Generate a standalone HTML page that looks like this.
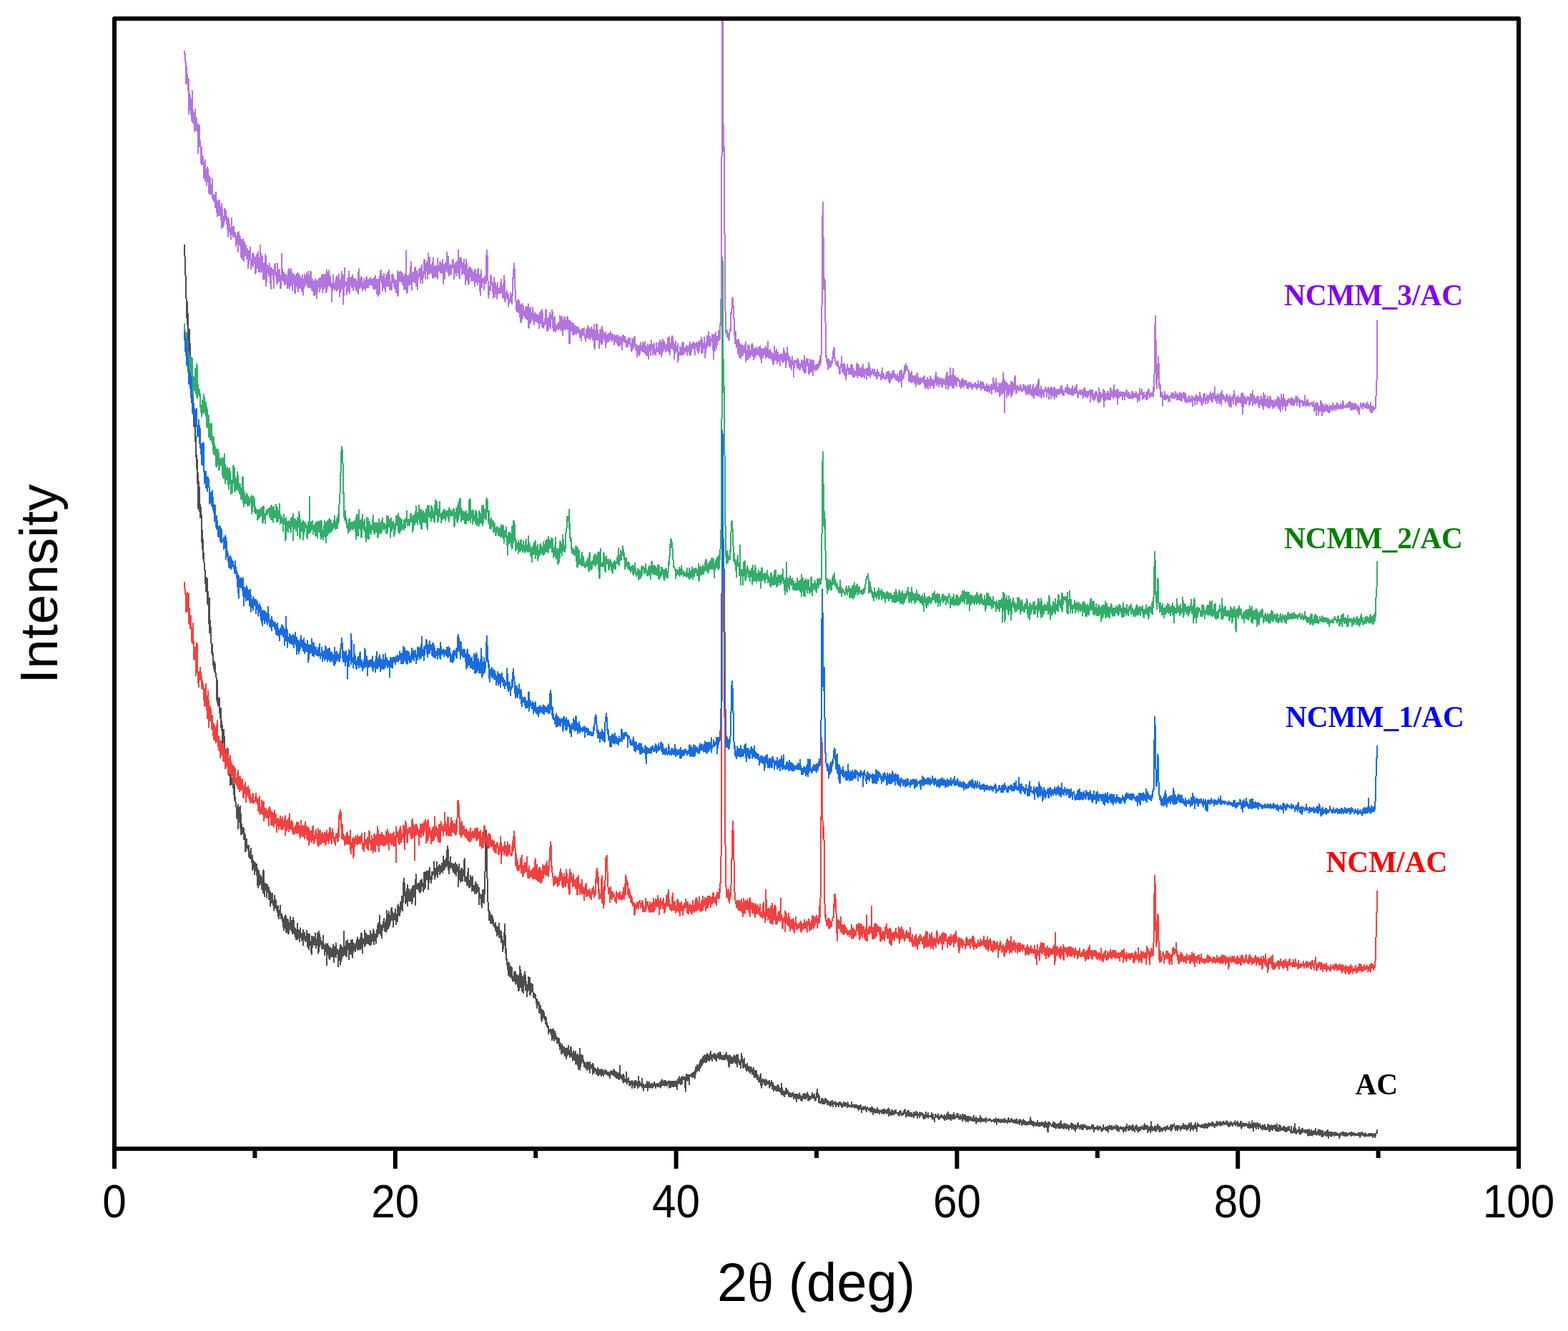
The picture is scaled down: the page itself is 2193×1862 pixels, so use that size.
<!DOCTYPE html>
<html><head><meta charset="utf-8"><title>XRD patterns</title>
<style>html,body{margin:0;padding:0;background:#fff;}
svg{display:block;}
.tk{font-family:"Liberation Sans",Arial,sans-serif;font-size:65.3px;text-anchor:middle;fill:#000;}
.ax{font-family:"Liberation Sans",Arial,sans-serif;font-size:75px;text-anchor:middle;fill:#000;}
.th{font-family:"Liberation Serif","Times New Roman",serif;}
.lg{font-family:"Liberation Serif","Times New Roman",serif;font-weight:bold;font-size:41.3px;}
.c{fill:none;stroke-width:2;stroke-linejoin:round;shape-rendering:crispEdges;}</style></head>
<body>
<svg width="2193" height="1862" viewBox="0 0 2193 1862">
<rect width="2193" height="1862" fill="#fff"/>
<defs><clipPath id="pc"><rect x="163" y="29" width="1958" height="1575"/></clipPath></defs>
<g clip-path="url(#pc)">
<path class="c" stroke="#4d4d4d" stroke-width="2.0" d="M257.8 342l.4 6.8.4 12.6.4 12.1.4 2.3.4 32.6.4 3.4.3 5.7.4 6.2.4 10.5.4 19.9.4-31.6.4 14.5.4 47.3.4-45.3.4 38.6.4-.5.4 15.8.4 12 .4-44.3.4 35.8.3 .3.4 20.4.4 .1.4 32.9.4-20.4.4 33.9.4-20.6.4 13.5.4 2.3.4 4.8.4-8.6.4 22.9.4 6 .3 3.7.4 9.8.4-12 .4 11.1.4 .3.4-7.7.4 29.1.4-7 .4 11.7.4 32.5.4-18.2.4 4.3.4 17.2.4 8.5.3 13.8.4-19.2.4 49.9.4-32 .4-5.7.4 8.3.4 28.7.4 1.8.4 11.6.4-18.9.4 12 .4-4.2.4-3.6.3 26.2.4 22.1.4-.7.4-15.7.4 26.4.4-13.3.4 15.4.4 11.4.4-7.5.4 .8.4 22.5.4-2.6.4 1.9.4 17.5.3-4.9.4 9.6.4-11.2.4 20.4.4-14.8.4 8.6.4-12.4.4 34.8.4-7 .4 8.4.4-17.3.4 23.9.4-.7.3 20.9.4-35.8.4 37 .4 11.9.4-17.7.4 17.6.4-7.4.4 15.2.4 6.7.4 13.4.4-7.7.4-4.9.4 15.6.4-2.4.3 13.5.4-13.6.4 21.3.4-8.9.4 2.9.4 9.5.4-12.4.4 2.8.4 12.6.4-2.4.4 5 .4-.1.4 5.2.4 15.4.3 14.5.4-27.2.4 30.8.4-3.6.4 7.9.4-5.9.4-5 .4 8.2.4-3.4.4-3.8.4 17.4.4 5.6.4-2.5.3 6.6.4-13.4.4 25.9.4-8.4.4 4.6.4 9.4.4-8 .4 31.1.4-9.3.4 2.4.4-7.1.4-10.3.4 17.9.4-8.5.3 10.6.4 2.2.4 10.9.4-4.8.4-.3.4 22.5.4-20.4.4-1.5.4 2.3.4 18.9.4-10.3.4-3.4.4-10.1.3 9.5.4 13.2.4 3.9.4 10.7.4-18.5.4 11.6.4 8.4.4-28.7.4 40.5.4-27.4.4 1.7.4 19.1.4-2.6.4 8.4.3-2.8.4-1 .4-2.3.4-2.4.4 13.6.4-18.3.4 16.8.4 10.4.4-13.4.4 18.8.4 3.6.4-4.8.4 .7.3 8.3.4 3.3.4-4.8.4 20.9.4-2.3.4-2.1.4 5.1.4 1.2.4-19.5.4 32.8.4-29.8.4 14.8.4-8.7.4 15.4.3 .1.4 0 .4-22.8.4 30.2.4-2.8.4-16.4.4 29.1.4-11.5.4-3.3.4 10.6.4-6.1.4 8.6.4-4.5.3-2.8.4-.5.4 16.2.4-4.1.4-5.2.4 2.6.4-.9.4 24.3.4-9.8.4-2.5.4 11.5.4-15 .4-2 .4 5.8.3 6.4.4-1.5.4 .3.4 5 .4-3.1.4-3.6.4 15 .4-6.2.4 1.1.4 7.3.4 .6.4-10 .4 4.1.3-3.6.4-4.5.4 19.4.4-4.7.4-2.3.4-1.8.4 19.8.4-14 .4 8.3.4-1.5.4-5.4.4 10.8.4-1.3.4 9.3.3-4.2.4-12.5.4 9.1.4 1 .4 1.3.4-7.3.4-2 .4 12.1.4 4.5.4-9.9.4 22.7.4-7.5.4-7.2.3 18.8.4-24.5.4 4.3.4 .2.4 16.5.4-13 .4 11 .4-2.9.4-5.4.4 5.5.4-8.7.4 18.9.4-16.5.4 1.2.3 11.3.4-7.5.4 16.7.4-2.7.4-29.8.4 22.5.4-1.5.4 16.5.4-18.1.4 .1.4 3.6.4-.8.4-2.8.4 8.7.3-4.8.4-1.5.4 17.1.4-8.1.4-8.2.4-1.5.4 8 .4-5.4.4 .4.4 17.3.4-7.8.4-2 .4 6 .3-7.6.4 8.4.4 12.6.4-11.7.4-3.2.4-2.8.4 12.8.4-4.7.4 4.6.4-12.8.4 9 .4 4 .4 3.7.4-1.1.3-2.9.4 11.1.4-8 .4-13 .4 5.9.4 8.8.4 2.4.4-10 .4 1.2.4 11.3.4-.2.4 1.2.4 2.8.3-4 .4-5.4.4 14.7.4-1.2.4 5.1.4-7.6.4-1.3.4 1.6.4 1.6.4-13 .4 12.2.4-.1.4 5.9.4 .8.3-3 .4 .3.4-4.7.4 11.3.4-4 .4 0 .4 11.1.4 .3.4-8.2.4 13 .4-5.7.4-4 .4-9.9.3 4.6.4 11.8.4-18.1.4 23.5.4-6.3.4-6.4.4 12.8.4-8.6.4-9.4.4 3.9.4-2.6.4-.6.4 20.3.4-11.7.3-1.7.4 6.4.4-1.3.4-8 .4-1.9.4-6 .4 18.7.4-7.4.4 7.6.4-5.3.4-8.5.4 5.2.4 13.6.3-12.8.4 7.4.4-17.4.4 10.3.4 11.3.4-17 .4 18.5.4-9 .4-.2.4 12.4.4-11 .4 14.7.4-13.2.4 4.8.3 8.9.4-4.3.4-7.1.4-11 .4 22.5.4-12.3.4 10.4.4-11.1.4 2.3.4 3.2.4-.4.4 11 .4-19.7.3 6.7.4 4.8.4 1.3.4-1.6.4 .8.4 5.2.4-9.2.4 .2.4 3 .4 5.3.4-13.2.4 21.4.4-14 .4-1.5.3 2.1.4-4.4.4 1.3.4 4.1.4 5.3.4 1.9.4-6.7.4 .8.4 5 .4-14.4.4 11 .4 7.8.4 3.9.3-11.2.4-7.2.4 5 .4 11.7.4 5.1.4-13.5.4-8.2.4 10.6.4 4.1.4 .9.4-3.1.4 13.4.4-15.5.4 18.5.3-25 .4 16.4.4-2 .4-1.7.4-10 .4 4.3.4-6.5.4 8 .4 1.8.4 1.9.4-11.3.4 3.2.4-9.1.3 14.2.4-7.1.4 13.4.4-10.2.4 6.7.4-5.7.4 2.2.4-1.1.4-12.4.4 19.2.4-11.1.4 20.3.4-30.5.4 12.6.3 8.5.4 .1.4-17.7.4 13.6.4 .1.4 .8.4-3.6.4-2 .4 6.3.4 2.7.4 2.9.4-5.9.4-3.8.4 9.5.3-18.1.4 10.8.4 .8.4 3.7.4 1.4.4 10.3.4-7.1.4 2.2.4-7.4.4-3.7.4 4.4.4-.6.4 26 .3-6.1.4-10.7.4-6.1.4-7.1.4 6.4.4-1.8.4-.6.4 7.7.4 8.7.4 2.1.4-14.2.4 2.1.4 1.5.4-6.1.3 12.8.4-5 .4-2.7.4 3 .4-6.5.4 1.5.4 9.6.4-1.8.4-4.1.4-11.3.4 25 .4-10.1.4 .5.3-12.4.4 10 .4 .2.4-1.8.4 5.7.4-19 .4 19.5.4-10.5.4-.6.4 3.3.4 3.3.4-1.5.4-3.9.4 7 .3 16.5.4-15.6.4-7.5.4 11.8.4-2.3.4-12.6.4 23.4.4-28 .4 13.9.4 10.1.4-23 .4 5.3.4-2.8.3 15.5.4-15.2.4 4.2.4 6.3.4 1.1.4-2.2.4-12.3.4-19.4.4 32.9.4-6.9.4 4.1.4-9.2.4 4.2.4 10 .3-21 .4 9.2.4-10 .4 20.9.4-8.6.4-8.3.4-5.2.4 12.5.4 .2.4-2.5.4 17.1.4-23 .4 11.1.3 4.3.4-13.8.4 8.9.4 3.8.4-18.7.4 4.4.4-4.1.4 11 .4 8.3.4-20.2.4 8.8.4 16.4.4-20.3.4 7.7.3-.2.4-6.8.4 8.7.4-3.3.4-2.9.4-1.1.4 9.7.4-7.1.4-5.5.4 1.5.4 5 .4 .7.4-11.5.3 14.2.4-13.2.4-4 .4 9.1.4 4 .4 3.8.4-13.5.4 4.7.4 8.7.4-7 .4 7.3.4-3.3.4-13.8.4 .1.3 14.4.4-21.1.4 20.1.4-6.6.4-4.9.4 19.4.4-20.1.4 1.1.4 1.8.4-.3.4 5.2.4-1.1.4-17.9.3 22.3.4-.7.4-1.2.4-3 .4-12.8.4 14.1.4-7.7.4-4 .4 6.8.4 3.6.4-10.4.4-.6.4 10.1.4 2.5.3-9.9.4 5.7.4-2.5.4 8.2.4-6.7.4-13.2.4 5.9.4 12.9.4 .7.4-.4.4-9.9.4-4.4.4 10 .3-5.6.4-1 .4-3.1.4 5.9.4-12.7.4 6.9.4 14 .4-13.4.4 7.6.4-7 .4 .6.4-2.1.4 12.6.4-12.2.3-.9.4-.9.4-4.4.4 10.3.4-12.5.4-4.5.4 10.6.4 1 .4-15.3.4 13.9.4-1.8.4-9.3.4-12.8.4 25.1.3-3.8.4 4.5.4-12.9.4 14.4.4-6.5.4 1.7.4 8.6.4-12.3.4-1.3.4-2 .4-6.8.4 8 .4-9.1.3 2 .4-5.1.4 15.9.4-6 .4 7.9.4-11.9.4 .6.4-2.6.4-2 .4 16.6.4-29.7.4 25.6.4-1.2.4-11 .3 3.3.4 8.6.4-10.4.4-13.6.4 8.2.4 12.2.4-14.8.4 13.5.4-10.9.4 7 .4-8.4.4-1.5.4 1.9.3-11.9.4 16.9.4-17.9.4 12.9.4-7.1.4 10.8.4 10.4.4-15.1.4-2.5.4 3.6.4 .9.4 2.4.4-9.5.4 10.8.3-15.2.4 5.5.4 15.9.4-14.2.4 3.3.4-2.7.4-1.3.4 10.7.4-13.4.4-11.1.4 8.4.4 2.1.4-5.6.3-.8.4 11.6.4-5.2.4 6.2.4-9.4.4-9.8.4 5.1.4-1.2.4-1.1.4 6.5.4-17.9.4 9.9.4 10.4.4-20 .3 9.1.4-12 .4-14.9.4-7.4.4 2.7.4 4.4.4 13.1.4 4.3.4-5.4.4 16.3.4-1.6.4-3.9.4-4.4.3-10.1.4 3.4.4 13.6.4-23.1.4 29 .4-11.3.4 .7.4-4.1.4-8.5.4 .7.4 5.6.4 4.7.4 6.5.4-8.4.3 2 .4-11.5.4 13.8.4-3.3.4 10.5.4-7.2.4-8 .4-9.5.4 20.8.4-19.6.4 9 .4 4.7.4-2.1.3-14.1.4 .3.4 14.7.4-3.7.4 16.2.4-27.6.4-15.1.4 11.6.4 1.8.4 2.8.4 4.4.4-.4.4-4.2.4-3.5.3 6.7.4-5.6.4 9.1.4-8.7.4-2 .4 11.6.4-.3.4 2.4.4-17.2.4 12.5.4 2.3.4-6.6.4-9.6.3 4.8.4 4.8.4-3.9.4-.5.4 5.5.4 6.3.4-3.1.4-17.6.4-5.6.4 23 .4-2.1.4-11 .4-11.4.4 22 .3-14.3.4-2.4.4 3.9.4 2 .4-11.8.4 2.1.4 8.1.4 .3.4-10.7.4 25.2.4-7.9.4-4.4.4 .4.4-18.5.3 14 .4 2.7.4-3.4.4 1.1.4 1.2.4 6 .4-3.6.4-11.6.4 10.5.4-10.9.4 4 .4 .4.4-2.6.3-1.4.4 2.7.4 .2.4-17.6.4 14.4.4-4.5.4 14.4.4-8.7.4-5.8.4 7.4.4-2.2.4 2.5.4-16.9.4 10.7.3-4.1.4 15 .4-4.5.4-6.4.4 .7.4-.2.4-2.6.4-2.8.4-2.2.4 14 .4-12.7.4 10.1.4 .1.3-1.9.4-3.8.4 3.5.4-7.8.4-3.2.4 12.2.4-2.3.4 3 .4-8.5.4-14.2.4 9.8.4-2 .4 10.8.4-12.4.3 10.6.4-4.6.4-.1.4-.3.4 1.6.4-10.1.4 11.5.4-19.7.4 0 .4-8.1.4-.9.4 4.3.4 16 .3-6.7.4 24.6.4-11.2.4 1.8.4-3 .4 3.6.4-10.2.4-4.1.4 15 .4-.9.4-5.3.4-.2.4 1.1.4 2.7.3 5.5.4-8.1.4 4.9.4 6.2.4-8.9.4 5.6.4-7.7.4 4.8.4-1.8.4 10 .4-10 .4-4.9.4 9.7.3-4.9.4 12.8.4-5.9.4-5.3.4-4.1.4 7.7.4-1.4.4 .8.4 1.7.4 22 .4-31.5.4 10.9.4 4.4.4 2.7.3-9 .4 3.2.4-3.6.4 16.4.4-18.6.4 8.5.4-9.1.4 11 .4-10 .4 16.5.4-14.7.4 3.6.4 .4.3 3.6.4-6.2.4-7.5.4-10.5.4 22.3.4 9.7.4 .5.4-3.9.4 4.1.4-6.3.4-.5.4 5 .4 6.2.4 .7.3-3.5.4-14.2.4 5.5.4-11.6.4 23.6.4-7 .4 9.7.4 .5.4-9.7.4 6 .4-4.4.4-8.9.4 13 .3 0 .4-.7.4 9.8.4-16.6.4-3.6.4 16.9.4 2.3.4 .2.4-6.6.4 1.8.4 .2.4-.2.4-2.3.4 11.1.3-11.5.4-4.6.4 9.9.4-7.9.4 3 .4 10.9.4-11.2.4 1.9.4 3.2.4-6 .4 8.5.4 1.1.4-5.6.3 0 .4 23.1.4-11.6.4-3.4.4 6.3.4-1.5.4 0 .4-2.5.4 1 .4-.6.4 17.6.4-16.3.4 3.8.4 .5.3-11.9.4 15.4.4-4.8.4-11.8.4 18.4.4-4.4.4-7.8.4-13 .4-13.2.4-11.8.4-21.3.4-16.2.4-13.8.4 5.2.3 15.3.4 20.7.4 20.9.4 16.8.4 12.6.4 10.7.4 3.8.4 1.5.4 18.1.4-13.1.4 3.4.4-1.5.4 9.9.3 1.2.4-3 .4 7.8.4-1.2.4-11.1.4 1.4.4 2.9.4 7.8.4-4.7.4-4.5.4 6.9.4 4.4.4 .3.4 1.9.3-1.2.4 2.4.4-1.6.4-2.7.4-2.4.4 7 .4 5.4.4-7.7.4 .5.4 7.7.4 5.4.4-1 .4-10.8.3-.7.4 3 .4 3.2.4 1.5.4-12.8.4 19.9.4-1.8.4-7.4.4 6.9.4-6.3.4 4.6.4 10.7.4-15.4.4 6.5.3 2.1.4 1 .4 7.1.4-.8.4 12.9.4-15 .4 11 .4-6.6.4 1.4.4-13.7.4-15.8.4 .5.4 18.6.3 13.4.4 8.2.4-5.5.4 14 .4-1.3.4 5 .4-1.9.4 11.9.4-6.2.4 1.2.4 14 .4-17.5.4 7.2.4-7.7.3 3.3.4 1.1.4 14.9.4-13.3.4 12.1.4-1.2.4 3.3.4-8.5.4-5.3.4 1.5.4 15.4.4-3.9.4 5.5.3 1.2.4-6.2.4-1.3.4 4 .4-9.8.4 6 .4 2.2.4 5 .4-13.2.4 .1.4 17 .4-2.6.4-4.9.4 0 .3 3.4.4-8.8.4 4.9.4 11.8.4 .8.4 5.2.4-7.7.4 6.2.4-20.9.4 .3.4-12.3.4 2.7.4 5.8.3 20.2.4 .7.4-17.1.4-2 .4 21.2.4 2.8.4-20.5.4 12.1.4 9.7.4-9.2.4 10.5.4-12 .4 1.2.4-4.8.3-14.3.4 13.1.4-3.7.4 16.7.4-19.7.4 10.4.4 1.6.4 4.4.4-3.9.4 16.1.4-12.3.4-.6.4-1.5.3 6.2.4-19.2.4 6.5.4 6 .4-5.2.4 6.4.4-12.1.4 23.9.4-9.5.4-.3.4-6.4.4 11 .4 1.1.4-7.3.3 3 .4-6.6.4 9.6.4 0 .4 6.2.4 .2.4 2.6.4-6.1.4 2.9.4-1 .4 2.1.4-2.5.4 3.8.3-1.5.4 9.5.4-2.7.4-.2.4-2 .4 12.6.4-8.1.4 3 .4-4.1.4 4.8.4-4 .4 1.1.4 1.3.4 12 .3-6.7.4 7.4.4-10.7.4 7.1.4-3.5.4 5.2.4 7.2.4 6.1.4-16.1.4 8.5.4 1.5.4-3.9.4-.2.4-4.6.3 10 .4-6.9.4 6.3.4 2.6.4-2.8.4-1.1.4 10 .4-3.4.4-5.3.4 7.1.4 3.5.4-3.4.4 5.6.3-.1.4 1.6.4-2.5.4 .1.4 11.3.4-6.3.4 1.4.4 1.6.4-.5.4 .7.4 .2.4-.9.4-3 .4 8 .3-2.4.4-2.8.4 6.8.4 6 .4-14.8.4 6.5.4 6.1.4-13.5.4 7.6.4-.1.4-4.3.4 13.2.4-3.5.3-3.8.4-5.4.4 7.3.4-3.9.4 6.4.4-3 .4 3.2.4 5.6.4-2.3.4-3.7.4 1.3.4-2.3.4 7.5.4-6.2.3 2.2.4-2.8.4 7.1.4 8.3.4-9 .4 .9.4 .3.4 3.3.4 1.8.4 9.2.4-4.3.4-3.6.4-5.2.3 11.5.4-3.5.4-5.8.4 5.6.4-.9.4 5.9.4-3.4.4-5.9.4 5.9.4 6.5.4-5.9.4-3.7.4-.6.4 14.6.3-5.3.4-10.3.4 7.2.4 3.5.4-2 .4-5.9.4 1.9.4-8 .4 7.8.4 .5.4 4.5.4-4.4.4-1 .3 9.1.4-2.2.4-6.3.4-6.4.4 1.9.4 7.2.4 1 .4-.2.4 4.8.4 4.7.4-4.2.4-1.9.4 .2.4-7.5.3 11.7.4-5.2.4 6.1.4-10.1.4 4.7.4-6.7.4 7.1.4 11.1.4-12.9.4 1.9.4 .1.4 4.6.4-6.8.3 3 .4-4 .4 20.9.4-16.6.4 2.4.4-4.7.4 6.4.4-1.3.4-14.8.4 29.8.4-14.8.4 .4.4 5.3.4-11.8.3 7.4.4-3.4.4 2.6.4 1.2.4-7.2.4 7.5.4 3.2.4-4.2.4 4.3.4-1.3.4 6.1.4-5.3.4 1.9.3-.6.4-1.1.4 7.3.4-4.3.4-.1.4 1.7.4 5.5.4-11.3.4 9 .4-9.3.4 3.7.4 3.6.4 2.3.4-8.2.3 8.5.4-1.9.4 7.1.4-14.8.4 7.8.4-3.9.4 .6.4 1.8.4-1.9.4 4.4.4-1.2.4-4.1.4 13.4.4-8.6.3-6.7.4 6.2.4 1.6.4-1 .4 .4.4 6.1.4-6.5.4 .7.4 0 .4 .9.4-.8.4 3.1.4 3.7.3-3.2.4 .3.4-2.1.4 .1.4-3 .4 11.2.4-6.8.4-2.1.4 3.3.4-.6.4 4.4.4-2.3.4-4.4.4 1.9.3-1 .4 2.3.4-3.9.4 9.5.4-3.7.4-.5.4 .3.4 1 .4-5.6.4 4.4.4 3.9.4-.5.4-6.4.3 1.6.4 .4.4-3.9.4 3.1.4 1.5.4 1.3.4-1.7.4-3.3.4 3.1.4-1.4.4 4.4.4-.2.4-3.5.4 4.6.3-4.9.4 2.3.4 3 .4-1.9.4-2.4.4 1 .4 6.7.4-7.7.4 1.6.4-3.8.4 4.3.4-2.7.4 3.5.3-4.6.4 4.2.4-1.6.4 .9.4 .6.4 1 .4-4.8.4-2.9.4 5.3.4 2.8.4-5.5.4 7 .4-6 .4 3.5.3-.2.4 .4.4 4.5.4-8.3.4 .9.4 1.7.4 2.6.4-3.6.4 7.7.4-4.3.4-.1.4-1.2.4 5 .3 1.8.4-19.8.4 17.2.4-5.4.4 5.4.4 .1.4 0 .4-1.2.4-.9.4 4.5.4-5.8.4 8.6.4-2.2.4-6.8.3-1 .4 11.6.4-5.8.4-3.1.4 7.2.4-2.6.4 1.5.4-1.4.4 .6.4 2.1.4 1.1.4-14.5.4 11.9.3 3.1.4 1.5.4-4.4.4 1.2.4-2.1.4-2.9.4 4.3.4 4 .4-1.8.4 4.4.4-5.7.4 3.8.4-2.1.4 2.2.3-3.9.4 2.1.4 .2.4 1.1.4 5.8.4-10.9.4 7.2.4-5.2.4 2.6.4-1.2.4 .8.4 5.3.4-7 .3 7.8.4-9.7.4 3.9.4-1.5.4-2.6.4 5.1.4-3.4.4 4.9.4-5.4.4 3.5.4 .1.4 5.2.4-4.6.4-3.6.3-8 .4 9.7.4 4.5.4-2.1.4-4.4.4 3.1.4 1.5.4-2.5.4 1.2.4-.4.4 .8.4 2.9.4-10.3.3-.5.4 11.4.4-4.2.4 4.6.4 4.6.4-8.8.4 .9.4 3.6.4 .1.4-1.1.4 .4.4-2.9.4 2 .4-3.1.3 3.9.4-3.8.4 1.8.4 .7.4-6.5.4 13 .4-11.3.4 3.3.4-.2.4 .6.4-4.9.4 8.3.4-2 .4-.3.3 .5.4 2.2.4-4.1.4-.9.4 4 .4-5.2.4 1.9.4-1.4.4 5.3.4-3.1.4 2.7.4-1 .4-4.2.3 2.4.4-2.4.4-2.1.4 4.8.4-2.8.4 2.4.4-.7.4 4.9.4-4.9.4-.5.4 1.1.4-2.4.4 3.1.4 1 .3-2.7.4-1.8.4 1.1.4 4.1.4-3.9.4 1.7.4-1.9.4-.1.4 3.8.4-6.5.4 8 .4-3.1.4 1.2.3-3.7.4-1.8.4-3.8.4 3.2.4 4.7.4-1.4.4 .1.4-3.8.4-.8.4 5.8.4-6.5.4 .3.4 7 .4-2.6.3 .7.4-3.3.4-1.8.4 2.2.4 1.3.4 2.5.4 1.1.4-5.2.4 2.6.4-3.1.4 .6.4 .4.4-2.1.3 .4.4 8.9.4-8.3.4 6.8.4-5.6.4 2.7.4-4.8.4 9 .4-3.6.4-4.8.4 3.6.4 1.9.4-5.3.4 7 .3-4.2.4 .6.4-3.9.4 3 .4 4 .4-3.2.4-1.8.4-1.5.4 .7.4 4.9.4-3.8.4-2.8.4 6.3.3-3.7.4 5 .4 4.4.4-9.2.4-4.5.4-.5.4 6.4.4-.7.4-3.2.4 2.7.4-2.5.4-6.4.4 7.5.4-2.7.3 .4.4-1.9.4 7.4.4-5.7.4-4.8.4 2.6.4 7.3.4-8 .4-2.2.4 3.5.4 .6.4-.3.4-3.6.3 1 .4-.5.4 3.3.4-3.4.4 2.2.4 17.6.4-19 .4-.3.4-.5.4-4.2.4 6.7.4-5.7.4 8.2.4-8 .3 7.2.4-7.2.4 4.3.4-4.1.4 6.1.4 6.9.4-12.2.4-.5.4-.7.4 .5.4 .5.4 1 .4 .6.3-3.6.4 1.4.4-1.2.4-1.4.4 5.8.4-5.9.4 .8.4-.2.4-.5.4-1.9.4 1.6.4 7.8.4-11.2.4-.7.3 5.1.4-8.9.4 6.1.4-5.1.4-1.4.4-2.8.4 7.7.4-7.5.4 4.6.4-3 .4 3.9.4-5.4.4 8.1.3-4.2.4 1.9.4-11 .4 6.2.4 2.8.4-2.5.4-8.6.4-1 .4 2.2.4-.4.4 6 .4-2.4.4-8.3.4 7.5.3-.1.4 .1.4-5.4.4-4.7.4 2 .4 5.5.4-7.8.4 2.1.4 7.6.4-.1.4-1.9.4-6.8.4 8.9.4-11.9.3 2.4.4 3.1.4 2.8.4-7.3.4 8.1.4-4 .4 .1.4-1.4.4 6.5.4-7.5.4-2.7.4 6.9.4 .9.3-1.6.4-9.6.4 10.6.4-5.1.4-.6.4 6.1.4 2.3.4-8.5.4 3.5.4-2.9.4 3.3.4-.9.4 2.8.4-4.1.3-3.6.4 6.6.4-.7.4 3.3.4-8.5.4 4.1.4 5.8.4-7.4.4 4.1.4-1.7.4 .6.4-4.6.4-1.5.3-1.2.4 2 .4 4.4.4 2.5.4-6.4.4 2.9.4 1.9.4-8.5.4 3.9.4 5.9.4-2.7.4-1.2.4 .9.4-1.2.3 4.7.4-2.6.4-2.1.4 4.7.4 .6.4-2.9.4 1 .4-3.1.4 0 .4 3.9.4 1.3.4-7.7.4 6 .3-2.7.4-2.9.4-2.7.4 3.2.4 .9.4 4.5.4 .9.4 1.6.4-4.9.4-1.8.4 3.3.4 12.4.4-12.8.4-2.4.3-1.4.4 6.2.4 4.3.4-6.1.4 7.1.4-8 .4-.9.4 2.3.4 5.6.4-5.7.4-.4.4 1.8.4 5 .3-3 .4-.4.4-7.5.4 5.5.4 2.4.4 1.4.4 .4.4-7.7.4 9.1.4-7 .4 7.9.4-12.3.4 10.1.4-2 .3 7.8.4-8.3.4-8 .4 10.3.4-3.5.4-1 .4 7.9.4-2.1.4-1.9.4-.4.4 1.4.4 5.4.4 2.6.3-10.7.4-2.7.4-7 .4 7.5.4 4.6.4-7.9.4 7.2.4 0 .4 8.7.4-7.1.4 2.3.4 2.2.4-10.7.4 11.5.3-2.5.4 2 .4-2.8.4 6.1.4-5.1.4 2.5.4 5.6.4-.6.4-9.3.4 2.8.4 2.5.4-.6.4 1.5.3 3.6.4-.4.4 .1.4 1.5.4-7.2.4 2.7.4 6.5.4-7.6.4-.8.4 3.3.4-2.2.4 3 .4 6 .4-3.6.3 0 .4-3.2.4-.9.4 9.2.4-10.7.4 3.3.4 10 .4-5.5.4-3.8.4 9.1.4-5.5.4 1.9.4 4.1.4-5.5.3-4.4.4 7.4.4 5.4.4-3.3.4 .5.4-4 .4 4.4.4 5.3.4-.9.4-4.5.4 4.8.4-4.5.4 6.5.3-9.5.4 6 .4-8.7.4 7.3.4 12.5.4-11.5.4 6.4.4-3.2.4 3.8.4-8.3.4 1.5.4 1.6.4 .8.4 .2.3 1.7.4-4.6.4 5.3.4 2.6.4-7.5.4-.4.4 6.6.4-2.1.4 2.6.4-6.6.4 2.4.4 3.2.4-3.7.3 3.4.4-.6.4-2.9.4 1.9.4-2 .4-.8.4 2.1.4 7.9.4-5.3.4 1.6.4-2.9.4 .7.4 1.7.4-6.2.3 1.4.4 1.7.4 8.4.4-1.9.4-6.5.4 2.2.4 4.9.4-3.1.4 7.5.4-4.3.4-2.3.4 2.4.4 2.3.3-1.8.4-2.5.4 5.4.4 .3.4-2.6.4 3 .4 .3.4-.8.4-6.8.4-1 .4 6.5.4 2.1.4-2.3.4-5.2.3 7 .4-4.3.4 .9.4 2.9.4 2.5.4 .3.4-3.1.4 1 .4 5.4.4-15.9.4 12.1.4 1.5.4 1.4.3-2.5.4-1.9.4 6.4.4-5.6.4 1.3.4 5.7.4-4.6.4-1.7.4-.8.4 4.3.4-8.8.4 4.9.4 1.7.4 .7.3-6.5.4 4.8.4 2.6.4-4 .4 .7.4-2 .4 7.9.4 .4.4 .1.4-5.2.4 2.1.4 1.4.4 2.3.3-5.6.4 4.9.4-1.1.4 1.5.4 0 .4-3.3.4 2.5.4-2.1.4-2.3.4 4.5.4-4.9.4 8.6.4-1.8.4-2.9.3 2.9.4-2.4.4 1.5.4-3.1.4 5.6.4-5.9.4 1 .4 9.7.4-5.4.4-4.1.4 4.3.4-5.7.4 3.2.3-2.1.4 .6.4 1.8.4 3 .4-.1.4-3.8.4-3.8.4 5.5.4-.4.4 3.3.4-2.6.4 4.4.4-2.4.4-3.5.3 1.9.4-1.3.4 5.4.4-8.3.4 2.3.4 2.4.4-4.9.4 5.7.4-7.2.4 7.9.4-1.3.4-2.6.4 .5.3-3.4.4 6 .4-.3.4-5.5.4 4.3.4-1.3.4 .2.4-6.3.4 11.5.4-2.1.4-4.5.4 1.7.4 5.3.4-5.4.3-.4.4 1.8.4 2.5.4-4.1.4 .6.4 2.8.4-4.4.4-.3.4 2 .4-5.9.4 2.8.4 4.4.4-3.5.4 3.5.3-2.5.4 1.8.4-4.3.4 0 .4 0 .4 8.6.4-4.5.4 1.8.4 1.8.4 .3.4-4.6.4-4.5.4-.5.3-5 .4-.9.4 5.9.4 2 .4 3.8.4-3.9.4 10.3.4-6 .4-2.3.4 6.9.4 3.1.4-1.1.4-.1.4-.5.3-1.5.4-.4.4-2.7.4 4.2.4 2.5.4-.4.4-6.3.4 6.9.4-3.6.4 1.9.4 .9.4-4.5.4 2 .3 3.6.4-7.8.4 3.7.4 2.3.4-5.8.4 1 .4 2.8.4-2.1.4 1.8.4 5 .4-2.1.4 1.3.4-4.5.4 4.4.3-2.1.4 3.2.4-4 .4 2.1.4 .4.4 3 .4-2.8.4-2.9.4 2.4.4 3.5.4-5.3.4-1.5.4 1.9.3 2.9.4-4.9.4 1.3.4 6.6.4-5 .4-.3.4 1.4.4-.1.4-1.6.4 .8.4-2.7.4 4.3.4-.6.4 3.9.3-5.5.4 .4.4-.3.4 .7.4 1.9.4 .9.4-2.8.4 .6.4-1.1.4 4.6.4-5.3.4 .6.4 1.4.3 .4.4-2.8.4 .5.4 1.6.4 1.7.4-2.5.4 .2.4 5 .4-1.8.4 2.3.4-.7.4-2 .4 .6.4-5.4.3 1.1.4 1.9.4 2.4.4-1.5.4-1.4.4-1.2.4 5.1.4-4.8.4 2.6.4-.1.4-.8.4 1 .4 .2.3 2.8.4-6.6.4 2.9.4-1.4.4 4.8.4-1.1.4-.9.4-.1.4-.7.4 1.3.4 1.1.4-.2.4-1.4.4 1.8.3-1.8.4-4.4.4 6.9.4-3 .4-.2.4 2.3.4-1.1.4-.5.4 .5.4 1.6.4-1 .4-.3.4-1.9.3 4.2.4-4.1.4 .9.4 2.4.4-1.6.4 1.6.4-2.9.4 2.1.4 1.7.4 1.1.4-3.4.4 1.6.4 .5.4 3.4.3-5.9.4 5 .4-4.7.4 2.4.4 1.6.4-4.4.4 3.6.4-4.2.4 4.5.4-.9.4 6.1.4-5.6.4 .5.4-1.4.3 2.7.4-3.2.4-.6.4 1.8.4 1.3.4 .1.4-1.2.4-.5.4-2.1.4 .3.4 2.6.4 1.5.4 1.8.3 .9.4-2.2.4-1.9.4-1.9.4 2.2.4-.6.4 .2.4 2.4.4-2.1.4 .3.4 1 .4 .5.4-.1.4 1.9.3-4.9.4 6.1.4-3.9.4-1.2.4 4.3.4-6.3.4 4.7.4-4.6.4 6.5.4-3.4.4 7.4.4-8.2.4 5.5.3-3.5.4 .2.4-.9.4-.1.4 .7.4 3.7.4-1.3.4-.1.4-3.4.4 2.4.4 1.2.4-5.5.4 5.8.4 1 .3-1.9.4-.3.4 .9.4-2.5.4 3.7.4 1.7.4-4 .4 .8.4-1.3.4 0 .4-.2.4-.5.4 3.8.3-2.7.4 .4.4 .5.4-2.2.4 4.1.4-.3.4 1.1.4-5.6.4 3.4.4 2.3.4-6.1.4 2.3.4-1.3.4 2.6.3 .7.4-.4.4-1.2.4 1.9.4-2.8.4 4.2.4-2.4.4-3.8.4 3.7.4 1.2.4-6.1.4 10.4.4-6.4.3-2.5.4 6.2.4 1 .4-1 .4-1.6.4-.9.4 4.2.4-1 .4-6.4.4 6 .4 .2.4-6.1.4 .3.4 6.1.3-2.8.4-1 .4 .2.4 3.3.4-2.8.4-1.7.4 3.6.4-1.8.4 .9.4 0 .4-4.4.4 4.3.4-.2.3 .8.4 .1.4-.1.4-.4.4 1.6.4-1.4.4 3.1.4-4.2.4 0 .4 4.6.4-2.9.4-.9.4-2.6.4 3.8.3-3.9.4 1.7.4 .9.4 3.2.4 .9.4-2.8.4 .7.4-1.6.4 1.9.4-1.5.4 1.2.4 .1.4-5.7.3 1 .4-1.9.4 .4.4 4.2.4 .6.4 2.7.4 2.4.4-5.6.4 3.8.4 .3.4-1.6.4-5.2.4 1.5.4 .3.3 3 .4 2.2.4-7.4.4 3.2.4 1.2.4 1.1.4-2.5.4 4.2.4-1.5.4 1.7.4-4.6.4 5.3.4-5.5.3 3.9.4-.4.4 .6.4 .1.4-.3.4-2.1.4 4.7.4-7.2.4 6.1.4-2.3.4-1 .4-1.5.4 1.2.4 0 .3-3.8.4 5.7.4-4 .4 1.6.4-1.5.4 7.5.4-4.1.4 1.1.4-.7.4 0 .4-.5.4-1.5.4 5.3.4-2.1.3-5.5.4 5.1.4-2.2.4-1.1.4-.5.4 2.3.4-2.2.4 1.4.4 1.4.4-2.4.4 2 .4-.9.4 5 .3-3.4.4 5.3.4-2.8.4-.3.4-2.9.4 .7.4 3 .4 1.1.4-5.3.4-3.6.4 5.7.4-1.5.4 2.1.4 1.4.3-.5.4-2.2.4-3.3.4 6.5.4-1 .4-2.1.4 1.3.4-.1.4-.3.4 0 .4 .9.4-1.5.4 .8.3 .9.4-2.4.4 .6.4-3.9.4 8.2.4-3.7.4 4.3.4-6.5.4 5.1.4 .5.4-1 .4 .2.4 2 .4 3.4.3-9 .4-1.6.4-.1.4 3 .4-.4.4 .4.4-.1.4 1.2.4-.2.4 1.1.4-5.7.4 4.4.4 1.3.3 2.8.4-1.7.4-2.7.4 1.7.4 .8.4-1.5.4-1 .4-.5.4-1.8.4 3.7.4-3.7.4 3.2.4-2.5.4 .5.3 2.2.4 .9.4-1.2.4-.8.4 .7.4 2.8.4-5.8.4 7.1.4-1.7.4-3 .4 3.1.4-2.6.4-.1.3 3.1.4 .5.4-7.3.4 3.1.4 2.4.4-6.7.4 3.9.4-5.8.4 9.9.4-3.2.4 .9.4 .2.4 .4.4-5.1.3 5.8.4-4.7.4 1.3.4 6 .4-7.5.4 3.6.4 1.4.4-5.2.4 2.7.4-.4.4 1.2.4 2 .4-1.3.3-.2.4-6.7.4 4.8.4 3.6.4-3.9.4 .2.4 2.2.4-2.1.4 .1.4 .9.4-3.9.4 4 .4-4.9.4 2.9.3-2.9.4 1.8.4 .5.4 4.9.4-.2.4-2.9.4-.3.4 4 .4-6.7.4 5 .4-2.6.4 3.9.4-.6.3-2.5.4 1.5.4-1.8.4-2.9.4 8.9.4-2.6.4-.4.4-2.4.4 .2.4-2.9.4 6.8.4-5.1.4 1.5.4-.4.3-2.6.4 1.2.4 7.5.4-2.9.4-3.5.4 .7.4 5 .4-3.4.4-2.9.4 0 .4 7.6.4-3.7.4 2.1.3-3.5.4-2.4.4 2.3.4 2.2.4 1.1.4-.1.4-.4.4-3.9.4 4.2.4-2 .4-.4.4 .1.4 3.2.4 .3.3-2.7.4 2 .4-5.3.4 3 .4-4.2.4 5.2.4 1.5.4 0 .4-.3.4 .2.4-5 .4 2.3.4 6.5.4-6.3.3-.3.4 3.1.4 0 .4-2.2.4-.5.4 1.6.4 1.1.4-3.4.4 4.8.4-3.6.4-.6.4 2.3.4-7.1.3 7.9.4 1.3.4-1.9.4-1.8.4 .4.4-2.4.4 2.1.4 1.7.4 .8.4-2.2.4 1.8.4 .3.4 0 .4-3.1.3 2 .4-1.7.4 .9.4 .1.4 .8.4 2.8.4-6.2.4 3.2.4 0 .4-1.4.4 .3.4 .4.4 1.1.3-1 .4-.2.4 1.4.4-1.9.4-.7.4 1.6.4-.8.4 .5.4 .4.4-1.2.4 2.3.4-1.4.4 1.6.4 .7.3-.8.4-.5.4 .2.4 .2.4-.1.4-1.1.4-.9.4 1.4.4 1.9.4 .4.4-1.1.4 .2.4-2.9.3 1.6.4-3.1.4 .7.4 7.5.4-4.4.4-.5.4-1.4.4 2.7.4-.7.4-.2.4-2.6.4 1.2.4 2.4.4-1.8.3 2.4.4-2.8.4 .9.4-.4.4 2.8.4-4.3.4 3.7.4-.1.4-1.9.4 2.1.4-1.3.4-2 .4 .1.3-.3.4 .7.4 3.3.4-4.8.4-.8.4 1.7.4 1.8.4 1.6.4-.3.4 .2.4-2.7.4 1 .4 .9.4-1.2.3 .1.4 3.3.4-3.9.4 1.3.4-2.4.4-2.3.4 5.9.4-1.9.4 2.5.4-1.3.4 .2.4 .1.4-1.9.3 2 .4-3.3.4 2.5.4-3.2.4-.3.4 3.1.4 .8.4-1.7.4 .7.4 2.8.4-2.7.4 2.3.4-.8.4-3.1.3 1.3.4 3.4.4-2.8.4 1 .4 1.6.4-1.6.4-4.1.4 5.8.4-.8.4-1.2.4 1 .4 .8.4 .9.3-2.5.4-1.9.4 3.3.4-4.7.4 7.1.4-4 .4-2 .4 2.3.4-2 .4 3.1.4-3.1.4 2.6.4 3.3.4 1 .3-3.5.4-1.7.4 2.5.4-.3.4-5 .4 2.1.4 1.5.4 3.2.4-1.2.4 1.1.4-4.6.4 2.2.4-.6.4 1.3.3 2.6.4 0 .4-4 .4 1.8.4 1.9.4-1 .4-1.7.4 2.4.4-3.9.4 .5.4 2.8.4-.9.4-2.5.3 2.2.4 .8.4-8.9.4 9.4.4-2.7.4-2.6.4 2.8.4 1.1.4 2.4.4-4.4.4-.1.4 3.1.4-3.9.4 7.6.3-6.4.4 3.4.4-1.6.4 1.9.4-2 .4-.3.4 0 .4 4.2.4-2.1.4-1.6.4 .7.4 2.1.4 .1.3-3.3.4-3.4.4 6.2.4 .9.4-1.1.4 1.5.4-4.3.4 1.8.4 .5.4-.3.4-2.2.4 4.4.4-.3.4-1 .3-.1.4-.5.4-3.2.4 2 .4-1.4.4 4.2.4-3.8.4 .2.4 4.6.4-3.9.4 3.3.4-3.9.4 5.5.3-1.5.4-3.6.4-2.9.4 6.8.4-1.8.4-3.1.4 6.2.4-3.6.4 1.2.4 2.3.4 7.3.4-14.5.4 7.5.4-4.8.3 3.4.4-5.3.4 0 .4 2.1.4-.1.4-.9.4 2.5.4-.4.4 .2.4 1.7.4-.4.4-2.2.4 .3.3 1.8.4 1 .4-4.5.4-1.3.4 6.9.4-5.4.4-1.9.4 6 .4-1 .4-3.2.4 2.1.4 5 .4-4.7.4 1.4.3-2.2.4 2.2.4-2.5.4 2.3.4-2 .4 5.3.4-2.9.4 .6.4-4.1.4 3 .4-1.1.4 3.9.4-2.6.3 .8.4-.9.4-7 .4 7.5.4 2.8.4-5.6.4 2.1.4 .4.4-1.5.4 3.3.4-1.3.4 1.9.4-5.7.4 2.9.3 4.4.4-7.5.4 3 .4 .4.4-.5.4 2.9.4-4.5.4-.7.4 6.4.4-2.8.4-2.9.4 2.1.4-1.2.3 1 .4 0 .4 3.2.4-1.5.4 3.9.4-4.3.4-2 .4 2.1.4-1.5.4 2.3.4-1.7.4-2.6.4 1.9.4-4 .3 8.7.4-1 .4-4.8.4-1.1.4 5.7.4-5.3.4 3.5.4 3.8.4-4.8.4 1 .4 1.3.4-1.6.4-2.7.3 2 .4 7.2.4-6.5.4 0 .4-.5.4 .2.4-1.6.4 1.6.4 2.1.4-7.5.4 5.3.4 .2.4-.7.4-.4.3 .3.4 3.9.4-3.9.4 1.6.4-.7.4-1.6.4 4 .4-4.7.4 6.4.4-1.7.4-1.6.4-3.5.4 6.2.4-2.1.3 .8.4 .2.4-2.7.4 .4.4-3.3.4 1.5.4 2.6.4-.5.4-1.3.4 .3.4 2.1.4 .6.4-.1.3 1.7.4-4.8.4 4.9.4-3.3.4 1.9.4 .1.4-.3.4-2.5.4 .5.4 .8.4 1.5.4-1.9.4 .5.4 2.4.3-2.1.4 .4.4-1.1.4 1.5.4-4.1.4 5.2.4-2.2.4 0 .4 1.7.4-4.9.4 6.6.4 2.8.4-6.9.3 3.9.4-2.2.4 1.3.4-1.4.4 .4.4-1.2.4-1 .4 1.6.4 .1.4 1.6.4-3.2.4-1.4.4 1.9.4-.7.3 2.6.4 2 .4-4.4.4 1.1.4 .1.4-1.9.4 .4.4 1.8.4 .4.4 1.6.4-2.1.4 5 .4-2.2.3-1.6.4 1.5.4 .2.4 .3.4-7.2.4 5.7.4-2.1.4 .3.4 1.1.4-.3.4 .4.4-1.9.4 2.6.4 .2.3 1.3.4-4.3.4 1.7.4 .5.4-2.8.4 .4.4 3.2.4 3.7.4-7.8.4 3.7.4-.7.4 .4.4-5.1.3 4 .4 .7.4-.2.4-2.5.4 3.2.4 .6.4-3.8.4 4.3.4-5.7.4 4 .4-.5.4 1.9.4-1.7.4-1.6.3 1.9.4-1.9.4-1.4.4 1.4.4 .4.4 .9.4 1.4.4 0 .4-2.8.4-2.7.4 4.5.4 .4.4 2.1.3-2.7.4-2.4.4 .8.4-1.4.4 .4.4 7.1.4-2.1.4-2.5.4 .8.4-.6.4-1.6.4-.3.4 1.3.4-1.7.3 3 .4-.6.4 .2.4-.6.4 2.3.4-.7.4-.3.4-2.1.4 6.4.4-6.6.4 2.9.4 2.1.4-3.3.3-.6.4-.9.4 4.1.4-2 .4-1.7.4 4.8.4-7.1.4-2.2.4 5.3.4-2.1.4 .7.4 .6.4 3.6.4-1.6.3-4.8.4 .5.4 5.6.4-5.1.4 2.1.4 1.9.4-2.8.4-2.1.4 2.9.4-2.1.4 3 .4 2.2.4-2.1.3-1.4.4-3.3.4 2.4.4-2.2.4 6.7.4-2 .4 1.7.4-3 .4 5.7.4-2.4.4-3.3.4-1 .4-1.7.4 1.4.3 2.5.4-4.6.4 5.9.4 .8.4-1.9.4-.7.4-1.6.4 6.8.4-5.7.4 3.9.4-2 .4 2.2.4-.7.4-4.6.3 3.1.4-1.4.4 2.6.4-4.6.4 2.1.4-1 .4 1.9.4-4.1.4 4.2.4-2 .4 2.8.4-2.6.4 .2.3 .9.4-.3.4-6.1.4 8.1.4-1.6.4-.7.4 1.1.4-2.2.4 2.4.4-4.8.4 1.4.4 3 .4-4.5.4 4.5.3 4.6.4-1.1.4-1.2.4-4 .4-.5.4 2.2.4 2.2.4-1.4.4-1.2.4 0 .4 5.3.4-15 .4 6.6.3 5.6.4-1.3.4-3.9.4 5.9.4-5.6.4 2.5.4-.1.4 .8.4-1.3.4 2.7.4-2.6.4-1 .4-.2.4-2.3.3 3.2.4 4.7.4-4.1.4 3.4.4-4.9.4 2.4.4 0 .4-6.7.4 3.4.4-.4.4 3.7.4-4.2.4 7 .3-3.7.4-1.9.4-.8.4 7.2.4-3 .4-1.6.4 3.4.4-3.9.4 2.8.4-3 .4 2 .4-.3.4 3.2.4-2 .3-2.1.4-1 .4 1.1.4 1.1.4-.2.4-2.8.4 1.8.4-.4.4 2.8.4 .8.4-5.4.4 .4.4 3.6.3-2.3.4 1 .4-.2.4-4 .4 .3.4 4.7.4-1.6.4 1.5.4-2.4.4 1.5.4-.4.4-1.6.4 2.9.4-2.7.3 2.3.4-5.2.4 3.3.4 4.6.4-2.7.4-5.6.4 .4.4 2.3.4 1.1.4-2.3.4-.6.4-1.4.4 1.4.3-2.4.4 3 .4 3 .4-1.2.4-1.7.4 5.6.4-5.2.4-.6.4 1.4.4 2.7.4-4.5.4 6.8.4-6.5.4 .4.3 3.2.4-2.8.4 3.3.4-1.4.4-3.2.4 1.8.4 1.4.4 .5.4 3.2.4-3.6.4-2.5.4 2.9.4 .5.3-4.3.4 4.1.4-2.2.4-.8.4 2.5.4-6.2.4 .6.4 5.1.4 1.7.4-5.2.4-.3.4 5.1.4-4.5.4 4.4.3-2.6.4 .6.4-2.3.4 4.2.4 2.3.4-2.8.4-2.7.4 1.3.4-2.6.4 2.9.4 1.8.4-3.5.4-.5.4-3.8.3 5.7.4-.6.4 0 .4 6 .4-.8.4-7.8.4-3.1.4 4.6.4-.3.4 4.5.4-.8.4-3.9.4 5.8.3 .7.4-5 .4-.9.4 .8.4 .2.4 2.2.4-4.5.4-3.1.4 3.6.4 4.4.4-3.6.4 .9.4 6.5.4-8.2.3 .9.4-4 .4 3.5.4 1.2.4-1.4.4-1.8.4 1.8.4-.8.4 1.5.4 .4.4-.9.4 .4.4 1.2.3 .6.4-2.5.4-.8.4 2.1.4 1.7.4-3.4.4 .5.4 1.6.4-2.9.4 3 .4 1.1.4-3.2.4 3.7.4-4.8.3-.7.4 4.8.4-2.8.4-2.4.4 3 .4 1.5.4 .6.4-4 .4 5.1.4-3 .4 2.3.4-5.3.4 1.2.3 .4.4-2.6.4 .9.4 3.5.4-3.5.4 0 .4-.6.4 2.5.4-2 .4 2 .4-1 .4 1.6.4-1.7.4-3.1.3 5 .4-3.3.4 1.4.4-1.2.4-1.3.4 5 .4-.5.4-1.9.4 .1.4 3.9.4-2.1.4-1.9.4 0 .3-.8.4-1.3.4 1.1.4 2.7.4-5.7.4 4 .4 .5.4-3.7.4 2 .4 .4.4 1.3.4-.6.4-1.1.4-1.9.3-.7.4 5.6.4-.9.4-2.6.4-1 .4 1.9.4 1.6.4-3.2.4 2.2.4-2.8.4 3.6.4-5.1.4 2.2.3-.4.4 1.3.4-1.5.4-.2.4 3.2.4-1.3.4 .7.4-1.6.4-1.2.4-1.5.4 2.2.4 1.2.4 1 .4-2.5.3 3.4.4-4.4.4 2 .4 3.8.4-1.4.4 2.3.4-2.7.4-.8.4 3.1.4-5 .4 1.3.4-1.5.4 3 .3 .1.4-3.6.4 4.2.4-1 .4-.1.4-.8.4 3.2.4-4.3.4 1.5.4 .6.4-1.1.4-1.4.4-.4.4 2.1.3-4 .4 6.3.4-2.6.4 .9.4-.1.4-.2.4-.2.4-2.1.4 .4.4-2.1.4 7.4.4-2 .4 .6.3-2.6.4 3.3.4-1 .4-1.6.4-.7.4 2.9.4-1.9.4-4.1.4 4.3.4-4 .4 9.4.4-5.2.4-1.7.4 3.6.3-.3.4-3.8.4 3.8.4-2.5.4-.2.4 3.3.4-1.8.4-.9.4-.7.4 2.4.4 .2.4-.1.4-3.2.4 2.7.3-2.3.4 .6.4 1.5.4-1 .4 3.7.4-1.8.4 .9.4-2.1.4 4.1.4-7.9.4 4.3.4 3.9.4-4.1.3 2 .4 .8.4-4.1.4 3.1.4 1.4.4 .3.4 0 .4-9.4.4 9.5.4-4 .4 3.9.4 4.8.4-7.9.4 2.2.3-5.7.4 0 .4 5.3.4 .4.4-.8.4-1.2.4-3.9.4 8.4.4-6.5.4 2.3.4 .4.4-1.5.4-3 .3 5.7.4-1.3.4 4.2.4-3.5.4-2.1.4-1 .4 2.8.4-1.9.4-1.7.4 5.6.4-.9.4-.8.4 2.6.4-2.6.3 2.3.4-2.8.4 5.3.4-6.6.4 4.1.4-1.3.4-2.5.4 1.2.4 3.1.4-2.9.4-2.7.4 5 .4 2.3.3-.7.4-2.2.4-.5.4 .5.4 .1.4 2.5.4-1.3.4-1.8.4 2.4.4-5.7.4-1 .4 2.5.4 1 .4 6.3.3-6.7.4 7.1.4-7.8.4-.4.4 5.5.4-1.1.4-3.1.4 1.7.4-3.9.4 5.9.4-1.1.4 2.5.4-3.6.3-.8.4-2 .4 .5.4 1.6.4 .6.4 1 .4-2.4.4-2.1.4 6.7.4-2.9.4 1 .4 2.2.4 1.5.4-9.9.3 2.4.4 .8.4 2.6.4 .2.4 4.4.4-1.2.4 0 .4-.7.4-6.9.4 6.6.4-2.2.4 3.1.4-1 .3-5.4.4 5.9.4-3.3.4 1.4.4 .1.4-.1.4 1.7.4 0 .4-.5.4-3.9.4 4.5.4-1.2.4-.5.4 1.1.3-4.8.4 2.7.4 3.2.4 1.6.4-5.5.4 3.8.4-.7.4-1.8.4 4 .4-5.2.4 1.7.4 .2.4-3.1.3 4.9.4-4.8.4 3 .4-4.1.4 4.6.4-.2.4 1.6.4-.5.4 .5.4-.1.4 3.8.4-8.9.4 6.5.4 .4.3 0 .4 1.9.4-1.8.4-.5.4 .9.4-4.7.4 0 .4 5.5.4-3.1.4-9.2.4 10.1.4 2.4.4-1.2.3-4.8.4 3.9.4 3.7.4-.3.4-2.4.4-1.6.4-.4.4 .2.4-.9.4 2.6.4-2 .4 2.3.4-6.8.4 8.4.3-2.6.4-2 .4 6.1.4-1.9.4-4.3.4 0 .4 1.1.4 2.9.4-6 .4 5.6.4-5.7.4 3.2.4 .6.4-.2.3 1 .4-.8.4 .3.4 .8.4-2.5.4 3.7.4-2.2.4-1.4.4 1.4.4-1.3.4 3.5.4-4 .4 4.4.3-.7.4 1.6.4-4.7.4 7.9.4-4.6.4-.8.4-.2.4-4.1.4 1.7.4 6.6.4-2.7.4-2.6.4 5.8.4-5.3.3-1.9.4 1.4.4 .4.4 .7.4 5.4.4-4.9.4 2.9.4-3.9.4 1.1.4 2.9.4-5.2.4 1.6.4 2.3.3-2.6.4 3.5.4-3.4.4-4.4.4 7.5.4-1.5.4 2.9.4 0 .4-4 .4 3 .4-.7.4-.3.4-5.7.4 5.3.3-.4.4-3.3.4 6.9.4-3.8.4-4.1.4 5 .4-1.5.4-1.8.4 6.2.4-6.7.4 3.8.4 .4.4 1.5.3 2.9.4-8.9.4 4.6.4 .5.4 2.1.4-2.9.4-.6.4-1 .4 3.1.4-1.4.4-2.5.4 1.8.4 3.3.4-4.6.3 .8.4-.7.4 5.3.4-7.5.4 4.3.4-5.5.4 4.3.4 2.6.4 4.9.4-4.7.4-3.9.4 2.3.4-2.2.3 .4.4-.2.4 4.3.4 1.3.4-4.8.4-.8.4 1.2.4 2.4.4 1.4.4-5 .4 2.6.4-1.3.4 .2.4-1 .3 3.8.4 .3.4-1.3.4-3.5.4-.2.4 .8.4 3.5.4-2.7.4 2.1.4-1.6.4-.8.4 2.6.4 .8.3-.6.4-1.8.4 1.5.4-.3.4 .8.4 1.2.4 2.6.4-5.2.4-.6.4 3.6.4-4.6.4 2.7.4-.1.4-1 .3-.7.4-.1.4-2.1.4 .4.4 3.6.4 .1.4-3.7.4 1.3.4 0 .4-1.1.4 4.5.4-.7.4-2.2.3-1 .4 .2.4 3.9.4-1.9.4-2 .4 2 .4-1.3.4 3.7.4-2.1.4-.5.4 .6.4-1.8.4 1.3.4-.9.3 .8.4-1.7.4 .8.4-.2.4 2.2.4-1.2.4-.7.4-2.6.4 0 .4 5.7.4-1.9.4-2.2.4 3.1.4-3 .3 .3.4 .8.4-1.2.4 1.9.4-.8.4-.4.4 3 .4-3.5.4 1.5.4-1 .4 2.2.4-.1.4 .4.3-1.3.4 .8.4 0 .4-2.2.4 1.6.4 1.5.4-4.1.4 2.6.4 .8.4-3.3.4 3.1.4-1.5.4 4.4.4-5 .3-1.2.4 4 .4-1.5.4 .5.4-2.6.4 2.5.4-3.5.4 4.2.4 .1.4-2 .4-.5.4 3.5.4-.8.3 .5.4-2.5.4 1.5.4 1.6.4-4.1.4 2.5.4-1 .4 .6.4 1.5.4-2.1.4 .5.4 1 .4-.6.4-.1.3 1.6.4 0 .4-3.5.4 2.6.4-3.1.4 2.8.4-2.3.4 3.3.4-3.6.4 2.4.4-1.6.4-.6.4 2.2.3-1.9.4 3 .4-3.4.4 5.7.4-3.4.4 .2.4 1.1.4-3.1.4 .8.4 1.5.4-.9.4 3.3.4-4.7.4 3.5.3-2.7.4-1.6.4 .2.4-.7.4 .5.4-2.4.4-3"/>
<path class="c" stroke="#f44040" stroke-width="2.0" d="M257.8 817.5l.4-2.7.4 11.4.4 5.3.4-4.4.4 10.2.4 18.7.3-3.7.4-1.5.4 1 .4-23.1.4 26.7.4-25.5.4 13.6.4-.2.4-12.3.4 19.7.4 22 .4-16.8.4-4.9.4 15.4.3 12.8.4-4.6.4-.1.4-12.8.4 21.5.4 1.8.4 11.1.4 4.4.4-4.3.4-19.3.4-5 .4 19.3.4 17.6.3-8.4.4 22.9.4-9.1.4 2.6.4 5.4.4-2.3.4-15.1.4 40.8.4-7.2.4 3.3.4-19.7.4-22.8.4 19.8.4 6 .3 20.3.4 8.5.4-.4.4 7.7.4-14.6.4-.6.4-5.9.4 1.2.4-7.1.4 16.8.4-1.1.4-6.2.4-3 .3 13.2.4 9.5.4-9.7.4 4.6.4-4.9.4 6 .4 2.5.4 3.1.4-.7.4 10.8.4 9.8.4-19.9.4 22.9.4-15.8.3 1.4.4-15.5.4-1 .4 31.1.4-14.6.4 19.9.4-4.4.4 4.3.4 12.2.4-10.9.4-27.6.4 15.1.4 25.6.3 10.1.4-18 .4-4.7.4-5.3.4 18.5.4-20 .4 6.2.4 13.8.4 1 .4-1.9.4 13 .4-19.3.4 1.6.4 7.9.3 5.2.4-2.6.4 21.5.4-22.1.4 11.8.4-9.9.4 8.9.4-6 .4 1.2.4 18.5.4-16.5.4 18.9.4-25.8.4 8.6.3 15.3.4-29.3.4 9.4.4 17.2.4 6.4.4 3 .4-5.9.4-8.5.4 20.4.4-2.6.4-12.9.4 11.4.4 14 .3-13.3.4-10.2.4 6.6.4 1 .4 6.8.4 5.5.4-15 .4 3.3.4 15.2.4-1.5.4 6.2.4-23.1.4 5.4.4 17.8.3-15.6.4 12.1.4-1.9.4-4.3.4 20.4.4-10.9.4-2.5.4 4.4.4 4.8.4-24.7.4 17.4.4-2.4.4-5.5.3 24.1.4 3.8.4-1.5.4-21.9.4 16.7.4 2.5.4-9.4.4 11.4.4-22.4.4 8 .4-2.9.4 6.6.4-1.9.4 15.7.3-15.4.4 5.1.4-1 .4 22.9.4-24.1.4 11.7.4 11.8.4-23.8.4 3.7.4 5.1.4-7.2.4 21.8.4-12.8.3 13.4.4-3.3.4-3.3.4 8.4.4-9.5.4 11.7.4-18.4.4 5.3.4 16.3.4-25.8.4 21.1.4-6.4.4-.4.4-.7.3 16.2.4-21.5.4 18.9.4-2.2.4-6.5.4 3.1.4 6.5.4-9.4.4-6.4.4 13.9.4-12.9.4 8.7.4 3.8.3 5.2.4 7.9.4-10 .4-1.2.4 5.2.4-3.3.4-12.9.4 7.7.4-3.7.4 13.1.4 10.7.4-12.1.4-8.5.4 12.2.3-11 .4 8.5.4-9.6.4-1.1.4-.3.4 11.8.4-8.5.4 13.5.4-12.5.4 14.6.4-7.6.4 12.2.4-1.3.3-6.5.4 2.4.4 .4.4 1.2.4-4.1.4 7.2.4-6.8.4-6 .4 9.7.4-1.4.4 4.7.4-.8.4-2 .4 .2.3 .4.4-3.6.4-2.6.4 2.3.4 4 .4-11.3.4 10.1.4-2.8.4 5.5.4-4.3.4 6.3.4-1.5.4 11.5.3-11.3.4 1.4.4 2.5.4-12.9.4 6.1.4 18.8.4-6.2.4-2.5.4 7.7.4-8.6.4 .1.4 .2.4-9.9.4 19.6.3-7.3.4 1.1.4-2.8.4 .3.4-9.5.4 14.8.4 12.2.4-6.8.4-7.3.4-3.5.4 5.8.4 2.2.4-2.7.4 5.9.3-10.6.4 12.7.4-5.4.4-4.1.4 2 .4 4.5.4 3 .4-4.1.4 3.7.4 11.7.4-24.9.4-1.5.4 12.7.3-5.8.4 6.4.4-9.6.4 10.7.4 6.2.4 4.2.4-17.6.4 4.7.4 11.4.4 1.7.4-16.5.4 .8.4 12.5.4-9 .3-4 .4 19.2.4-22.7.4 6.8.4 11 .4-9.8.4 9 .4-11.8.4 12.3.4-1.5.4 14.4.4-18.1.4-.4.3 1.7.4 6.8.4-10 .4 3.6.4 12.2.4-6.5.4-.1.4-6.9.4 8.3.4-11.7.4-1.8.4 3.6.4 14.7.4-7.4.3-6.4.4 3.8.4 5 .4 4.4.4-16.6.4 17.8.4-2.3.4-9.8.4 1.8.4 5.5.4-4.8.4 2.7.4-7.5.3-4.8.4 27.1.4-14.3.4 .4.4 1.9.4 5.4.4-2.5.4-12.4.4 6 .4 1.3.4 4.5.4-8.5.4 6.4.4-.9.3 7.5.4-25.2.4 17.3.4 1.8.4 2.3.4-4.2.4-5.1.4 9.8.4-1.8.4-7.6.4-3.1.4 12.4.4-8.9.3 9.9.4 5.7.4-8.2.4 .3.4-.5.4 8.1.4 .3.4-8.1.4 4.3.4-4.1.4-3.1.4 8 .4-5.1.4-4.4.3-3.7.4 15.3.4-11.5.4-.6.4 5.2.4 6.2.4-14.2.4 14 .4-1.3.4-8.9.4 .7.4 5.6.4 11.9.3-13 .4 8.6.4-.7.4-20.1.4 15.4.4 5.6.4-8 .4 9.8.4-12.8.4-2.2.4 6.1.4 6.5.4-6 .4 8 .3-14.7.4 5.9.4 12.3.4-23.8.4 17.5.4-7.5.4 1 .4 2.8.4-7.4.4 16.1.4-2.1.4 4.5.4-7.1.3-7.6.4 11.3.4-14 .4 3 .4 22.1.4-7.3.4-4.5.4 7.8.4-13 .4 9.9.4-13.4.4 3.6.4 3 .4 9.9.3-15.1.4 12.1.4-7.2.4-11.5.4-.9.4 8.2.4 11.5.4-5.2.4 9.8.4-10.1.4 7.6.4-7.1.4-6.8.3 9.6.4-8.4.4-3.6.4 3.9.4 2.1.4 3.6.4 3.3.4-1.2.4 8 .4-21.7.4 9 .4 16.2.4-16.1.4-5.3.3 2.9.4-1.2.4 2.9.4 13.5.4-18.9.4 4.4.4 13.3.4-6.9.4 .3.4-4.4.4 8.7.4-12.9.4 13.3.4-5.5.3-2.1.4-2.3.4 10.4.4-4.2.4-5.2.4 3.7.4-8.5.4 17.2.4 .7.4-1.9.4-6.2.4 1.6.4-13.6.3 7.2.4 .8.4 .8.4 5.4.4-7.7.4-2.1.4 13.5.4-10.6.4-2.3.4-9.5.4 4.4.4 7.7.4 3.4.4-14 .3 11.9.4 4.1.4-7.5.4 3.6.4 8.9.4-14.2.4-6.2.4 8.5.4-3.3.4 5.3.4 4.8.4 1.1.4-3.6.3 6.9.4-6.7.4 9.6.4-9.7.4-.5.4-5.1.4 3.3.4-3.8.4 1.7.4 2.3.4 6.9.4-9.6.4 8.5.4-16.9.3 4.4.4 7.4.4-8.6.4-22.1.4 5.6.4-7.8.4-5.1.4 1.4.4 1.1.4 3.3.4 16.1.4 5.5.4 5.7.3 7 .4-19.9.4 14.9.4 5.4.4-6.3.4 .8.4-.9.4 8.1.4-2.3.4 9.4.4-5.7.4-1.1.4-1.6.4-5.2.3 6.7.4 5.2.4-2.4.4-11 .4-3.1.4 16.3.4-2.4.4-.4.4-8.4.4 12 .4 0 .4-7.2.4 6.3.3-11.1.4 6.3.4-14.2.4 12.8.4 20.2.4-12.8.4 7.4.4-8.2.4-2.4.4 0 .4-4.4.4 8.1.4-10.3.4 5.6.3 22.4.4-19.2.4-6.7.4 10.6.4-4.3.4-4.7.4-5.6.4 6.4.4-1.8.4 3.3.4 2.2.4 1.2.4-9.7.3 9.5.4-.7.4-12 .4 11.5.4-2.6.4 2.9.4-9.1.4 4.8.4 .6.4-6.1.4 10.7.4-4.8.4 4.1.4-8.2.3-2.3.4 1.5.4-5.8.4 8.3.4 6.8.4 6.1.4-1.5.4 .8.4 0 .4 4.7.4-10.9.4 4.2.4-1.6.3-17.7.4 15.1.4-.6.4 1.8.4-4.8.4-1.2.4 1.1.4 10.2.4-4.9.4 5.6.4-15.2.4 13.3.4 4.4.4-15.9.3 5.5.4-9.7.4-7 .4 8.1.4 8 .4 1 .4-3.7.4 6.2.4-1.8.4 9.3.4-20.3.4 3.2.4 1.7.3-.5.4 1 .4 18.1.4-19.4.4 8.4.4-13.6.4 4.7.4 14.5.4 1.6.4-22.3.4 24.2.4-11 .4-8 .4 8.1.3-7.4.4-5.5.4 10.7.4 4.1.4 1.5.4-27 .4 8.4.4 9.9.4 8.2.4 8.5.4-18.4.4-5.5.4 11.7.4-7 .3 8.2.4 1.8.4-2.9.4-10.9.4-1.5.4-1.9.4 15 .4 2.5.4-14.5.4 3.3.4-2.7.4 5.3.4-4.8.3 0 .4 14.1.4-2.3.4-5.9.4 7.4.4-11.7.4 7.1.4-14.6.4 6.5.4 11.5.4-14.6.4 5.2.4-11.6.4 6 .3 8.4.4 .3.4-10.6.4 24.5.4-4.3.4-16.2.4 10.4.4-3.4.4-5.2.4-4.4.4 8.1.4-.8.4 9.2.3-6.9.4-7.9.4 2.2.4 4.3.4 6.6.4-14.3.4 9.5.4 6.9.4-18.4.4 19 .4-13.1.4 3.2.4-3.3.4 6 .3 .8.4 .1.4 29.5.4-49.7.4 13 .4-5.5.4 7.3.4-3.4.4 2.9.4 1.4.4-7.3.4 13.5.4-16.1.3 6.1.4 3.5.4 8.8.4-18.3.4-6.5.4 18.6.4-3.3.4-10.4.4 17.2.4-6.3.4-4.3.4-.3.4 2.7.4-3.5.3 4.4.4-.2.4-16.1.4 2.8.4 20.9.4-14.5.4 23.9.4-19.8.4-18.9.4 19.3.4-7.7.4-9.2.4 14.5.3-7.4.4 5.8.4 14.6.4-8.3.4-4.9.4 .1.4-.1.4-5.2.4-2.5.4 3.6.4 3.9.4-6.6.4 3.7.4 1.7.3-6.7.4 13.8.4 1.6.4-7.8.4-8.1.4-7.3.4-4.1.4 26.3.4-7 .4-5.8.4-6.7.4 9.6.4 8.1.3-4.6.4-10.1.4 47.6.4-36 .4-13.3.4 12.2.4 .1.4 2.4.4-2.7.4-11.8.4 11.9.4-8.7.4 6.9.4-1.4.3 5.3.4-3.3.4-4 .4 21.4.4-21.4.4-.2.4 5.8.4 2.7.4 1.1.4-17.3.4 6.3.4 11.8.4-4.8.3-1 .4-12.1.4 0 .4 4.2.4 7.3.4 3.9.4 .9.4-19.5.4 12.7.4 1.1.4-3.4.4 .1.4-4.6.4 4.9.3-13.9.4 32.1.4-14.1.4 8.9.4-16 .4-6.3.4 24.7.4-27.7.4-.8.4 21.4.4 4.6.4-14.7.4 3.4.4-.3.3 5.6.4-9.9.4 13.4.4-.9.4-6.9.4 1.4.4 15.4.4-13.9.4-5.1.4 16.1.4-4.7.4-13.4.4-2 .3 16.9.4-1.7.4 .7.4 2.3.4-19.6.4-12.8.4 27.7.4-.5.4-5.5.4 3.8.4-10.4.4-1.9.4 5.4.4 4.4.3 1.2.4-5.1.4 4.8.4 10.7.4-11.7.4-6.8.4 15 .4-19.9.4 9.4.4 11.5.4 3.7.4-6 .4-14 .3-9.3.4 8.7.4 2.3.4 1.4.4-7.8.4 3.2.4 4.8.4-1.2.4 8 .4-4.9.4 0 .4-7.6.4 4.3.4-24 .3 20.1.4-7.8.4 12 .4 1.8.4-2.8.4 8.9.4-14.2.4 3.7.4-2.9.4 1.5.4 10.5.4-24.3.4 26.5.3-1.8.4-4.9.4-5.9.4 3.8.4-4 .4 12 .4-16.5.4 1 .4 6.6.4-16.2.4 25.4.4-11.3.4 6.9.4-3.7.3-12.1.4 11.4.4 2.4.4-10 .4 1.1.4-.2.4 11.3.4-12.5.4 2 .4 5 .4 1.1.4-4.8.4 12.6.3-.9.4-19.2.4 15.3.4-12.5.4-4.9.4-6.4.4-16.8.4-3.1.4 0 .4 1 .4 16.7.4-6.9.4 17.6.4-4.7.3 22.9.4 1.7.4-17.1.4 12 .4-.6.4 8.8.4-21.9.4 12 .4 7 .4-6.7.4-1.4.4-4.4.4 10.2.3-3 .4-6.8.4 9.1.4-4.7.4 5.8.4 2.7.4 2.4.4-4.1.4-7.8.4 4.8.4-.8.4 8.4.4-10.1.4 13.5.3-9.7.4 5 .4-6.6.4 10.4.4-11 .4 13.9.4-7.3.4 2.4.4-1.1.4-8.6.4 14.2.4-18.6.4 10.6.3 4.6.4 1.7.4-10.6.4 1 .4 1.8.4-4.9.4 5 .4-4 .4 9 .4-4.3.4-3.9.4 .6.4 5.8.4-10.8.3 1.2.4 2 .4 8.6.4-12.9.4 12.1.4 5 .4-9.2.4 2.2.4-7.5.4-2.4.4 8.5.4 6 .4-4.6.3-4.6.4 3.9.4-4.1.4 19 .4-15 .4 14.1.4-19.9.4 4.2.4 15.7.4-10.9.4 15.9.4-8.4.4 4 .4-18.9.3 11.5.4-3.2.4 12.8.4-13.1.4 3.2.4-5.1.4-14.5.4 23.9.4-6 .4 4.7.4-8.4.4 6.1.4-4.9.4 2.3.3 4.6.4-4.3.4 7.2.4-10.8.4 5 .4 11.4.4-13.1.4-6.6.4 19.9.4-10.4.4-10.2.4 5.6.4 11.3.3-10.8.4-3.4.4 15.3.4-2.4.4 2.6.4-7.2.4 6.4.4-8.7.4 4.2.4 3.7.4 .7.4 5.9.4-1.8.4-10.6.3 2.5.4 8.6.4 3.9.4-4.7.4-5.5.4 4.3.4 6.1.4 1.5.4-12.1.4-2.4.4 6.7.4-4 .4 4 .3-5.5.4 7.8.4 1.4.4 6.2.4-1.2.4-6.4.4-6.9.4 11.1.4-9.3.4-11.9.4 14.3.4-6.5.4 29.5.4-14.2.3 1.8.4-11.2.4 .9.4 3.3.4-3.8.4 2.9.4 2.6.4-7 .4 4.3.4 8.4.4-6.8.4-11.7.4 5.4.3 1.5.4 1.6.4 4 .4-6.3.4 14.5.4-10.2.4 4.2.4-7.7.4-6.7.4 14.6.4 1.9.4 1.2.4-6 .4 1.8.3-9.4.4-.1.4 9.2.4 2.5.4-.1.4 2.4.4 1 .4-.7.4-.1.4-3.2.4-5.8.4-10.7.4 11.1.3 2.9.4-12.2.4-2.2.4-11.1.4-1.8.4 7.1.4 2.4.4 11.4.4 4.9.4 7.4.4 14.3.4-.6.4-14.9.4 12.7.3-6.3.4 13.4.4 2.6.4-11.5.4 9.1.4 1 .4-1.2.4 2.7.4-6.8.4 3.4.4-1.9.4 1.2.4-.2.3-12.1.4 11.8.4 7.7.4-13.9.4 5 .4-14.9.4 20.3.4-1.4.4 10.5.4-1.2.4-14.4.4 1 .4 8 .4-6.2.3 7.4.4-14.6.4 9.1.4-5.1.4-2.8.4 11 .4-8 .4 3.5.4 .7.4-15.7.4 27.5.4-6 .4-.7.3-3.5.4 12.1.4-7.2.4-9.6.4 10.5.4 5.6.4-8.9.4 .5.4 3.9.4 2.3.4-2.1.4-5.6.4 7.3.4-6.2.3-.3.4 10.8.4-11 .4-3.5.4 9.9.4-10.5.4 15 .4-7.5.4 6.8.4-7.2.4-7.3.4-13 .4 13.7.3 14.8.4-11.5.4 9.8.4 1.5.4-19.7.4 8.9.4 2.1.4 11.3.4 1 .4-16.5.4 10 .4-2.3.4-10.3.4 15.7.3 4.2.4-19.5.4 12 .4-9.5.4 12.2.4 6.1.4-16 .4 1.1.4 12.1.4-12.3.4 8.4.4-19 .4 1.7.4 16.9.3-5.6.4-5.5.4-3.6.4 8.6.4-10.3.4 7.5.4 5.2.4-6.1.4-8.4.4-.7.4 7.6.4-11.4.4 18.9.3-9.5.4-3.4.4 5.3.4-2.8.4 12.6.4-13.7.4-6 .4 9.6.4-17.9.4 4.6.4-15.5.4-9.7.4 .9.4 4.6.3 7.8.4 21.1.4-.4.4 7.2.4 2 .4 6.2.4-1.1.4 3.2.4 .8.4 8.4.4-10.6.4 2 .4 2.8.3-6.8.4 11.1.4-5.9.4-2.9.4-1.3.4 4.2.4 1.9.4 1.2.4 1.8.4-6.7.4 10.6.4-8.1.4 6.3.4-9.4.3 9.4.4-7.1.4-5.4.4 1.9.4 4.1.4-12.8.4 12.5.4-15.3.4 14.7.4-7.1.4-3 .4 4.5.4 12.9.3 2.9.4-14.6.4 12.8.4-8 .4 10.2.4-11.7.4 4.5.4-12.3.4 16 .4-2.6.4 2.2.4 3 .4-13.2.4 5.3.3-15.7.4 6.7.4-2.2.4 13.8.4-1.5.4-1.2.4-1.4.4 12.3.4-7.5.4-9.1.4 14.7.4 9.4.4-14.8.3-19.8.4 8.5.4 8.8.4-4.9.4-8 .4 11 .4-5.2.4 6.4.4 .2.4 7.5.4-14 .4 12.2.4-15.8.4 16.3.3-2.9.4 2.6.4-3.9.4-4.4.4 6.8.4 1.4.4 4.4.4-4.6.4 1 .4-8.7.4-3.4.4 12.7.4 11.8.3-14 .4-4 .4-9.4.4 18.5.4-8.5.4 2.2.4 5.2.4 2.3.4 6.9.4-3.3.4 .4.4-6.8.4-6 .4 5.2.3 6.5.4-16.5.4 11.5.4 8.4.4-3 .4-5.9.4-.1.4 5 .4-4.2.4 4.1.4 12.6.4-16.3.4-1.4.3 8.2.4-3.3.4-5.4.4-5.5.4 17.9.4 .8.4-9.4.4 3.2.4-1.2.4 1.3.4 5.8.4-5.4.4-2.5.4 2.2.3-.6.4 2.7.4-4.4.4-1.7.4 12.1.4-5.3.4 .7.4 6.6.4-10.4.4-1 .4 2.9.4-6.6.4 .3.4-.5.3 8.2.4-10.8.4 8 .4-1 .4 8.1.4-9.6.4 6.3.4-1.3.4-1.8.4 1.1.4-20.8.4 5.2.4-10.5.3-6 .4-2.8.4 1.1.4 4.9.4 15.9.4-10.1.4 22.4.4-9.4.4 17.5.4-12.9.4 7.8.4-1 .4 .1.4 4.3.3-5.5.4 6.2.4-2.5.4-13 .4-16.2.4 38.5.4-25.4.4 13 .4-4 .4-.4.4-1.9.4 25.6.4-17.2.3-13.7.4 6.3.4-8 .4 2.7.4-19.4.4-20 .4 4.6.4-7.1.4 4.7.4 5.9.4-12 .4 21.9.4 12.5.4 9 .3 1.2.4 8.4.4-7.6.4 4.1.4-.6.4 3.7.4-7.3.4 20 .4-21.6.4 3.8.4 9.8.4-6.7.4 9.8.3 0 .4 .7.4-9.7.4-.4.4 2.7.4-.5.4 2.7.4 1.5.4-1.4.4-2.4.4 9.2.4 .6.4-2 .4-1.3.3-.6.4 6.7.4-12.1.4-3.7.4 4.9.4 1.9.4-1.5.4 .4.4 .2.4 3.2.4-5.6.4-1.7.4 5.2.3 3.4.4-3.8.4-6.2.4 7 .4-3.1.4 5.7.4-5.4.4 2.2.4 5.1.4-4.8.4-1.7.4-1.6.4-3.7.4 9.2.3-14.4.4 3.1.4-3.3.4 7 .4 8.6.4-21.1.4 9.3.4-5.5.4 10.2.4-26.4.4 7.9.4 6.1.4-2.3.3-.1.4-2.5.4 2.9.4-1.3.4 16.8.4-7.9.4 2 .4-1.8.4 11.7.4-5.6.4 3.3.4-5.5.4 12.3.4 1.3.3-9.7.4 2.8.4 7.6.4-2.1.4-3.1.4 6.7.4 3.6.4-3.3.4-1.9.4 5.1.4-3 .4-.2.4 4.3.3 11.7.4-6.3.4-4.8.4-3.6.4 1.9.4 1.4.4 2.2.4-4.7.4 1 .4 1.9.4-7.1.4 5.2.4 1.7.4 2.7.3-2.7.4-4.6.4-3.5.4 2.2.4-3.2.4 1.2.4 2.1.4 1 .4 5.9.4-4.3.4 .4.4 1.8.4-5.2.3-2.6.4 3.4.4-2.1.4 13.8.4 0 .4-8.4.4 2.5.4 6.1.4-.2.4-2.1.4 1.7.4-1 .4-12.1.4-5.2.3 6.7.4 6.8.4-7.4.4 2.5.4 2.4.4-.4.4-5.4.4 4.6.4 6 .4-1.5.4-3.3.4-1 .4 8.8.4 1.1.3-14.2.4 2 .4 .6.4 5.9.4-3.3.4-1.6.4 10.4.4-6.2.4-6.9.4 4.5.4-.7.4 8.7.4-18.3.3 9.7.4 1.5.4 5.7.4-6.7.4 4.2.4 .1.4-14.2.4 6.3.4-.4.4 4 .4-8.1.4 9.7.4-4.3.4 3.1.3-14.8.4 15.3.4-.3.4-10.4.4 7.1.4 4.6.4 9.4.4-16.8.4 4.3.4-5.7.4 10.7.4-14.4.4 4.8.3 4.7.4-.8.4-2.5.4-.1.4-1.9.4 10.2.4-5.9.4-8.8.4 11.8.4 .4.4 5.2.4 3 .4-11.6.4 9.4.3-7.1.4 2.1.4-6.9.4 2.9.4-2.2.4-11 .4 11.3.4-8.2.4 12 .4-18 .4 17.1.4-21.9.4 14.9.3 4.2.4 4.2.4-9.1.4 6.1.4 7.3.4-7.1.4 4.1.4-3.4.4 7.8.4-2.2.4 2.8.4-7.9.4-.7.4-16.1.3 10.9.4 .6.4 12 .4-8 .4-3.3.4 4.8.4-2.6.4-2 .4-.7.4 12.8.4 3 .4-8.9.4 2.4.3 3.1.4-7 .4 4 .4-8.6.4-3.9.4 6.5.4 10.2.4-6.6.4-6.3.4 9.2.4 4.3.4-11.5.4 8.3.4 8.4.3-13.5.4 2.6.4-4.6.4-3.8.4 .4.4 12.5.4-2.5.4-3.7.4 11.8.4-12.5.4 2.6.4 3.5.4-7.6.3-2 .4 2.6.4-3 .4 6.6.4 .4.4-4.4.4-8.3.4 5.6.4-1.5.4 4.7.4 4 .4 6.4.4-.9.4-14.5.3 7.9.4-3.9.4 4.1.4 8.4.4-5.9.4-1.5.4-4.6.4-1.4.4 2 .4 4.8.4 5 .4-5.3.4-4.1.3 .5.4 7.6.4 1.7.4 1.5.4-15.8.4-2.6.4 12.4.4-.5.4 1.1.4 3.3.4-10.2.4 5.4.4-10.2.4 12.3.3-7.4.4-.3.4-9.9.4 17.9.4-2.4.4-1.7.4-10.7.4 3 .4 9.6.4-6.5.4 1.6.4 .7.4-4.1.3 7.9.4-16.5.4 19.2.4-.4.4-5.9.4 1.5.4-4.8.4 10.3.4-13 .4-2 .4 7.2.4-5.1.4 1 .4 10.3.3-19.6.4 14.4.4-9.5.4 6.5.4 1.5.4-.9.4-10.1.4 8.5.4 2.7.4 7.2.4-8.8.4-8.3.4 2.1.4-.8.3 11.7.4-2.6.4-13.2.4 5.7.4 10 .4-15.9.4 11.4.4-4.8.4 2.8.4-6 .4-2.9.4 2 .4 7.4.3 5.1.4-8.8.4 3.2.4 .3.4-9 .4 .2.4 8.8.4-1.3.4-7.1.4-6 .4 6.3.4 0 .4 5.5.4-4.8.3 1.4.4 5.4.4-2.5.4-5.4.4 8.2.4-3.5.4 6.5.4-13.3.4 4 .4-3.5.4-4.7.4 .1.4 6 .3 1.8.4-7 .4 .4.4 6.7.4-9.7.4-4 .4 4.7.4-12.1.4-.2.4-17.2.4-21 .4-53 .4-93.2.4-139.1.3-166 .4-129.2.4-2.6.4 107 .4 94.8.4 67.2.4-1.5.4 1.2.4 56 .4 89.4.4 78.9.4 68.6.4 25.3.3 31 .4 9.2.4 13.8.4-4.9.4-3.9.4 .8.4 7.1.4 1 .4-9.8.4-1.2.4 14.8.4-1.7.4-8.9.4 14.7.3-6.7.4-4.3.4-.7.4 1.6.4-8.7.4-8.2.4-5.6.4-26.3.4-11.6.4-20 .4-14.7.4-8.7.4 6.6.3 19.4.4 20.5.4 8.8.4 19.8.4 13.5.4 20.6.4 1.3.4 .2.4 2.7.4-1.4.4 8 .4-7.4.4 5.5.4 .3.3-8.1.4 11.4.4-2.6.4-2.7.4-5.1.4 12.6.4-10.4.4-2.7.4 12.7.4-6.4.4 2.1.4 2.4.4 3.6.3-12.8.4-3.2.4 14.8.4-7.5.4 3.2.4 3.2.4 10.4.4-18.3.4-.5.4-6.4.4 14.1.4-3 .4 .4.4 9.4.3-15.4.4-2.5.4 3.2.4 9 .4-11.7.4 2.5.4 8.3.4-8.5.4 2.3.4-7.1.4 14.2.4-7.1.4 8.2.3-7.3.4 4.7.4-5.8.4 12 .4-21 .4 25.6.4-9.7.4-8.6.4-1.3.4 7.7.4 1.3.4-4.4.4 10.7.4-7.3.3-6.6.4 7.9.4 5.2.4-13.2.4 3.5.4 11.2.4-4.2.4-1.5.4 10.8.4-1.7.4-16.2.4-1.1.4 10.8.4 3.1.3-6.8.4 4.2.4-6.6.4 8.9.4-11.9.4 8.9.4 2.3.4-4.8.4 1.4.4 .3.4 5.2.4-9.8.4 11.9.3-16.9.4 17.4.4-5.4.4 3.3.4 2.1.4-4.5.4 5.6.4-4 .4-3.5.4 6 .4 2.3.4-19.4.4 12.5.4-14.5.3 13.9.4-.2.4-.4.4 14.5.4-6.7.4-1.8.4-36.5.4 40.9.4-13.5.4-13.7.4 19.1.4-3.2.4 0 .3 12.3.4-11.5.4-4.2.4 12.6.4-12.9.4 13.7.4-13.4.4 11.6.4 8.5.4-6.2.4-11.4.4-6.4.4 8.3.4-7.7.3 21.1.4 3.4.4-28.7.4 12.7.4 6.7.4 9.2.4-20.8.4 8.8.4-8.4.4 4 .4 10.2.4-20.2.4 14.8.3 6.2.4-18.3.4 6.2.4 17.7.4-11.1.4 7 .4-2.1.4 5.4.4-2.5.4-6.6.4-5.2.4 10.4.4-12.2.4 2.4.3 1.6.4 1.1.4-6 .4 7.8.4 6.7.4-27.6.4-5.3.4 22.9.4 5.2.4 2.7.4-.7.4-2.7.4 15.6.3-9.5.4-4.2.4 4.2.4-2.3.4-3.4.4 3.7.4-4.8.4-2.2.4 22.5.4-29.3.4 8.3.4-.6.4 9.4.4-12.1.3 9.7.4 .9.4 2.6.4 1.5.4-5.4.4-4.3.4 4.3.4-10.3.4 17.8.4-13 .4 4.7.4-.7.4 15.6.3-16.1.4 2.4.4 10.2.4-5.8.4-6.4.4 10.6.4-7.5.4 6.7.4 3.5.4-12.6.4-2.1.4 3.2.4 7.7.4 9.1.3-8.7.4 1 .4-7 .4 3 .4 1.7.4-12.9.4 9 .4-.4.4 3.5.4 5.8.4-4.9.4 4.3.4-1.5.3-.1.4-5.4.4 1.6.4 1.4.4-2.4.4 4.1.4-6.4.4 9.4.4-4.7.4-7.2.4 13.7.4 1.2.4-1 .4-10.2.3-.6.4 3.5.4-2.4.4 7.3.4-7.3.4 .2.4 5.4.4-2.9.4-8.8.4 10.9.4-4.1.4 4.3.4-.6.3-.3.4-6.1.4 1.7.4 4.9.4-8.9.4 15.3.4-7.4.4 .2.4-6.9.4 3.1.4-.6.4-6.8.4 3 .4 13.9.3-13.8.4 6.8.4 4.9.4-8.6.4 4.5.4-3.4.4-1.2.4 8.5.4-8.4.4-10.3.4 5.4.4 4.9.4 5.1.4-8.6.3 10.9.4-17.4.4 3.2.4 6.1.4-2.3.4-1.8.4 7.6.4-11 .4 3 .4 0 .4-5.8.4 8.4.4 1.1.3 .2.4 8.1.4-13.2.4 7.1.4-3.5.4-4.5.4-3.5.4 9.7.4-23.2.4 18.6.4-6.4.4-1.3.4-22.9.4-31.1.3-37.1.4-63.3.4-63.3.4-28.6.4 27.3.4 54.8.4 48.5.4 10 .4-3 .4-12.9.4 8.2.4 15.2.4 33.3.3 48.2.4 7.5.4 13.8.4-2.4.4-1 .4 7.1.4 4.9.4 1.9.4 1.6.4-7 .4 4.1.4-7.6.4 2.8.4 3.1.3 1.9.4 5.9.4-2.6.4 3.2.4-13.5.4 8.8.4-6.3.4 9.2.4-5.8.4 2.7.4 2.2.4-3.4.4-5.6.3 .7.4-2.5.4-.7.4-1.7.4 1.3.4-19 .4 14.9.4-19.9.4-5.9.4-3.5.4 0 .4 4.4.4 4 .4 17.5.3-.2.4 6.6.4 1.3.4 31.5.4-28 .4 6.7.4 3.9.4-11.3.4 1.5.4-1.1.4 7.8.4 .9.4 2.8.3-9.7.4 5.4.4-2.2.4 4.9.4-14.8.4 22.6.4-11.6.4 7.6.4-7.7.4 6.1.4-5.5.4 2.6.4 9 .4 1.4.3-11.9.4 3.2.4-4.5.4 12.1.4-1.6.4-.6.4-8.2.4 6.2.4-2.4.4-.4.4 2.6.4 3.6.4 2 .3-3.2.4 3.8.4-4.7.4-1.2.4 2.8.4-1.4.4-.1.4 6.8.4-2.1.4-4 .4-1.8.4 3.9.4 1.1.4-5 .3-3.4.4-5.2.4 19 .4-8.8.4-1.2.4 5.7.4 4.1.4-14.3.4 13.8.4-1.7.4-1 .4-7.9.4 1.3.3 3.5.4-.2.4-2.8.4 4.9.4-1.9.4-7.4.4-4.9.4 8.2.4 .2.4-6.5.4 1 .4-2.7.4 6.8.4-9.1.3 15.6.4-6.9.4 2.7.4 12 .4-11.2.4-11 .4 16.1.4-7.5.4-8.2.4 .3.4 7.3.4-1.4.4 11.2.4-13.7.3 8 .4-.6.4-8.2.4 8.4.4-3.7.4 0 .4 1.1.4 11.1.4-8.3.4 9.9.4-13.5.4-3.8.4 9 .3-26.1.4 33 .4 3.2.4-4.8.4-5.5.4-4.8.4 5.1.4-8.6.4 7.4.4-1.6.4 2.9.4-10.7.4 9.1.4-4.3.3-3.7.4 1.2.4 5.2.4 1.5.4-37.5.4 31.1.4 13.2.4 1.9.4-8.7.4-3.8.4-3.1.4 15.3.4-11.5.3 5.2.4-13.8.4 4.5.4 14.2.4-4.9.4-3.7.4-10.9.4 12.6.4 .5.4 3.8.4-15 .4 1.1.4 8 .4-.7.3-1.7.4-1.3.4-2.4.4 6 .4-6.4.4 4.6.4 6.1.4-8.3.4 3.8.4 14.1.4-19.4.4 4.3.4 4.5.3 7.2.4-3.1.4 3.5.4-2.8.4-9.3.4 1.1.4 2.9.4 1.8.4 5.8.4-9.6.4 4.6.4 7.5.4-19.7.4 12 .3-1.5.4-2.9.4-.8.4-10.8.4 4.5.4 9.1.4-4.2.4 11 .4-12.5.4 .5.4 11.3.4-6.4.4 6 .3-10.3.4-1.8.4 20.3.4-8.9.4-12.5.4 2.1.4 20 .4-13 .4 14.6.4-15 .4-1 .4 3.3.4 5.7.4-8.7.3-1.5.4-.1.4-.5.4 4.5.4 6.6.4-5.6.4-6.8.4 1 .4-1.6.4 4 .4-8 .4 13 .4-3.6.3-3.5.4 2.2.4 .2.4 1.3.4-.4.4 4.8.4-.9.4-15.1.4 12.3.4 10.4.4-14.9.4 5.3.4-4.1.4-6.1.3 14.7.4-2.5.4-15.1.4 10.1.4 4.2.4 .5.4-10.7.4 11.2.4-2.7.4-8.1.4 4.9.4 6 .4 1.8.3-5.9.4 8.3.4-7.2.4 2 .4 2.4.4-9.2.4 5.6.4-6.5.4-1.9.4 4.7.4-.4.4 3.7.4 3.3.4-3.1.3-3.2.4 5.1.4-6.4.4 5.2.4 7 .4-7.1.4-10.7.4-1.9.4 18.7.4-.8.4-3.8.4 6.6.4-3.6.3 1.1.4-8.1.4 12.2.4 4.5.4-1.6.4-8 .4 1.2.4 5.3.4-9.1.4 7.8.4-10.2.4 13.3.4-.6.4 1.2.3-5.9.4-10.4.4 9.1.4-.2.4-2.7.4 .7.4 13.4.4-10.5.4 4.3.4-3.1.4-7.5.4 6.2.4-4 .4 7.5.3-10.9.4-2.3.4 7.6.4 1.1.4-6.5.4 2.3.4 3.6.4-1.2.4-1.7.4 7.6.4-3.4.4 3.6.4-2.4.3-8.3.4 4 .4 12.6.4-10.2.4 9.5.4-10.7.4-1.4.4-4.7.4-5.4.4 5.9.4 16 .4-19.8.4 19.2.4-4 .3-17.2.4 8.6.4 11 .4 .6.4-2.5.4-2.3.4 4.4.4-3.4.4-12.8.4 6.4.4-4.7.4 7.4.4 10.5.3-14.7.4-4 .4 12 .4-15.1.4 11.7.4 2.8.4 6.5.4-6.1.4 8 .4-13.1.4 6 .4-8.2.4 7.7.4 2.2.3-8.7.4 3.5.4 0 .4 8.4.4-8.6.4-1.8.4-.1.4-12.8.4 10.1.4 6.3.4-5.1.4 .8.4 2.1.3 4.2.4-3.8.4-.4.4 .4.4-6.6.4-.9.4 .1.4 7.3.4-7.2.4 9 .4-11.7.4 7 .4 7.1.4 7.3.3-10.4.4-13.4.4 9.8.4 4.5.4 1.2.4-8 .4-6.4.4 10.3.4-3.2.4-.4.4-4.8.4 9.5.4-10.5.3 7 .4 1.9.4-.5.4 1.8.4 7.9.4 .8.4-9.1.4-3.7.4-1.8.4 .4.4 1.1.4 8.3.4-1.6.4-7.7.3 1.6.4 9.5.4-15.2.4 11 .4 3.2.4-8.2.4 5.4.4-.7.4-2 .4-6.1.4 4.7.4-5.6.4 1 .3 14.6.4-12.1.4-5.6.4 10.8.4 1.7.4 .3.4-2.7.4-1.5.4-12.1.4 13.8.4-6.6.4 2.6.4 4.1.4-1 .3-1.3.4 8.9.4-1.9.4-9.2.4-.6.4 20.6.4-12.8.4-3.9.4-2.9.4 5.7.4 6.2.4-10.4.4 5.9.3-7.2.4 9.2.4-3.3.4 6.6.4-4.5.4-1.5.4-3.6.4-.6.4 2.4.4 4.4.4-2.3.4 .9.4-.4.4 3 .3 3.6.4-6.4.4 2.6.4-10.2.4-2 .4 4.3.4 6.3.4-7.1.4-.3.4 8 .4-3.2.4-.4.4-2.4.3 5.9.4-1.9.4-1.1.4-4.5.4-1.1.4 12.6.4-9.7.4 .8.4-.9.4-2.9.4 .4.4 6.4.4-10.1.4 13.4.3-11 .4-1.7.4-1.2.4 9.2.4 9.3.4-5.1.4-1.7.4-3.4.4 4.2.4-1.8.4-.2.4 .7.4 5.4.4-2 .3 1.9.4-6.4.4 4.6.4-1.5.4-7.6.4 1.7.4 6.3.4-2.4.4 2.9.4-3 .4-.6.4-2.5.4-3.9.3 9.6.4-4.8.4 1.2.4-3.1.4 5.4.4-2.9.4-1.1.4 0 .4-1.4.4 3.4.4 1.6.4-11.9.4 6.8.4 2.5.3 5.3.4-1.1.4-5.6.4-1.8.4 4.1.4-4 .4 6.9.4 5 .4-2.4.4-.8.4-8.2.4-6.1.4 4.4.3 7.8.4 7.4.4-3.8.4-1.8.4-8.2.4 6.7.4-6.3.4-3.4.4 3 .4-.9.4 13.7.4-11.8.4 8.9.4-2.8.3-1.5.4 1.4.4-.1.4 8.9.4-15.3.4 3.1.4 4.1.4 2.2.4-9.6.4 4.5.4 7.9.4-6.5.4-.3.3-.2.4-1.6.4 7.3.4-8.8.4 7.2.4-.5.4-7.4.4 8.2.4 1.6.4 11.2.4-12.2.4-2.2.4 1.6.4-6.9.3 9.2.4 .3.4-8.9.4-3.3.4 2.4.4 5 .4-.9.4 8.8.4-4.5.4-3.3.4 5.5.4-2.6.4-4 .3-1 .4 2.9.4 8.7.4 1.6.4 2.3.4-12.6.4 4.9.4-6.1.4 .2.4-1.8.4-2.8.4 13.6.4-7.3.4-5.9.3-6.3.4 12 .4 2 .4 .3.4-7.5.4-.9.4-2.9.4 11.9.4-3.4.4 8.6.4-9.7.4 3.2.4-4.6.3-12.4.4 21 .4-14.5.4 15.7.4-1 .4-12.1.4 3.1.4 1.7.4-2.1.4 7 .4-13.1.4 1.3.4 8.2.4-5.8.3 8.5.4-8.6.4 1.2.4 10.9.4-10.6.4-1.6.4 4.3.4 1.4.4-.3.4-1 .4 9.4.4-13.1.4 4.4.3 5.7.4-10.9.4 9.9.4-1.5.4-7.8.4 11.1.4 0 .4-11.4.4 9.2.4-6.2.4 2.3.4 2.7.4 .2.4-3.3.3-2.4.4 8.2.4-7.3.4 2.2.4-1.8.4 3.2.4-4.1.4 4.6.4 0 .4 1.6.4 1.1.4 6 .4-8.5.4 .3.3-1.5.4-1.5.4 10 .4-8.2.4-4.2.4 3.9.4 6.8.4-8.4.4 11.6.4-2.8.4-2.7.4-3.4.4 .2.3 6.1.4-1.7.4-3.2.4-5.2.4 9.3.4-8.2.4 8.2.4-4.6.4 1.2.4 .2.4-2.5.4 3 .4 3.6.4-1.9.3 1.9.4-3.1.4 .5.4-7.7.4 1.8.4 15.4.4-7.3.4 4 .4-8.1.4 11.1.4 9.1.4-20.4.4 7.2.3-14 .4 7.3.4 2 .4 2.8.4 2 .4-6 .4 4.2.4-3.1.4 11.6.4-19.8.4 6.3.4 2.9.4 0 .4-13.2.3 7.7.4 7.6.4 0 .4-14.7.4 7.5.4 5.4.4-2.1.4-1.5.4-9.1.4 4.6.4 4.1.4 8 .4-9.3.3 3.4.4-4.5.4 4.3.4 10.5.4-11.6.4 .2.4 5.8.4-9.3.4 4.4.4-6.3.4 10.3.4-5.4.4 9.9.4-.7.3-11.4.4 9.1.4 .3.4-6.7.4-2.6.4 8.3.4-4.7.4-1.8.4 3 .4-2.1.4 1.9.4 3.3.4-2.3.3-5.1.4 4 .4-5.1.4-1.6.4 6.6.4 2.7.4-11.7.4 13.4.4 13.5.4-11 .4-33.3.4 28.4.4-2 .4 2.9.3 2.5.4-4.8.4-8.3.4 4.2.4 3.7.4 .4.4 2.5.4-2.7.4 6.2.4-10.7.4 1.7.4 6.8.4-2.2.3 7.6.4-13.3.4-4.2.4 7.1.4 6.8.4-8.6.4-.9.4 7.4.4-2.2.4 .5.4-1.9.4-10 .4 21.5.4-13.6.3 8.1.4-12.5.4 4.8.4-4.5.4 1 .4-.6.4 8.9.4-3.1.4 2.3.4-.1.4-7.5.4 4.4.4-5.4.3 13 .4-3.8.4-3.4.4-6.5.4 11.2.4-7 .4-2.1.4-2 .4 12.7.4-2.3.4-5.6.4 4.8.4-9.5.4 11.2.3-3.4.4 4.7.4-4.1.4-6.3.4-1 .4 9.4.4-7.8.4 7.1.4 .8.4-6.9.4 5.6.4 4.9.4-6.2.3-3 .4-4 .4 8.5.4-2.9.4-1.8.4 1 .4 1.4.4 8.8.4-8 .4 6.9.4-9.4.4 8.4.4-5.2.4 1.4.3-3.4.4 .4.4-5.1.4 9.7.4 .9.4-1 .4-2.6.4 1.3.4 3.1.4-4.6.4-1.5.4 2.3.4-2.2.4 4.3.3-3.7.4-4 .4-1 .4-.6.4 11.8.4-5.9.4 5.1.4 5.3.4-11.8.4 11.1.4-10.6.4 2.4.4-5.1.3 6.5.4-5.1.4 4.3.4 5.4.4-5.1.4-8.6.4-.8.4 1.9.4 13 .4-10.6.4-7.8.4 7 .4 4.7.4-4.4.3 7.6.4 1.3.4-8.7.4 9 .4-9.3.4 11.6.4-10.1.4 9 .4-6.8.4-3.1.4 3.3.4 1.1.4-5.2.3 7 .4-7.4.4 .1.4 5.5.4 2.7.4-7.4.4 7.2.4 3.6.4-5.6.4-2.7.4 7.5.4 2.2.4-8.2.4 2.2.3-2.4.4 3.8.4 2.4.4-7.7.4 10.8.4-7.4.4-2.1.4 3.9.4-1.3.4 0 .4-10 .4 17.3.4-5.8.3-1.6.4 4.1.4-5.1.4-.2.4 9.9.4-11.6.4 2.6.4 3.6.4-2.1.4 .6.4-5.9.4-2.5.4 9.2.4-.1.3 2 .4 1.6.4-5.8.4 1.1.4 5.5.4-12.1.4 4.9.4-1.1.4 3.5.4 3.1.4-5.5.4-2.1.4-.8.3-.4.4 3.5.4-8.2.4 11.4.4-3.1.4-1.1.4 .9.4-1 .4 5.7.4-9.7.4-1.2.4 7.6.4-6.1.4 5.6.3 .8.4-8 .4 6.1.4 2.6.4-4.3.4-1.5.4 7.8.4-11.1.4 7.1.4 2.2.4-6.1.4 5.5.4-4.8.3 4.1.4-1.4.4 4.2.4-.7.4 .2.4-6.7.4 3.8.4-3 .4 10.2.4-8.6.4 .3.4-2.5.4 2.5.4-3.1.3 4.8.4 .7.4-8.6.4 3.8.4 5 .4-5.4.4 4.7.4-5.1.4 13.1.4-18.2.4 9.5.4 .5.4 3.7.3-8.1.4 2.8.4 .9.4-1.2.4 3.7.4-3.1.4 8.8.4-9.4.4-2.9.4 8 .4-3.4.4-1.8.4 4.6.4-1.6.3 1.6.4-6.7.4 6.2.4 1.8.4-2.3.4-4 .4 6.5.4-.1.4-7.3.4-.3.4 2 .4 3.2.4-2.6.3-.4.4-2.7.4 5.9.4 7.2.4-8.8.4 5.5.4-6.5.4 9.8.4-13.4.4 7.2.4-3.8.4 3.8.4-9 .4 6 .3 4.7.4-.9.4-.1.4 0 .4-5.3.4 2.6.4 4.1.4-16.2.4 16.5.4 3.3.4-8.9.4 1.4.4 .8.4-3.6.3-1.2.4 2.8.4 6.3.4-13.2.4 9.7.4 6.4.4-8.3.4-.7.4-3.6.4-1.2.4-.8.4 7.5.4-6 .3 6.9.4-6.5.4 4 .4 2.7.4-5.4.4 4.2.4-6.3.4 1 .4 4.5.4 10.1.4-24.7.4 15.6.4-13.3.4 7.9.3-2.9.4 2.8.4 0 .4-5.2.4 13 .4-3.2.4-7.2.4 18.1.4-9.1.4-2.7.4 .2.4-4.6.4 3.8.3-10.3.4 8.9.4-.4.4 .4.4-4.2.4-2.6.4-3 .4 10.9.4-20.9.4-22.9.4-34.7.4-23.8.4-10.1.4 13.5.3 33.7.4 17.2.4 20.3.4 14.9.4-2 .4-20.2.4-3.9.4-15.3.4 9 .4-13.1.4 10.6.4 20.8.4 10 .3 3.2.4 18.4.4 4 .4-5.9.4-9.3.4 13.4.4-4.7.4 2.5.4 4 .4-3.3.4 .5.4-1.9.4-7.1.4 .3.3-.6.4 2.9.4-4.9.4 7.2.4 8.4.4-10.1.4 4.8.4-5.2.4-.9.4 3.9.4-.5.4-8.6.4 6.6.3 .2.4 4.3.4-3.9.4-7 .4 1.6.4 1.1.4 3.5.4 3.6.4-7 .4 7.7.4 7.6.4-9.5.4-.6.4-2.9.3 5.2.4 2.9.4-3 .4-4.4.4 12.3.4-7.4.4-5.1.4-9.8.4 10.9.4-3.9.4-7.2.4 5.7.4 1.7.3 1.5.4-4.6.4-2.7.4 .3.4 4.1.4 1.2.4-4.8.4-9.7.4 12.4.4 .2.4-1.5.4 9.3.4 2.7.4-7.2.3 3.5.4-1.4.4 10.9.4 .6.4-9.2.4 6.2.4-1.9.4-7.4.4 .7.4 6.8.4-11.4.4 7.5.4 5.1.3-10.1.4 6.2.4-5.7.4 7.6.4-4.1.4 6.1.4-6.1.4 4 .4-4.2.4 2.9.4-2.5.4 6.5.4-.8.4-2.4.3-4.6.4 9.7.4-1.4.4-3.6.4-1.3.4-6.4.4 8.2.4 0 .4-4.3.4 .9.4 1.9.4 1.1.4-5.1.4-.6.3 6.9.4 2.9.4 1 .4-11 .4 5.7.4-4.3.4 4.6.4 2.4.4-3.1.4-9.5.4 6.6.4 .4.4 3.6.3-7.9.4 12.4.4-9.1.4 5.4.4-9.7.4 18.4.4-10.3.4-1.8.4-.6.4 4.3.4-5.4.4 .7.4 2.4.4 5 .3-8.2.4-.1.4-1.3.4 .1.4-.3.4 5.3.4 2.3.4-8.4.4 12.1.4-2.7.4-4.8.4-.9.4 1.3.3-.9.4-5.6.4 9.4.4-4 .4 4.5.4 2 .4-5.2.4 1.4.4 1.9.4-2.2.4-.1.4 .1.4 4.8.4-3.7.3-2 .4 6.1.4-6.2.4 2.1.4 .4.4 .6.4 .9.4-6.3.4 7.1.4-9.8.4 8.2.4-3 .4 .4.3 3.8.4 .2.4-8.6.4 4.5.4 2.8.4-6.4.4 1.2.4 .3.4 4.2.4-.2.4-2.4.4 1.6.4 1.1.4-.4.3-3.1.4 6.9.4-1.2.4-.8.4-7 .4 4.3.4-3.1.4 .7.4-.4.4 5.7.4 1.5.4 .2.4-1.3.3-1.1.4 .2.4-3.7.4 .9.4-5.4.4 9.3.4-5.5.4 1.1.4-1.1.4 0 .4 4.6.4-.5.4-5.4.4 8.4.3-5.3.4-1.5.4-2.2.4 6.5.4 0 .4 1.1.4-9.6.4 5.8.4-6.6.4 10.1.4 1.3.4-7.3.4-3 .3 5.5.4 2.9.4-3.7.4-5.2.4 8.7.4-4.2.4 6.8.4 1 .4-11 .4 8.6.4-5.4.4 1.6.4 3.6.4-3.8.3 1 .4-4.3.4 8.4.4 1.3.4 6.4.4-6.6.4-8.6.4 4.4.4-5.6.4 .5.4 2.7.4 1.5.4-.7.3 3.2.4-5.8.4 3.8.4-6.1.4 6.9.4-4 .4 1 .4 2.5.4-1.6.4-4.4.4 7.1.4-7.5.4 3.8.4 1.2.3 1.2.4-1.4.4 1.3.4 4.2.4-8 .4 5.9.4-7 .4 1.9.4-1.5.4-2.2.4 10.6.4-4.6.4 2.2.3-4.7.4 2 .4 3.9.4-3 .4-3.4.4-.1.4 1.5.4 8.3.4-1.5.4-12.3.4 6.5.4 1 .4 .6.4-8 .3 7.5.4 1 .4-4.1.4 3.6.4 3.2.4-5.1.4 1.6.4 2.3.4-4 .4 .2.4 1.8.4-6.3.4-2.1.4 8.6.3-1.7.4 .5.4-.6.4 4.7.4-1.1.4-1.7.4 2.3.4-6 .4-2.3.4 9 .4-11.5.4 3.3.4-3.9.3 5.3.4 4.1.4-3.5.4-3 .4 2.5.4-1.2.4 9.2.4-2.5.4-4.8.4 5.7.4-2.1.4-.5.4-3.9.4 6.2.3-2.9.4-2.4.4 .8.4-2.4.4-3.6.4 3 .4 5.7.4-2.8.4 7.8.4-7.8.4-3.2.4 7.5.4-2.8.3-4 .4-1.4.4 4 .4-1.3.4 9 .4-2.3.4-5.9.4 0 .4-.6.4 7.3.4-3.2.4-6.8.4 2.8.4-3.5.3 8.4.4-1.9.4 11.1.4-11.4.4-1.4.4 .9.4-5.9.4 8.4.4-5.3.4 2.5.4 6.1.4-2.5.4-2.1.3 3.3.4-14.1.4 9.2.4 8.7.4-7.2.4 4 .4 .9.4 3.7.4-1.4.4 7.9.4-9.8.4-8.5.4 7 .4-8.5.3 1 .4 5.5.4 1.5.4-.7.4-1.9.4-2.3.4-5.5.4 10.6.4-.4.4 5.1.4-4.7.4-12.5.4 10.7.3 8.5.4-5.3.4-2.7.4 2.7.4-3.5.4 10 .4-7.9.4 5.8.4-1.1.4-4.7.4 1.3.4-1 .4-.9.4-1.1.3 4.4.4 .1.4-3.2.4 2.7.4-7.1.4 6.6.4-1.2.4 6.5.4-11.2.4 2.5.4 1.6.4-1.6.4 2.8.3-8.3.4 7.2.4 2.5.4-1.9.4-3 .4 1.1.4-.2.4-1 .4 1.2.4 7.2.4-3.8.4-7.3.4 10 .4-7 .3 5.8.4-4.5.4-1.1.4-4.4.4 3.7.4 3.2.4 3.6.4-4 .4 1.7.4-4.3.4 5.6.4-5.9.4 11 .3-9.8.4-1.1.4 4.4.4-2.1.4-5.2.4 4.4.4-5.7.4 9.1.4-2.6.4 1.2.4-1.3.4 1.2.4-.8.4-1.9.3 1.7.4 3.3.4-4.8.4 3.9.4 1 .4-9.1.4 3.7.4 1 .4 4.6.4-2.3.4 2.8.4 .1.4-10.9.3 5.6.4-.9.4 2.6.4 1.3.4 .3.4-.9.4-.6.4 2.6.4 3.5.4-11.5.4 8.4.4 2 .4-4.7.4 3.2.3-4 .4 1.3.4 .7.4 2.5.4 .2.4-5.3.4 2.7.4 .8.4-.4.4 .2.4-2.2.4-.4.4 2.7.4-6.5.3 5.9.4-.8.4 3.8.4-1 .4-3.5.4 1.2.4-.1.4-2 .4-2.2.4 6.9.4 0 .4-6.4.4-1.3.3 4.5.4 2.7.4-5.9.4 4.5.4 .8.4 .9.4-6.4.4 2.6.4-.5.4-.1.4-.9.4 6.5.4-5 .4-2.9.3 7 .4 1.8.4-11.4.4 3.1.4 3.8.4-1.3.4-4.2.4 5.4.4-1.8.4 3.6.4 4.5.4-3.8.4-4.5.3-1.5.4 1.5.4-9.1.4 5.6.4 1.2.4 10.9.4-8.3.4 9.3.4-3.7.4-4 .4 .6.4 .7.4-4.4.4 6.1.3-6.2.4 2.8.4 1.1.4-4.5.4 5.1.4-4.5.4 .5.4 8.5.4 0 .4-9.1.4 2.4.4-2 .4 4.8.3 3.4.4-2.8.4 5.8.4-8.6.4-.6.4 3.7.4 2.4.4-6.1.4 .6.4 3.9.4 .6.4-1.7.4 1.1.4 1.5.3-7.5.4 10.7.4-2.2.4-2 .4 .9.4-3 .4 .9.4-1.1.4 1.2.4-.4.4 .9.4 3 .4 .3.3-1.3.4-2.4.4-3.7.4 8.2.4-4.9.4 2.5.4-1.5.4-.9.4 .5.4 .8.4-1.6.4-3.1.4 1.3.4 4.3.3-1.5.4-.7.4 3.8.4-1.4.4-6.7.4 4.2.4-2 .4-.9.4 3.7.4-5.3.4 7.8.4 1.4.4-6 .3 0 .4 2 .4-3.1.4 5.8.4-5.8.4 4.8.4-.6.4 .8.4-5.7.4-1.2.4 7.6.4-1.3.4-.2.4 3.1.3-7.3.4 1.5.4-1.8.4 10.3.4-5.6.4 2.3.4-6.2.4-.6.4 4.8.4 1.8.4-1.4.4-.8.4 5.4.3-8 .4 9.8.4-11.4.4 .7.4 3.5.4-.9.4 4.1.4-5.3.4-1 .4 3.7.4 2.4.4 2.7.4-8 .4 3.1.3 6.7.4-1.8.4-4.1.4-2 .4-2.8.4 8.9.4-10.5.4 7.9.4-1.9.4-1.5.4 3 .4-5.4.4 4.4.4 0 .3 5.2.4-4.9.4-1 .4-1 .4 3.1.4-2.8.4 .8.4 2.2.4-5.4.4-.4.4-1.6.4 8 .4 2.4.3-5.5.4 3.2.4-.4.4-5.1.4 1.4.4 4.2.4-3.2.4 1 .4-5.4.4 4.8.4-7.4.4 8.4.4-8.3.4 4.2.3 3 .4-2.7.4 1.3.4-4.8.4 8.8.4-1.8.4-3.6.4 5.2.4-5.8.4 1.6.4-1.5.4 3.3.4 1.1.3-5.3.4-2 .4 5.1.4-.5.4 .5.4-1.9.4 3.6.4-3.1.4-.6.4-2.6.4 2.7.4-1 .4 .7.4 0 .3 6.7.4-3.6.4-3 .4 4.2.4-4.9.4 .7.4-2.7.4 1 .4 8.4.4-10.2.4 1.4.4 1.7.4-4.6.3 6.2.4-.1.4-.9.4-3.7.4 .9.4 .8.4 2.4.4 3.3.4-6.1.4 .6.4-.7.4 2.5.4-3.5.4-16.6.3-7 .4-14 .4-17 .4-10 .4-15 .4-15 .4-8.5"/>
<path class="c" stroke="#32ae6a" stroke-width="2.0" d="M257.8 452.5l.4 12.3.4 8.4.4-10.7.4 7.3.4 17.6.4-5.7.3 15.8.4-31.5.4 45.4.4-.8.4-33.9.4 14.1.4-1.2.4 4.7.4 17 .4-17.1.4 2.6.4 19.9.4 9.1.4-16.6.3 9.4.4-16.8.4 35.6.4 5.6.4-11.1.4-11.8.4-20 .4 19 .4-17.4.4 30.9.4 11.9.4 9.9.4-22.9.3 6 .4-9.4.4 12.1.4 2.4.4-.5.4-26.1.4 31.1.4 2.7.4-11.8.4 12.6.4 4.1.4-45.3.4 47.8.4-18.1.3-1.9.4 15.2.4-9.5.4 .5.4 .6.4 5.5.4-3.4.4 8.4.4-3.1.4-.9.4 25.7.4-9.5.4 4.3.3 11.8.4-9.2.4-5.2.4-8.6.4 15.4.4-2.3.4 4.8.4-9.2.4-1.8.4-15.1.4 24.2.4-20.1.4 7 .4 15.2.3-2.9.4 .1.4 7.1.4-19.9.4 19.9.4 13.8.4 .9.4-24.1.4 25.5.4-3.2.4-11.9.4-1.8.4 13.6.3 16.5.4-6.8.4-11.8.4 11.8.4 10.7.4-9.1.4-1.9.4 10.2.4-22.4.4 25.1.4-15.4.4 13.3.4 5.5.4-3.3.3-4.3.4 4.7.4 17.9.4-24.3.4 5.5.4 12.3.4 5.6.4-6.2.4-3.6.4 12.5.4-8.8.4 23.3.4-5.3.4 6.1.3-24.4.4 5.4.4 2.9.4-7.7.4 3.3.4 18.3.4-16.7.4 7.2.4 16.7.4-8.1.4 .4.4-3.7.4-5 .3 2.8.4 5.9.4-6.8.4 5.9.4-7.2.4 7 .4 14.8.4-7.7.4-16.1.4 10.3.4 18.4.4 .4.4-25.4.4 14.9.3-2.8.4-21 .4 25.6.4 15.8.4-22.3.4 4.8.4 12 .4-11 .4 1.2.4 7.2.4-13.8.4 17.4.4-14.7.3 12.2.4 7.3.4 7.9.4-21.2.4 9.4.4 .5.4-18.4.4 16 .4 3.3.4 3.3.4 13.8.4-17.3.4-1.9.4 .7.3 .9.4 5 .4 10.8.4-25.2.4 10.6.4-23.4.4 7.1.4 18.1.4-22.1.4 24.1.4 9.5.4-20.7.4 1.6.3 7.2.4-4.7.4 4.7.4-5.7.4 14.6.4-4.6.4-2.7.4-17.6.4 13.5.4 6.8.4 6.2.4-10.4.4 11.1.4 2.8.3-11.1.4 11.6.4-6.6.4-6.8.4 9.5.4 11.9.4-6.5.4-2.1.4 7.6.4 0 .4-3.2.4-27.4.4 7.5.3 8 .4 26.7.4-7 .4-16.1.4 16.7.4-13 .4 9.6.4 4.4.4-5.7.4 5.2.4 .6.4-13.7.4 8.7.4 3.2.3-5.3.4-4.6.4 15.8.4-6.5.4-4.6.4-1.7.4 5 .4 7.3.4-9.5.4 6 .4-1 .4-2.9.4 1.5.3 .6.4-6.2.4-3 .4 13.9.4 12.2.4-12.3.4-9.4.4 6.5.4-3.7.4-6 .4 3.3.4 4.1.4 9.1.4-12 .3 17.9.4-7.6.4 9.5.4-.9.4-5.3.4 0 .4 2.1.4 .4.4 3.6.4 9 .4-8.7.4 7.5.4-4.3.3-9.4.4 6.8.4 1.4.4 1.9.4-8.7.4 10.6.4-11.4.4 3.1.4 5.5.4-2.5.4-7 .4-2.5.4 4.8.4-1 .3 17.6.4-19.6.4-2.3.4 22.2.4-23.5.4 6.6.4 6.6.4-2.9.4 1.8.4 7.3.4 4.6.4-12.4.4 .9.4-3.9.3-1.3.4-1.8.4 6.1.4-4 .4 4.4.4-4.3.4-3.4.4 4.1.4 .5.4-1.4.4 .4.4 5.4.4-10.5.3 12.8.4-8.9.4 2.8.4 8.4.4-1.8.4-17.3.4 13.7.4 6.6.4-15.1.4 3.3.4 12.3.4-18 .4 21.2.4-21.8.3 4.3.4 1.2.4 .8.4 9 .4-2.6.4-1.8.4 .4.4-14.4.4 7.7.4 13.9.4-18.5.4 21.3.4-12.7.3-6.5.4 14.6.4 3.8.4-14.3.4 1.2.4-1.7.4 2.3.4-12 .4 12.8.4 15 .4-12.5.4 7.2.4 3.8.4-4.2.3-4.2.4 .2.4 .5.4 6.9.4-4.6.4 8.9.4 8.2.4-9 .4-14.2.4 13.7.4-3.9.4-1.4.4-2.4.3 3.8.4 27 .4-.5.4-10.6.4-21 .4 8.9.4 7 .4-11.4.4 7.8.4 4.2.4 3.8.4-9.3.4-.9.4-4.9.3-.9.4 4 .4-2.2.4 7.9.4-4.1.4-4.8.4 15.3.4-19.6.4 11.7.4-.9.4-10 .4 5.3.4 2.3.3-7.6.4-7.2.4 37.6.4-31.2.4 3.1.4 .6.4 2.4.4 8.2.4-.4.4-12.8.4 8.8.4 7 .4-11.6.4 11.9.3-7.5.4 6 .4-17 .4 24.9.4-16.7.4-6.9.4 1.2.4 1.3.4 9.6.4-21.7.4 11.2.4 17.6.4 9.5.3-27.2.4 10.4.4 .8.4-3.6.4-2.5.4 11.4.4-8.7.4 3.9.4 4.9.4-14 .4 .3.4 25.8.4-26.3.4 17.4.3 .6.4-8.8.4-3.3.4 2 .4-5.4.4 6.3.4-1.9.4-2.5.4 1.5.4 15.8.4-12.7.4-1.8.4 17.4.3-15.7.4 5.3.4-12.1.4-1.4.4 16.2.4 .3.4-51 .4 48.7.4 .8.4-6 .4 4.9.4-13.2.4 11.2.4-11.5.3 5.5.4 .2.4 4.1.4-11.2.4 12.1.4 .7.4 5.7.4-12.5.4 7.8.4-8.1.4 8.2.4-7.9.4-2.9.3 .1.4 17.9.4-.7.4-9.1.4 .3.4 1.8.4-11.9.4 22.1.4-18.4.4-1.7.4 5.7.4-9.1.4 13.3.4 2.3.3-6.4.4 3.4.4-5.1.4-7.4.4 3 .4 22.3.4-14.4.4-12 .4 5 .4 1.9.4 11.4.4-4.5.4 9.6.4 3.5.3-9.3.4-.4.4 5.2.4-14.6.4 3.5.4-10.5.4 18.4.4-12.6.4 8.8.4 16 .4-28.3.4 6.2.4-4 .3-1 .4 17.3.4-20.9.4 13.3.4-1.7.4 6.4.4-19.8.4 3.4.4 15 .4-19.3.4 13.2.4 5.9.4-17.5.4 2.8.3 12.1.4-13.6.4 12.8.4 1.9.4-7.1.4-.9.4 .2.4-3.8.4 8.6.4-.6.4-4.4.4 1.7.4-10.3.3-2.6.4-2.4.4 9.2.4 8.6.4-3.8.4-5.1.4 .5.4-.5.4 8.7.4-14.3.4 14.2.4-5.2.4-13.8.4 11.5.3-1.7.4-10.6.4 9.4.4-22.8.4-5.3.4-5.9.4-9.4.4-17.1.4-6 .4-26 .4-.8.4-9.1.4-1.6.3 1.4.4 9.4.4 1.4.4 13.2.4 21.6.4 18.9.4-1.5.4 19.3.4 19.4.4-5.6.4 4.7.4-2.1.4-10.1.4 12 .3 4.5.4-7.5.4 9.7.4-6 .4 11.5.4-4.9.4 1.3.4 1.3.4-3.7.4 12.5.4-19 .4 2.1.4 5.7.3 1.5.4-10.5.4 16.8.4-8.4.4 6.2.4-8.8.4 .6.4 7.1.4-6.5.4-1.6.4 7 .4 3.5.4-7.2.4 4.8.3-8.8.4 8.7.4-9.1.4 8.5.4-9.7.4 9.1.4 5.3.4-6.2.4-12.6.4 30.3.4-23.1.4-11.2.4 29 .3-17.7.4 9.4.4-3.1.4 11.9.4-2.1.4-34.8.4 26.6.4-11 .4 7.4.4-.7.4 .3.4-7.6.4 14.1.4 1.7.3 .2.4 8.5.4-15.3.4-11.3.4 13.9.4-19.9.4 17.6.4-7.2.4 .9.4-1.3.4 .7.4 12.1.4-16 .3 5.7.4 8.9.4-2.8.4 13.5.4-10.5.4 16.4.4-9.9.4-24.3.4 15.8.4 14 .4-23.7.4 3 .4-7 .4 13.7.3 8.2.4 7 .4-16.1.4-9 .4 11.9.4-3.2.4 7 .4-4.4.4 6.9.4-13 .4 4.3.4-1.3.4-2.4.3 6.1.4-15 .4 1.3.4-6.6.4 16.8.4 4.8.4-2.6.4 7.4.4-9.5.4-6.5.4 7.8.4-1 .4-.1.4 5.7.3-12.4.4 .3.4 4 .4 8.5.4-12.5.4 19.6.4 .3.4-17.6.4-1.6.4 3.3.4-9.3.4 19.4.4-8.6.4 5.8.3-11.1.4 5.2.4-2.2.4 11.2.4-17.1.4 14.4.4-7.3.4-.6.4-10.8.4 10.1.4-1.7.4 6.3.4-6.8.3-.9.4 10 .4-4.4.4-4.4.4 4.3.4 2.2.4-4.6.4 .6.4 10.9.4-10.5.4-14.3.4 20.4.4 3.4.4-1.9.3-.5.4-20.6.4 7.8.4 6.9.4 .5.4-1.3.4-9 .4 4.2.4 2.2.4 9.4.4 8.6.4-26.9.4 12 .3-7.5.4 13.8.4-5.3.4 1.5.4-2.8.4-5.9.4-.4.4 3 .4 9.3.4 8.1.4-7.4.4-9.9.4 14 .4-9.8.3-2.5.4 .1.4-8.4.4-4.5.4 5.9.4 1.9.4 5.1.4-11.9.4 8.4.4-13.3.4 25.6.4-20.1.4 .2.3 14.4.4-5.4.4-9 .4 22.6.4-20.9.4 10.1.4-8 .4 10.3.4 4.2.4-15.5.4-.2.4 13.7.4-6.9.4 4.6.3-4.1.4 5 .4-3.5.4-7.3.4 13.2.4-10.5.4 .9.4 .9.4 5.6.4-12 .4 4.7.4-1.1.4-.8.3-9.2.4-4.4.4 10.4.4 9.2.4-6 .4-1.9.4 1.1.4 5.9.4-5.7.4-1.1.4 4.4.4 3.1.4-3.9.4-1.1.3-11 .4 .1.4 9.6.4-3.7.4-.1.4 4.6.4 2.7.4 12.5.4-22.5.4 6.6.4 13 .4-19.1.4 8.2.3-10.4.4 14.2.4-12.4.4 8.2.4 1.3.4-8.4.4-14.7.4 11.6.4 6.3.4 2.4.4 1.4.4-11.8.4 15.4.4-6.5.3-3.7.4-4.7.4-2.9.4-9 .4 11.2.4 3.1.4 11.5.4-5.9.4-14.4.4 13.2.4-13.1.4 23.8.4 4 .3-17.1.4-7.1.4 14.8.4-7.2.4 .7.4-2 .4-7.5.4 10.6.4 4.7.4-8 .4-4.3.4-.1.4 13.3.4-2.3.3-10 .4-7.2.4 12.7.4-5.4.4 4.1.4 13.5.4 4.2.4-33.4.4 7.9.4 7.3.4-12.7.4-2 .4 11.7.4-.6.3 1.2.4 4.2.4-7 .4 3.5.4 .4.4 8.3.4-21.5.4 17.3.4-16.7.4 2.6.4 13.1.4 .1.4-.3.3-2.9.4 .9.4-5.9.4 6.6.4 8.4.4-24.7.4 12.9.4-8.8.4-10.7.4 18.8.4 1.2.4-19.1.4 3.6.4 16 .3-1.4.4 11.6.4-13 .4 11.6.4-11.7.4-5.4.4 10 .4-4.4.4 1.8.4-17.3.4 20.6.4-3.8.4 2.4.3 1.2.4 8.8.4-12.6.4-.6.4 7.6.4 1.2.4-5.8.4-4.6.4-1.3.4-1.2.4-.4.4 11 .4-9.5.4 7.8.3-9.9.4 12.4.4-7.2.4 10 .4-5.3.4-1.5.4-6.7.4 .8.4 1.2.4-.2.4-2.2.4 8.7.4 .3.3-5.7.4 12.3.4-10.5.4-9.3.4 7.9.4 2 .4-2.6.4 3.8.4-7.5.4 4.9.4 .3.4 2.8.4-5.3.4-1.2.3 3.9.4 2.3.4-3.6.4 .7.4-6.6.4 17.1.4-16 .4 23.8.4-19.3.4 17.7.4-18.2.4 6.1.4-2 .3-3.2.4-6 .4 5 .4-6.4.4 18.9.4-21.5.4 22.7.4-14 .4-12.2.4 21.7.4-9.6.4-13.7.4-4 .4-.9.3 3.5.4-3.7.4 6.9.4 15 .4 9.8.4-18.9.4 5.5.4-1 .4 12 .4-11.7.4 4.1.4 5.1.4 1.4.3 1.2.4-11.1.4 6.7.4 1.7.4 3.4.4 4.6.4-3.6.4-11.7.4 6.9.4-9.3.4 18 .4-11.3.4 .4.4 3.4.3-6.1.4 9.1.4 .2.4-3.5.4-1.3.4-24.3.4 21.1.4 6.9.4-1.6.4-28 .4 30.8.4 2.3.4-16.6.3 2.6.4 7.5.4-8.3.4-.2.4-2.2.4 19.6.4-9 .4-5.2.4-3.8.4 13.4.4-8 .4 1 .4 1.4.4-1.8.3 5.9.4 5.3.4-18.3.4 2.6.4 10.7.4-10.1.4 6.4.4 11.6.4-7.2.4 4.5.4 .5.4-.5.4-6.6.3 9.7.4-20.5.4 3.7.4 9.3.4-11.5.4 7.3.4-5 .4 12.2.4-3.9.4 4 .4-12.8.4-10.4.4 23.6.4 3.3.3-19.8.4-2.4.4-5.8.4 23.8.4-19.7.4 13.3.4-1.5.4-6.7.4 2.7.4-5.7.4 11.7.4 1.8.4-5.2.4-22.1.3-2.3.4 .8.4 5.3.4 8.8.4-11.4.4 20.9.4 8.5.4-4.1.4 .2.4-11.3.4 24.2.4-6.2.4-5.4.3-.2.4 9.7.4 3.3.4-9.1.4-6.7.4 12.2.4-7 .4 3.9.4-.5.4-4.5.4 14.7.4-14.5.4 16 .4-12.9.3 4.1.4 1.7.4 2.9.4-7.7.4 16.5.4-10.8.4 10.6.4-3.9.4-4.5.4-3.6.4 6.9.4 .3.4-6.1.3 3.8.4 4.5.4 2.3.4-5.7.4 0 .4-2.9.4-1.8.4 10.6.4-3.1.4-2.1.4 7.5.4-1.4.4-12.6.4-3.2.3 12.4.4-3.2.4 8.1.4-11.5.4 10.4.4-.1.4-14.9.4 24.7.4-17.1.4 5.4.4-3.4.4 .4.4-3.2.3 1.4.4 8 .4-14.2.4 10.7.4 1.2.4 .7.4-.2.4 26.2.4-25.5.4-1.5.4-3.4.4 15.4.4-.2.4-15.9.3-.2.4 .4.4 14.5.4-5 .4 3.9.4-11.6.4 6.7.4 .6.4 13.7.4-18.9.4-12.6.4 15.7.4 13.6.3-4.5.4-32.1.4 8.9.4-6.9.4-2.7.4 4.7.4 11 .4 5.2.4 15.3.4-11.2.4 17.3.4-11.1.4-2.9.4 10.6.3-6 .4 5.5.4-1.6.4-5.8.4 1.4.4 13.8.4-18.3.4 9.2.4 4.8.4 .5.4 .2.4-11.9.4 9.6.3 1.9.4-15.3.4 14.2.4-7 .4-.9.4 8 .4-2.3.4 5.3.4-4.6.4-11.3.4 6.3.4 5.1.4 2.1.4-6.6.3 5.9.4-6.1.4 10 .4-4.8.4 1 .4-15.7.4 14.2.4 .8.4-4.8.4 1.2.4 6.9.4-6.9.4 4.5.3-20.3.4 22.9.4-13.3.4 .1.4 10.4.4-4.2.4-2.5.4 8.9.4-3.6.4 9.4.4-6.9.4 5.9.4-11 .4 6.2.3 14.5.4-13.1.4-6.9.4 1.8.4 .6.4 5 .4-14.9.4 16.7.4-2.8.4-3.9.4 6.6.4-19.1.4 24.6.3-9.6.4 5 .4-11.8.4 8.3.4-2.6.4 6.3.4-14.7.4 22.7.4-12.4.4 8.9.4-9.8.4-.9.4 0 .4 6.5.3-2.3.4-11.3.4 2.1.4 7.6.4-12.1.4 11.5.4-8.4.4 11.1.4-3.5.4 3.3.4-8.9.4 8.7.4-9.8.4 11.5.3-18.1.4 9.5.4-5.5.4 12.7.4-5.1.4-.4.4-9.8.4 3.6.4-7 .4 1.2.4 14 .4-16.8.4 9.5.3 3.6.4-1.9.4 6 .4-21.2.4 22.9.4-1.5.4-17.2.4 6.2.4-1.3.4-2.8.4 9.6.4-9.6.4 7.1.4 1.7.3-13.1.4 5.1.4 2.8.4 12.1.4-9 .4 2.5.4-12.3.4 26.1.4-12.6.4 3.8.4 4.4.4-4.8.4-7.2.3-1.1.4 15.7.4-26.5.4 24.3.4 5.8.4-15 .4 .6.4 7.4.4-.4.4-2 .4 17 .4-20.7.4 11.1.4 8.4.3-15.1.4-5.9.4 19.4.4-16.9.4 10.2.4-23.1.4 16.6.4-15.6.4 4 .4 .7.4 7.4.4 5.4.4 2.3.3-10.2.4-8.7.4-10.6.4 22.2.4-4.4.4-2.2.4 8 .4-2.2.4 3 .4-2.9.4-2.5.4-12.3.4-8.5.4-5.2.3-.1.4-1.2.4-16.4.4 4.8.4-.6.4-.8.4-3.7.4-.1.4 .9.4 12 .4-23 .4 27.6.4-7.5.3 10.7.4 12.2.4-4.2.4 5.6.4-2.2.4-1.1.4 20 .4-7.8.4 4.3.4-2.5.4 3 .4 1.8.4 2.6.4-7.7.3 3.3.4 5.2.4-2.8.4 2 .4-2.9.4 4.8.4-3.1.4-9.9.4 6.7.4 8.8.4 13 .4-19.6.4-6.8.3 16 .4 10.9.4-18.1.4 3.5.4 .4.4 10.3.4-19.8.4 17.7.4-3.2.4-1.1.4-.4.4 5.6.4 2.2.4-13.3.3 6.6.4 6.5.4-17 .4 18.6.4-.1.4-4.7.4-8.4.4 3.4.4 3.2.4 5.8.4-1.5.4-.5.4 4.9.3-4.2.4-.9.4 1.6.4 1.4.4-3.8.4-2.3.4 3.3.4 3.1.4-10.6.4 5.9.4 .4.4-5 .4 15.5.4-9.2.3-12.7.4 23.2.4-5.3.4-21.1.4 22 .4-1.2.4-3.2.4 5.5.4-9.7.4 10.2.4-11.7.4 5.5.4-3.4.4 1.8.3-2.3.4-6.2.4 8.3.4-4.4.4 3.8.4-11.9.4 14.7.4-15 .4-.4.4 4.4.4 11.9.4-7.3.4-1.6.3 3.3.4-8 .4 5.3.4 4.9.4-5.6.4-9.3.4 22.5.4-11.5.4-12.3.4 6 .4 30.9.4-21.2.4-10.2.4-4.6.3-5.5.4 17.6.4 6.9.4-1.3.4-2.9.4 1.3.4-.8.4-1.3.4 5.5.4-6.8.4 6.1.4-18.9.4 4.5.3 14 .4-4.2.4-7.6.4 18.5.4 2.3.4-12 .4 1.3.4-6.2.4-5.4.4 8.9.4-3.7.4 4.5.4-1.2.4-1.2.3 2.9.4 8.8.4-15.3.4 6.9.4 7.3.4-4.6.4-2.2.4-2.1.4-4.1.4 1.3.4 10 .4-7.8.4 12 .3-2.4.4-3.3.4 3.5.4-7.4.4 13 .4-14.8.4 7.6.4-3.7.4 .4.4-5.9.4 5.7.4-6.6.4 11.8.4-6.6.3 3.6.4-7 .4 1.6.4-.1.4-4.6.4 3 .4-8.4.4 2.7.4 7.9.4-21.9.4 0 .4 16.6.4 8.1.3-14.1.4 1.4.4-.9.4 6.4.4-14.5.4 6.7.4-.6.4 6.9.4-6.5.4-.3.4-2 .4-5.9.4-4.5.4 4.4.3 5.5.4 4.4.4-4.7.4 10.5.4-3.9.4 2.9.4 13.7.4-15.8.4 6.6.4 5.6.4-11.5.4-.7.4 7.9.3 .4.4 2.2.4 .5.4 3.5.4-6.6.4-2.1.4 6.3.4 4.4.4-9.6.4 8.2.4-1.3.4-1.5.4 .2.4 7.3.3-2.8.4 1.2.4-5.3.4 3.7.4 1 .4-.9.4-6.5.4 12.9.4-.4.4-6 .4 7.7.4-12.4.4 5.9.3-5.7.4-4.8.4 10.8.4-2.9.4 2.4.4 6.2.4 2.1.4-5.8.4 1.1.4 2.1.4-3 .4-5.3.4 6.7.4-1.8.3 11 .4-14.8.4 8.8.4 .2.4-7.3.4 10.5.4-1.5.4 1 .4-.5.4-6.4.4-7.8.4 12.3.4-2.5.3-11.4.4 0 .4 3.2.4 1.7.4-1.8.4-1.4.4 1.1.4 5.7.4 1.7.4-6.4.4 6.4.4-8.7.4-4.6.4 11 .3-3.2.4-1.1.4 2.5.4 5.8.4 1.5.4-6.2.4-.4.4 7 .4-4.9.4-3.8.4-5.4.4 1.7.4 2.9.4 .5.3-4.2.4 12.8.4 4.7.4-12.3.4-4.6.4 7.7.4-16 .4 6.4.4 3.9.4 6 .4 1.8.4-5.2.4 4.2.3-8.7.4-2.6.4 5.3.4 5.6.4-4.3.4 6.2.4-11.1.4 7.7.4 2.9.4-8.4.4 9.9.4-6.1.4-2.9.4 7.2.3-5.3.4 6.4.4-14.3.4 10.7.4 8.7.4-17.1.4 18.3.4-11.1.4 9.6.4-9.2.4 6.6.4-.5.4-1.3.3-10 .4 10.7.4-11.3.4 9.6.4-.4.4-2.4.4 1.1.4-4.5.4 10.6.4-6.7.4 6.4.4 4.2.4-5.5.4 1.8.3-11 .4-1.2.4 8.7.4-9.1.4 11 .4-7.3.4 9.9.4-8.3.4-.6.4 7.9.4-6.6.4-3 .4-1 .3-10.8.4-6.7.4 10.4.4-15.7.4-2.3.4-10.4.4 4.3.4-12.3.4 2.2.4-1.1.4 2.2.4 3.9.4-.3.4 8.1.3-.7.4 11.6.4 7.3.4-2.1.4 8.9.4-.7.4-.3.4 4.2.4-.5.4 .7.4 .5.4 11.7.4-12.1.3 2.5.4 5.1.4-7.6.4 2.2.4 3.8.4-4.7.4 1.8.4-2.4.4 .4.4-1 .4-4 .4 12.5.4-5.8.4-1.4.3-2.7.4 2.3.4 .8.4-7.6.4 12.9.4-4 .4-3.3.4 2.9.4 .8.4 2.7.4-3 .4 5.6.4-6.7.3 5.7.4-4.7.4 .8.4 4.3.4-1.2.4-2.2.4 2.8.4-3.7.4-2.3.4 8.3.4-4.3.4-8.4.4 9.1.4-2 .3 4.7.4-3.3.4 4.9.4-1.8.4-11.1.4 15.6.4-6 .4 .1.4 4.6.4-9.2.4 2.3.4-4.2.4 9.5.3-1.5.4 .7.4-12 .4-1.4.4 10.1.4 6.7.4-5.6.4-2.9.4 0 .4-6.1.4 10.6.4-6 .4-.9.4 1.2.3-2.5.4-3 .4 3.3.4 3.2.4-5.9.4 2.4.4 7.1.4-.8.4-4.6.4 .8.4 10.6.4-22.2.4 23.8.3-10.4.4-5.3.4-1.2.4-1.9.4-2.1.4 5 .4 7.1.4-2.6.4-3.9.4 6.6.4-10 .4 6.8.4-4.7.4 5.8.3-11 .4 2 .4 10.4.4-8.6.4 4.3.4-1.8.4 1.5.4-12.3.4 1.5.4-4.4.4 10.6.4-11.3.4 14.7.4-10.2.3 .5.4 7.5.4 6.6.4-7 .4-4.6.4 10.3.4-9.7.4-1.5.4-2.7.4-.7.4 9.9.4-9.7.4 6.6.3-7.6.4 9 .4-12.4.4 10.2.4 3.5.4-14.5.4 6.7.4-2.2.4 4.5.4 5.8.4-9.1.4-5 .4 26.6.4-19.8.3 .5.4 2.3.4 5.3.4-12.3.4 7.5.4-2.7.4 4.4.4-10.4.4 .3.4-3.4.4 11.8.4-6.9.4 10.3.3-16.4.4 17.8.4-19.6.4 5.7.4 11.3.4-19.1.4 6.1.4 1.8.4-29.7.4-1.8.4-11 .4-41.9.4-63.4.4-99.4.3-114.1.4-61.9.4 21 .4 69.8.4 70.6.4 27.8.4-10.1.4 8 .4 47.8.4 58 .4 68.5.4 10.8.4 19.2.3 12.7.4 17.2.4-1.2.4 9 .4-18.2.4 4 .4 4.6.4 7.7.4-12.4.4 7.5.4-.5.4-1.5.4-.4.4 3.4.3-.5.4-13 .4 4.7.4-7.7.4-10.5.4-16.7.4 .4.4-10.4.4-.7.4 5 .4 8.5.4 9.4.4 8 .3 14.1.4 2.4.4 9.1.4-8.9.4-1.6.4 14.5.4 .3.4-3.4.4 11.7.4-12.8.4 14.3.4 7.7.4-16 .4 1.6.3-1.4.4-14.1.4 14.8.4-2.4.4 1.3.4-1.7.4 .7.4 15.2.4-11.3.4-30.9.4 42.3.4-.6.4 13.5.3-19.1.4-1.8.4 7.8.4-.4.4-7.9.4 7.1.4 3 .4 11.8.4-15.9.4 2.4.4-18.5.4 9.7.4-7.9.4 2.7.3-6.4.4 26.9.4 .5.4-8.7.4-6.5.4 2.5.4 7.9.4-6.1.4-9 .4 7.8.4-4.7.4 6.5.4-.5.3 6.2.4-.4.4-8.4.4 5.1.4-3.1.4 12.8.4-4.6.4-3.2.4-1.5.4-6.7.4 2 .4-4 .4 18.1.4 .4.3 4.2.4-16.8.4-10.4.4 22.7.4-6.5.4-3.8.4-3.8.4 11.8.4-7.4.4 8.8.4-21.8.4 15.8.4-6.3.4 6.9.3 3.2.4 4.2.4-12 .4 4.5.4 3.9.4-9.3.4 5.4.4-5.8.4-3.1.4 14.9.4-11 .4 .8.4 5 .3-3.4.4-4.3.4 22.5.4-3.9.4-16.3.4 6.1.4-14.5.4 1.4.4 16.3.4-1.3.4-3.1.4-2.5.4 2.9.4-4.4.3 6.7.4 1.9.4-10.5.4 13.8.4-9.8.4-.9.4-1.4.4 6.9.4-5.3.4 4.7.4-2.5.4-8.1.4-.5.3 16.4.4-9.5.4 7 .4-5.7.4 6.3.4-4.5.4 5.6.4-2.2.4 4.2.4 1.5.4 3.8.4-19.9.4 15 .4-14.6.3 5.7.4-.2.4 7.6.4 3.6.4-7.1.4 6.5.4-6.6.4 6.7.4-13.4.4 7.7.4-3.8.4-10.3.4 16.5.3 2.1.4-19 .4 15.4.4 .9.4 5.5.4-11.3.4 10.4.4-4.1.4 6.4.4-10.6.4-5.3.4 7.9.4-1.6.4-7 .3 1.9.4 7.5.4-2.1.4 3 .4 3.5.4-9.2.4-4.3.4-.9.4 8.6.4 3.2.4-5.3.4 1.2.4-5.8.3-9.3.4 8.1.4 11.7.4 .1.4-7.2.4 8 .4 8.4.4-5.4.4-2.8.4 14.4.4-22.4.4 4.7.4 5.6.4-32.9.3 17.4.4 9.7.4 14.3.4-9.1.4-4 .4 6.4.4-10.3.4-1 .4-1 .4 16.2.4-10.8.4 2.4.4-11.2.3 3.3.4 1.1.4 7.3.4 1.2.4-6.1.4 4.4.4-.4.4-7.1.4 3.9.4 5.5.4 6.1.4-10 .4-2 .4 9.4.3-4 .4 7.2.4-8.9.4 8.6.4-2.9.4-6.7.4 6.2.4-2 .4 .2.4 5.7.4-16.7.4 4 .4 6.1.3-5.7.4 5.4.4-4.6.4 10.4.4-12.6.4 10.2.4 1.5.4-3.1.4 7.1.4-12.5.4-4.3.4 8.4.4-15.8.4 30.9.3-17.8.4 2.5.4-6.4.4-4.1.4 17.3.4-7.5.4-3 .4 18 .4-10.4.4 4.5.4-15.6.4 22.2.4-15.6.3 3.2.4 1.8.4-13.6.4 9.7.4 4.7.4-8.8.4 10.2.4 4.1.4-19.2.4 12.2.4-11.6.4 10.1.4-.9.4 9.4.3-3.4.4-1 .4 3 .4-5.7.4-4 .4 9.4.4-21.1.4 7.6.4 4.4.4 14 .4-.7.4-13.3.4 .2.4-2.6.3 8.4.4-7.7.4 3.5.4-3.1.4 1.1.4-6.8.4 11.5.4-9.6.4 12.6.4-3.2.4 5.3.4-5.4.4-6 .3-2.8.4-4.1.4 5.4.4 4.7.4 2.2.4-2.8.4 .5.4-11 .4 1.9.4 3.8.4 .4.4 1.4.4-.3.4-2.4.3-4.3.4 .3.4-11.4.4-41 .4-46.7.4-33.9.4-44.8.4 1.4.4 35.8.4 39.8.4 21.2.4 8.1.4-6.9.3-15.4.4 18.4.4 15.1.4 21.3.4 15.9.4 15.9.4 18.5.4-7.4.4 7.7.4 8.6.4-21.1.4 6.3.4 2.7.4 4.5.3 2.8.4-13.5.4 11 .4-8.4.4 7.9.4-11.1.4 4 .4 9.8.4-5.9.4 .8.4-5.8.4 10.8.4-12.3.3-4.2.4 4 .4 5.2.4-12.3.4-.6.4-.4.4-.3.4 3.8.4-6.6.4 17.9.4-2 .4-6.2.4 4.4.4 4.9.3-.9.4 3.1.4-2.3.4-3.5.4 5.4.4 1.6.4-1.3.4 .7.4 4.5.4-3.3.4-3.1.4 6.9.4 1.2.3-1.3.4-16.2.4 6.3.4 10.5.4-7.4.4 8.8.4-6 .4 10.4.4-9.6.4 .3.4-1.1.4 1.6.4-.6.4 3.3.3 0 .4-1.3.4 3.5.4 0 .4 1.9.4-.7.4-.2.4-6.6.4 2.1.4-7.2.4 7.2.4 .1.4 5.1.3-5.7.4-.9.4 1.4.4-1.6.4-3.4.4-2.3.4 6.2.4 8.7.4-4.6.4-7.4.4 13.7.4-11 .4 .9.4 1.7.3 4.7.4-8.4.4 11.5.4-2.1.4-14 .4 7.8.4 3.9.4 6.3.4-6.8.4-6.4.4-9.6.4 4.9.4 16.1.3-14.8.4 7.9.4-.2.4 2.7.4-5.2.4 1.6.4-3.4.4-7.4.4 8.2.4-2.3.4 8.9.4-1.6.4-8.1.4 4.8.3 4.5.4-5.8.4-4.5.4 6.2.4 .4.4-.8.4 3 .4-2 .4-.1.4-2.3.4 3.6.4 2.3.4-1.3.4 1.7.3-4.2.4-.6.4-3.3.4 6.2.4-5.1.4 3.1.4-5.6.4 2.6.4-6.1.4-.7.4-3.1.4-4 .4-1.2.3-2.5.4 2.6.4-4.2.4 .2.4 .3.4 2.7.4-6.5.4 11.6.4-.7.4 16.5.4-10.6.4 2 .4-7 .4 14.1.3-4.2.4-.4.4-1.5.4 2.9.4 5.2.4-3.2.4 7.2.4 1 .4-7.4.4 .5.4 5.9.4 5.7.4-3.1.3 2.7.4-16.9.4 3.2.4 5 .4-1.9.4 1.2.4 3.5.4-3.7.4 5.8.4 1.4.4-4.8.4-3 .4-2.3.4 3.1.3 3.5.4-2.2.4 6.4.4-15.4.4 5.5.4 8.9.4-9.5.4-.9.4 3.6.4 2.3.4-1.7.4-.2.4-5.6.3 14.3.4-.9.4-10.9.4 8.9.4-4.6.4-1.7.4 5.8.4-7.3.4 2.1.4 6.2.4-1.9.4-5.1.4 5.3.4 7.4.3-12.1.4 .9.4 4.2.4-3.2.4 4.4.4-9.3.4 7.1.4-4.7.4-.7.4 8 .4-6.8.4 10.1.4-6 .3-5 .4 1.9.4-.5.4 1.8.4 4.1.4-2.3.4 2.7.4-6.8.4 6.5.4-1.9.4 3.9.4-2 .4 5.4.4-9.5.3 8.1.4-7.3.4 5.9.4-1.9.4-9.1.4 14.6.4-3.7.4-8.4.4-.2.4-6.1.4 17.8.4-9.6.4 3.6.3-8 .4 9.1.4 3.4.4 .4.4-4.5.4-3.8.4 3.1.4-4.2.4-4.9.4-1.1.4 11.3.4 6.3.4-6.5.4 1.5.3-1.8.4-7.3.4 14.1.4-12.3.4 13.2.4-11.8.4-6.3.4 11.4.4-7.2.4 14.6.4-10.1.4-2.6.4 5.9.3 3.7.4-11.5.4 7.6.4-6.5.4 4.2.4-3.9.4-1.6.4 3.3.4 2.4.4-9.1.4 5.4.4-2.7.4-1 .4-7.2.3 5.8.4 12.5.4-2.8.4 6 .4-13.7.4 7 .4-3.8.4 4.1.4-7.3.4 10.9.4 .2.4-18.7.4 21.8.3-.3.4-15.8.4 8.4.4-6.3.4 4.7.4 4.5.4-2.2.4-2.8.4 2.2.4 8.5.4-13.6.4 .1.4 8.3.4-.4.3-1.4.4 4.7.4-6.2.4-9.9.4 4.1.4 9.3.4-1.8.4-4.6.4 3.7.4 2.8.4 .4.4-8.4.4 .7.4 5.2.3 .6.4 5.5.4-6.7.4-2 .4 3.1.4-2.1.4 7.1.4-7.2.4 5.9.4 4.6.4-14.2.4 13.7.4-7.2.3-1.4.4 18.2.4-19 .4 2.3.4-8.6.4 12.5.4-5.5.4-2 .4 7.4.4 5.3.4-9.4.4 12.2.4-9.2.4-4.9.3 8 .4-8.3.4 10 .4-5.8.4-4.9.4 1.3.4 .8.4 5.2.4-7.9.4 7.6.4-2.4.4-2.4.4 6.9.3-7.3.4 4.9.4-5.3.4 3.4.4-8.2.4 4.1.4 2.7.4-1.2.4-7.7.4 4.1.4 4 .4-3.7.4 5.1.4-12 .3 8.8.4 6 .4-3.6.4 4.3.4-11.4.4 4.4.4-1 .4 2.8.4-7 .4 7.6.4 5 .4 2.7.4 2.4.3-17.1.4 3.2.4-2.6.4 .3.4 6.9.4 8 .4-7.7.4 .4.4 1 .4-1.4.4-1.4.4-3.4.4 2.3.4-4.6.3 2.2.4 8.1.4-9 .4-2.4.4 10.2.4-6.8.4 5.1.4-3.4.4 2.7.4-4.6.4-.7.4 3.2.4 9.4.3-4.3.4-5.7.4 4.4.4-.7.4-5.1.4 4.6.4 4.6.4-8.2.4 .1.4-2.9.4-2.8.4 4.9.4 .1.4 .2.3-.8.4 15.1.4-10.3.4-.8.4-.3.4 6.8.4-2.2.4-7.9.4 9.9.4-9.3.4 7.6.4-.8.4-11.4.3 2.7.4 13.3.4-5.6.4-1.6.4 5.6.4 0 .4-6.6.4 7.9.4-4.9.4-9.6.4 13.6.4-11.8.4 1.6.4 8.9.3-11.8.4 7.8.4 6 .4-8.3.4 4.7.4-5.8.4 6.3.4 1.9.4-1.5.4-3.8.4-6.2.4 3.5.4-4.6.3 .8.4 1.5.4 6.3.4-.1.4-14.2.4 14.8.4-3.9.4-.7.4-.9.4 4.5.4-14.5.4 15.6.4 2.5.4-15.2.3 6.3.4-1.7.4 1.3.4-6.3.4 12.7.4 3.1.4-12.8.4 12.4.4-14.8.4-1.4.4 16.2.4-1.4.4-14.1.3 10.9.4-7.9.4 7.9.4 14.8.4-18.8.4 1.9.4 8.7.4-13.3.4 4.7.4-4.6.4 8.9.4-2.1.4-1.8.4 5.3.3-7.9.4 6 .4-7.4.4 2.6.4 6 .4 2.4.4-4.6.4 3.8.4-8.7.4-2.7.4 3.5.4 3.1.4 1.5.4 3.8.3-15.5.4 7.5.4-6.1.4 3.8.4 8.8.4-2.9.4-1.6.4-.2.4-4.9.4 12 .4-6.3.4 3.9.4-12.2.3 12.1.4-.9.4-4.1.4 5.4.4-11.7.4 10.9.4 2 .4-4.5.4-2.5.4 7.5.4-4.1.4 .9.4 4.2.4 0 .3-13 .4 7.9.4-.1.4-2.2.4 15.9.4-6 .4-3.8.4-.1.4-5.9.4-9.3.4 16.5.4-4.4.4-2.6.3 7.2.4-16 .4 15.8.4-4.2.4-7.5.4 12.1.4-4.1.4 .1.4 2.3.4-9.6.4 10.4.4 2.6.4 .1.4 2.3.3-3.1.4-1 .4-6.9.4 4 .4-8.8.4 14.7.4-7.5.4 2 .4-2.5.4 1.5.4-1.5.4 .8.4 5.1.3 1 .4 1 .4 5.7.4-8.2.4-6.2.4 8 .4 2 .4-7.2.4 4.2.4-.1.4-1.8.4-6.2.4 12.4.4-11.1.3 14.3.4-8.5.4-6.7.4 8.3.4-3.4.4 3.9.4 1 .4-1.3.4-10.4.4 2.2.4 7.4.4 22.7.4-42 .3 18.2.4-6.8.4 14.3.4-3.9.4-6.4.4-12.6.4 39 .4-18.8.4-3.6.4-1.8.4-8.1.4 2.6.4 11.3.4-18.3.3 12.7.4-6.3.4 3.8.4 1.7.4 5.6.4 9.1.4-26.6.4 3.6.4 15.3.4-10 .4 5.3.4 6.3.4-15.8.3 7.7.4 21.6.4-17.4.4 7.8.4-3.9.4-10.4.4 4.1.4-7.1.4-3.8.4 3.4.4 9.1.4-4.2.4 5.8.4-1.1.3-7 .4 13 .4-5.7.4-1.8.4 5 .4-9 .4 3.5.4 7.7.4-5.5.4-13.9.4 9.8.4-5.9.4-.6.3 11.7.4 1.8.4-2.9.4-13.7.4 12.7.4-10.6.4 6.3.4 14.8.4-16.1.4-2.2.4 8.4.4 5.5.4-10.7.4-5.1.3 11 .4-4.4.4 4.8.4-1.2.4 2.4.4 3.9.4-7.2.4 7 .4 .5.4-11 .4 .7.4 6.5.4-8.4.4 4.6.3-2.1.4 4.7.4-3.8.4-9.8.4 21.1.4-18.1.4 16.2.4-1.2.4 8.3.4-14 .4-.9.4 17.6.4-21.8.3 8.1.4-8.5.4 6.8.4-5.1.4 12.6.4-7 .4 3.2.4-4.8.4 3 .4-5.6.4-1.1.4 5.7.4-9.1.4 9.5.3 6.9.4-11.1.4 8 .4-14.8.4 15.7.4 .6.4-6.6.4 1.4.4-4.9.4 2.2.4 2.3.4-1.1.4 2.9.3-9.4.4 18.8.4-14.5.4-11.4.4 16.4.4-1.5.4-14.1.4 7.9.4 6.4.4-1.9.4 3 .4 2.2.4 7.9.4-18 .3-8.8.4 14.4.4 9.7.4 1.5.4-13 .4 4.7.4-6.3.4 1.1.4 9.6.4-10.7.4 7 .4-9.6.4 8.4.3-2 .4-4.6.4 6.6.4-.6.4-.5.4-6 .4 2.6.4-3 .4 .9.4-4.8.4 14.1.4-8.7.4 11.5.4-2.6.3-.2.4-23.4.4 16.2.4-6.8.4 4.7.4 18.7.4-16.4.4 8.4.4 3 .4-8.9.4-1.5.4-2.5.4 11.1.3-3.5.4-.2.4-14 .4 7.4.4-3.1.4 .2.4-2 .4 8.2.4 5.1.4 1.4.4-20.8.4 13.1.4-4.2.4-.5.3 2 .4-.6.4 6.2.4-5.3.4-7.8.4 8.6.4 5.8.4-23 .4 .6.4 1.4.4 9.1.4-1.1.4 4.3.3 2.2.4-1.6.4 3 .4 .5.4-11.7.4 3.8.4-13.1.4 26.5.4-25.4.4 18.6.4-8.2.4-6 .4 3.7.4-.7.3-1.6.4 2.2.4-2.4.4 3 .4-4.3.4-.1.4 .1.4 6.2.4 1.8.4-1.8.4 14.8.4-20.3.4 22.4.3-29.4.4 30 .4-5.7.4-9.2.4-3.6.4 6.3.4-20.1.4 17.7.4-2.1.4 15.3.4-7.6.4-10.9.4 12.4.4-3.1.3 4.1.4-5.1.4 8.2.4 1.8.4-10.4.4 .9.4-1.2.4-.3.4 5.6.4-4.9.4-7.2.4 3.6.4 3.6.3 10 .4-9.2.4 6.6.4-9.9.4-.2.4 8.4.4-10.2.4 4.5.4 1.4.4-2.2.4 10.1.4-3.7.4-9.6.4 9.2.3-3.4.4 4.5.4-1.1.4 1.4.4 2.2.4-10.4.4 8.3.4-3.3.4-.5.4-2.8.4 2 .4 12.6.4-18.1.4 11.7.3-4.6.4 1.8.4-10.2.4 14.5.4-7.8.4-.3.4-2.4.4 16.2.4-17.1.4 10.9.4-6.7.4-1.5.4 3.5.3 .4.4 9.9.4-9.8.4-6.1.4 9.9.4-5.4.4 3.7.4-6.3.4 12.4.4-16.2.4 8.2.4 1.7.4-2.3.4-1.3.3-13.3.4 9.1.4-2.8.4 8.5.4 1.5.4-.5.4-2.4.4-8.3.4 1.8.4 15.1.4-17.8.4 12 .4 3.2.3-.1.4 3.7.4 .6.4-7.8.4-2.5.4 8.2.4-13.1.4 10.1.4-4.8.4 10.7.4-5.7.4-2.9.4-1.1.4 9.3.3-7 .4-7.8.4 1.3.4 12.4.4-8.2.4-1.8.4 7.3.4-1.8.4-.6.4 14.2.4-16.6.4-3.3.4-1.3.3 6.5.4 2.1.4-8 .4 16.8.4-18.1.4 8 .4 2.7.4-2.7.4-3 .4 6.3.4-2.5.4-14.4.4 23 .4-15 .3 2 .4 8 .4 3.9.4-9.4.4-9.4.4 15.7.4-7.8.4-3.4.4 6.9.4 7.1.4-12.2.4 2.8.4-3.2.3 8 .4 5.9.4-15.3.4 2.8.4 3.5.4-10 .4 6.6.4 7.6.4-12.1.4 10.4.4-4.4.4 8.4.4-6 .4 .3.3-5.3.4 5 .4 0 .4 6.4.4-7.1.4-4.5.4 6.7.4-.5.4-3.8.4-4.9.4 9 .4-2.6.4-4.8.3 3.5.4 5.8.4-2.5.4-7.9.4 9.5.4 3 .4-7.2.4-8.1.4 8.8.4 .2.4-8.1.4 7.8.4-1.9.4 4.2.3-4.9.4 5.4.4-4.4.4 10.3.4-14.1.4-.3.4 11.3.4-16.6.4 16.2.4 3.5.4-1.9.4-11.7.4 3.6.3 0 .4 2 .4-4.1.4 1.2.4 8.4.4-9.6.4 2.9.4-2.9.4-5.3.4 10.5.4 2.4.4-1.6.4 3.9.4-6.3.3-1 .4 2.7.4-7.5.4 .1.4 2.8.4-.7.4 1.7.4-5.7.4-1.7.4 13.6.4-4.2.4-.4.4 2.4.3-6 .4 6.5.4-3.1.4 8.5.4-.4.4-3 .4-5.1.4-.7.4 6.4.4-6.1.4 1.3.4 7.1.4-10.5.4-.4.3 1.5.4-6.7.4 2.2.4 12 .4-3.9.4-7.1.4 5.9.4-3.9.4 9.2.4-3.8.4 1.2.4-4.1.4-1.6.4-3.3.3 4.6.4 7.4.4-7.7.4 .7.4-3.9.4-.1.4 3.8.4-4.5.4 9.2.4-10.8.4 14.6.4-7.2.4 2.3.3-4.2.4 11.5.4-10 .4 3.2.4-4.3.4 5.4.4-3.1.4-.1.4-1.9.4-7.5.4 9 .4-4.5.4 9.8.4-9.5.3 3.1.4 2.2.4-6 .4 16 .4-14 .4 4.5.4-4.2.4-.9.4-3.6.4 7.5.4-3.4.4 3.6.4 .7.3 1.5.4-7.8.4-2.1.4-6.5.4 17.3.4-12.6.4 3.6.4-12.4.4-2.3.4-11.7.4-23.1.4-22.2.4-6.6.4 12.7.3 18.4.4 22.3.4 11 .4-1.2.4 6.3.4 11 .4-16.2.4-13.7.4-3.3.4-10.1.4 12.5.4 22.2.4 .4.3 1.9.4 .5.4 9.8.4-1.5.4-11.2.4 9.2.4-1 .4 2 .4-5.3.4 8.8.4-3.8.4 7.1.4-11.8.4-3.6.3 7.9.4-1.1.4 1.8.4 10.5.4-12.1.4-2 .4 2.6.4 .1.4 5.1.4-4.3.4 6.4.4-12.4.4 4.9.3 2.8.4 1.3.4-8.1.4 2.5.4-6.6.4 6.4.4 6.6.4-.3.4-5.7.4-5.7.4 3.7.4 9.1.4-6.5.4 5.4.3 4.2.4-2.9.4-10.6.4 7.9.4-.9.4 1.6.4-6.8.4-5.8.4 16.4.4-6.9.4-2.7.4 .7.4 19.7.3-22.9.4 9.2.4-6.2.4 2.9.4 .4.4 3 .4-6.8.4 7.5.4-4.5.4 2.6.4-18.9.4 11.5.4 6.3.4-8.9.3 8.6.4-6.2.4 8.5.4-8.3.4 3 .4 2.7.4 6.8.4-14.4.4-1.1.4 1.8.4 4.6.4 1.9.4 4.3.3-7 .4 4.6.4-1.4.4-5.1.4-13.9.4 12.7.4 15 .4-18.8.4 6.4.4 9.2.4-15.3.4 6 .4-1.3.4 5.1.3-8 .4 2.9.4 4.4.4 4.7.4-8.7.4 3.2.4 1.4.4 .5.4-7.2.4 7.3.4 6.3.4-3.3.4-9.3.4 7.5.3-.4.4 .4.4-6.4.4 3.5.4-4 .4-10.9.4 15.6.4-.1.4 4.4.4-8.4.4-1.4.4 5.8.4-2.3.3-5.9.4 24.6.4-10.2.4-12.9.4-10.5.4 13.6.4 5.2.4-5 .4 3.8.4 9 .4 7.5.4-16.7.4-5.3.4 4.1.3 5.9.4 4 .4-7.7.4-5.4.4 4.4.4 2.3.4-4.7.4 .9.4-2.2.4 3.9.4-.9.4 6.1.4 .8.3-2.1.4 3.2.4-3 .4-8.4.4-4 .4 15 .4-.5.4-2.5.4-12.7.4 10 .4 1.7.4-.3.4-7.8.4 15.6.3-9 .4-1.3.4 3.9.4 1.1.4-1.4.4-5.6.4 1 .4 4.1.4-10.7.4 6.3.4 6.6.4-7.6.4-5.6.3 12 .4 .3.4-3 .4 3.8.4-.6.4-6.6.4-11.7.4 4.8.4 5.8.4 2.5.4 5.8.4 1.2.4-13.3.4-6.8.3 21.1.4-6.9.4-2.8.4 7.5.4-4.2.4 3.4.4-13.1.4 8.8.4 0 .4 3.4.4 6.8.4-19.9.4 8 .3 11.5.4-6 .4 7.3.4-9.3.4-.7.4 5.9.4-3 .4 6.2.4-5 .4-7.5.4 4.9.4-.1.4-3.7.4 .5.3-7.8.4 7.7.4 .7.4-3.3.4 1.7.4 12.1.4-7.8.4-5.1.4-15.2.4 26.6.4 2.2.4-15.2.4 12.2.3-8.2.4 6.7.4-6.7.4-.5.4-.6.4-4.7.4 12 .4-11.8.4 5.9.4 4.3.4-5 .4 4.3.4 3.4.4-.8.3-5.4.4-2.2.4 7.5.4-1.7.4 .9.4-5.4.4 13.4.4-12.5.4 3.6.4 6 .4-11.7.4-5.4.4 2.7.3-.2.4 11.8.4-9.9.4 18.7.4-13.6.4-3.1.4 14.5.4-17.4.4 2.8.4 8.2.4-14.2.4 14.4.4-4.3.4-1 .3 3.1.4-7.2.4 3.9.4 26.6.4-29.3.4-1.2.4-1.5.4 5.4.4 4.7.4-1.7.4-3.6.4 7.5.4-5.8.3-8.6.4 6.4.4-8.9.4 3.7.4 8.8.4-.5.4-5.8.4 5.2.4-3.4.4-2.9.4 7.8.4-.6.4 5.7.4-4.9.3 4.2.4-1.3.4-6.6.4 3 .4-1.9.4 13.2.4-10.5.4-2.1.4-2.5.4 7.4.4-2.2.4-7.5.4 10.8.4-12.1.3 9.7.4-8.3.4 5.8.4 4.5.4 .1.4 1.8.4 1.1.4-14.2.4 6.3.4 4.8.4 .6.4-13.5.4-3.4.3 13.9.4-10.4.4 .7.4 8.5.4 9.8.4-7.2.4-14.8.4 .4.4 15.7.4 7.1.4-11.3.4-1.9.4 7.4.4-10.9.3 1.2.4 1 .4 9.3.4-12.7.4 8.3.4 .7.4-1.6.4 4.5.4-13.7.4 18 .4 6.3.4-20.2.4-1.7.3 12.7.4 5.1.4-9.6.4-.2.4-4.4.4 16 .4-14.7.4 5.3.4-8.1.4 7 .4-8.9.4 8.1.4-3.9.4 1.9.3 .1.4-1.4.4-7.7.4 11 .4-9.1.4 16.4.4 1.4.4-6.6.4 4.4.4-5.4.4-3.7.4 6.3.4-5 .3-3.6.4 8 .4-2.7.4 5.7.4-2.6.4-3.5.4 2.4.4-5.9.4-.4.4 9.5.4 2.7.4-5.9.4 1.6.4-6.1.3 3.1.4-4.9.4 11.1.4 1.8.4-10 .4-3.5.4-.7.4 2.8.4-6.2.4 9.7.4 3.2.4-5.1.4 7.4.3-12.9.4 12.1.4-7.5.4 5 .4-3 .4 .3.4-4 .4 .7.4 7.2.4-.6.4-4.7.4 7.9.4-3.2.4-7.8.3 2.3.4-1.9.4 8.1.4-7 .4 10.2.4-3.9.4 4.3.4-1.5.4-4.9.4 1.6.4 .2.4-3.6.4-4.1.3 9.9.4-4.1.4 4.1.4 1.3.4-1.9.4-4.8.4 8 .4-11.3.4 5.9.4-1.6.4 .2.4-.5.4 .6.4-2.2.3 7 .4 1.1.4-2.7.4-6.3.4 5.5.4-6.1.4 11.8.4-10.8.4 6.1.4-.2.4-.7.4-3.4.4-4.2.3-2.7.4 5.6.4 3.7.4-3.2.4-2.5.4 3.9.4 .5.4-2.9.4-3 .4 6.4.4-1.6.4-4.4.4 5.5.4-1.8.3-1.2.4 4.4.4-7.3.4 6.1.4-4.5.4 4.7.4-4.5.4 1.1.4-4.5.4 7.3.4-3.9.4 4.5.4-5 .3 .5.4 1.1.4-1.1.4 4 .4-1 .4-2.9.4 3 .4-.6.4 2.6.4-5.5.4 2.2.4-2.2.4 2.3.4-3 .3 .6.4-2.2.4 5.3.4 .7.4 2.4.4-4.3.4 1.1.4 2.5.4-2.7.4-4.3.4 3.4.4 3.3.4 .7.4 .9.3-4.5.4 3.3.4-3.9.4 1 .4 2.4.4-8.9.4 9.8.4-4.4.4 2.2.4 3.4.4 1.1.4-5.3.4 7.4.3-2.8.4 3.6.4-2.6.4-.2.4-4.6.4 4.3.4-2.9.4 4.1.4-4.9.4 8.9.4-2.7.4-6.3.4-4.1.4 12.4.3-3.4.4-3.1.4-6.8.4 10.6.4-2 .4 1 .4 5.4.4-.9.4-3.4.4-2.1.4-4.8.4 4.3.4 2.9.3-9.4.4 10.1.4-11.6.4 3 .4 4.2.4 1.5.4 3 .4-7 .4-2.4.4 6.1.4-3.9.4 7.8.4-3.1.4-.1.3 3.2.4-2.6.4-1.6.4 .6.4-5.3.4 5.5.4-1.7.4 .1.4 1.8.4-3.1.4 1.6.4-5.1.4 6 .3 2.2.4-2.1.4-3.6.4 5.5.4-6.1.4 1 .4 .6.4 2.2.4 2 .4-4.2.4-1.5.4 3.6.4-1 .4 2.3.3-3.8.4 0 .4 4.9.4-4.8.4 5.2.4-2.2.4 4.1.4-6.5.4 3.7.4-2 .4 8.6.4-5.1.4 .4.3-3.2.4 2.5.4-1.4.4 2.3.4-.9.4-1.8.4 0 .4 .2.4-2 .4-.3.4 4.4.4-2.6.4 2.6.4-1 .3-2.8.4 .1.4-2.5.4 1.7.4-4.1.4 4 .4-.2.4 .1.4 .3.4 1.2.4 2.3.4 .6.4 1.2.3-8.4.4-.3.4 4.5.4-6.3.4 6 .4 3.9.4-3.3.4 7.5.4-9 .4 1.3.4 4.2.4-6 .4 3.2.4 .2.3-8.4.4 3.8.4 11.3.4-16 .4 7.9.4-3.1.4 4.2.4-10.1.4 4.2.4 8.1.4 .4.4 .2.4-2.3.3-4.7.4-.8.4 1.2.4 6.1.4-4.6.4 .7.4 9.3.4-11.5.4 5.8.4-3.1.4-7.3.4 13.7.4 1 .4-7.5.3-1.8.4 3.3.4-2.3.4-1.8.4 4.5.4-4.1.4 .8.4 2.4.4 1.1.4-3.8.4 .3.4 9.7.4-7.3.4 2.2.3-4.5.4 5.6.4 .8.4-8.6.4 8.7.4-9.2.4 3.7.4 2 .4-.6.4-1.9.4-.9.4 6.7.4-3.7.3-4.6.4-2.4.4 11.1.4-7.9.4 8 .4-7.1.4-.6.4 8 .4-4.5.4-3 .4 9.8.4-3.2.4-5.5.4 5 .3-4 .4-4.6.4-4.4.4 4.8.4 4.5.4 .6.4 1.4.4-6.5.4 8 .4 1.8.4-3.7.4-1.5.4 3.4.3-1.6.4-.5.4-5.5.4-1.2.4 7.3.4-7.3.4 4.5.4-.8.4 4.8.4-10.1.4 7.5.4 .1.4-5.1.4 4.7.3-5.5.4 2.3.4 3.8.4 2.2.4-4.7.4 .7.4 2.8.4-7.1.4-3.7.4 5.1.4 6.9.4-4.2.4-4.4.3 3.7.4 2.1.4-2.1.4 6.5.4-1.9.4-10.8.4 11.8.4-10.4.4 3.5.4 4 .4-8 .4-4.1.4 10.2.4-15.7.3-7 .4-9 .4-6 .4-6 .4-5 .4-14 .4-19.5"/>
<path class="c" stroke="#186ce0" stroke-width="2.0" d="M257.8 464l.4 1.7.4 13.6.4-8.8.4 21.4.4-19 .4 11.1.3 4.8.4-11.7.4 33.2.4-21.5.4 5.2.4 10.1.4 15.7.4-19.8.4 37.3.4-17.5.4 .2.4 10.3.4-2.9.4-6.2.3 8 .4 10.1.4 16.9.4-9.9.4 5.3.4-23.3.4 22.6.4 5.6.4 20.4.4 1.3.4-10.8.4 5.3.4-3.6.3-4.3.4 9.1.4-1.9.4 8.5.4 5.2.4-6.6.4 14.2.4-19.7.4 12.4.4 3.3.4-17.8.4 24.9.4 2.5.4 11.2.3-14.8.4 8.1.4 2.7.4-18.8.4 23.2.4-15.6.4 19 .4 6.9.4-1.6.4-19.1.4 34.6.4-8.6.4 8.3.3-13.5.4 4.7.4 24.7.4-19.9.4 1.8.4 3.3.4 15.4.4-31.5.4 25.7.4-2.2.4 33 .4-10.3.4-6.7.4 3.2.3-2.2.4-.1.4 4.2.4 18.8.4-16.6.4 1.9.4 6.7.4 11.9.4-7.1.4-11.8.4 12 .4 1 .4-9.8.3 1.8.4 16.5.4-7.8.4 23.1.4-9.7.4-5.1.4 5 .4-5.5.4 3.7.4 13.8.4-5.9.4-14.6.4 6 .4 17.4.3-13.6.4 8 .4 13 .4-11.6.4 2.2.4 .4.4 21.3.4-20.2.4-2.1.4 13.6.4 15.6.4-8 .4 12.1.4-.7.3-17.7.4 11.4.4 .1.4 2.4.4 11.3.4 2.8.4-4.2.4 5.1.4-13.7.4 12.8.4-14.2.4 6.9.4-6.1.3 21.2.4-12.4.4 10.7.4-15.7.4 13.4.4 5.7.4-4.8.4 1.7.4 .7.4-.7.4-1.5.4-2.8.4 16.2.4-7.1.3 1.7.4 3.2.4-11.4.4 .4.4-6.4.4 33.9.4-15.1.4 9.1.4-18.8.4 12.5.4 5.1.4-4.1.4 14.2.3-10.3.4 3.3.4 10.3.4 4.8.4-8.9.4-5.2.4 2.3.4 12.6.4-16.8.4 1.4.4 1.3.4 16.2.4-3.8.4-9.4.3 2 .4 6.8.4-3.5.4-3.3.4 2.4.4 5.6.4-2.5.4 5.1.4-1.9.4-2.1.4 9.6.4 .9.4-17.9.3 17.8.4-4.8.4-3.4.4 14.3.4-1.1.4 1.7.4-7.2.4 18.9.4-8.5.4-7 .4 31.8.4-30.9.4 18.9.4-12.3.3-1.3.4 .1.4-1.2.4 1.4.4 10.3.4-2.8.4-10.8.4 14.2.4-12 .4 15.3.4-6.7.4 .9.4 12.2.3-23.1.4 31.6.4 6.8.4-14 .4-3.2.4-8.7.4 13.7.4-8.9.4-.1.4-3.2.4 16.9.4-3.5.4-16.4.4 10.5.3-8.5.4 17.4.4-13.3.4 6.9.4 5.4.4-5.2.4-7.3.4 6.5.4-6.1.4 21.2.4-3.1.4-19.4.4 5 .3 25.5.4-11.1.4-6.6.4 9.5.4-3.7.4 3.5.4-7.7.4 14.3.4-9.1.4-9.6.4 8.2.4-3.4.4 7.2.4-.5.3-.9.4-6.5.4 8 .4-5.4.4 16.3.4-19.7.4 6.7.4-1.2.4-3 .4 10.7.4-.1.4-.1.4 10.2.3-14.3.4 8.1.4-1.9.4 2 .4-10.5.4 1.2.4 14.8.4-13.4.4 16 .4 3.1.4-16.6.4 9.4.4-.8.4 16.7.3-3.7.4-8.1.4 .7.4 2.7.4-13.5.4 5.9.4 6.4.4-8.3.4 14.5.4-16.7.4 4.6.4 3.5.4 4.6.4-10.6.3 2.3.4 8 .4-1.2.4 7.2.4-12.3.4-1.4.4-11.3.4 11.1.4 3 .4-2.8.4 7.3.4 8 .4-7.7.3 8.8.4-.7.4-3.9.4 4.5.4 1.4.4-13 .4 17.8.4-19.5.4 12.3.4-4.8.4-2.4.4 7.9.4-3.1.4 1.4.3 .6.4-3.9.4 7.6.4-8 .4 9.8.4-9.6.4 8.6.4-3.9.4 11.5.4-13.3.4 12.3.4-8.4.4-6.2.3 16.3.4-2 .4 3.8.4-10.6.4 6.9.4 3.3.4-6.3.4 13.3.4-14.7.4 6.3.4-8.7.4 1 .4 2.1.4 1.7.3 2.1.4 1.8.4-13.9.4 12.6.4-3.5.4-6.6.4 4.2.4 10.4.4-.6.4-11.5.4 5.6.4 .8.4 17.8.3-16 .4-5.8.4 7.7.4-26 .4 27.4.4 5.5.4-3 .4-13 .4 25.8.4-10.6.4-4 .4 .5.4 5.8.4-5.4.3 .3.4 7.3.4-12.3.4 10.8.4-9.7.4 8.3.4 3.8.4-2.9.4 1.9.4-7 .4-2.3.4 11.4.4-7.1.3-4.3.4 2.2.4-4.7.4 13.2.4-.6.4 6 .4-16.2.4 7.8.4-.5.4-12.5.4 13.3.4 4.7.4-8.9.4-2.4.3 23.4.4-23.3.4 18.6.4-7.3.4 1 .4-5.7.4-2.6.4 15.3.4 2.8.4-16.1.4 12.4.4-6.8.4 4.7.3-5.4.4-2.5.4-10.9.4 6 .4 8.6.4-.5.4-5 .4-2.3.4 4.6.4 6.6.4 2.7.4 .8.4-5.1.4 3.8.3-16.5.4 21.5.4-8.2.4-5.1.4-.7.4-.8.4 4.4.4 6.8.4-9.1.4 9.8.4-4.4.4-10.8.4 3.4.3 1.2.4 3 .4 22 .4-4.8.4-12.6.4 .3.4-6.4.4 11.7.4-11.9.4 2.4.4 3.6.4 5.1.4-2.7.4-16.7.3 16.7.4-4.4.4 4.6.4 6.5.4-18.1.4 11.4.4 4.7.4-15.2.4 18.1.4-4.2.4-2 .4-6.6.4 9.6.3 .2.4-9.4.4 1.2.4-1.4.4 7.2.4 .6.4 3.7.4-3.4.4-4.5.4 2.7.4-5.5.4 11.8.4-12 .4 .7.3 5.9.4-12.1.4 14.7.4 5.7.4-4.3.4 .6.4-1.2.4-2.7.4-.5.4-6.8.4 9.4.4 3.4.4 6.5.4-14.2.3 4.8.4 .8.4-5.3.4-.3.4 .4.4 .9.4 11.7.4-20.1.4 3.2.4-1.4.4 10.9.4 1.6.4-9.4.3 11.9.4-11.9.4 16 .4-8.3.4 5.1.4-14.3.4 14.4.4-4.6.4-7.1.4-3.3.4 15 .4 3.3.4-10 .4 8.3.3 .3.4 1.1.4-13.1.4 10.9.4-3.2.4-5.2.4 5.4.4-4.2.4 10.5.4-7.8.4 3.4.4 3.2.4 6.3.3-7.3.4-17.8.4 23 .4-8 .4 5.8.4-6.2.4-3.1.4-6.6.4 11 .4 2.8.4-8.5.4-.2.4-.9.4 3.4.3 1.6.4 4.6.4-7.5.4 4.5.4-9.1.4 12.2.4-6.7.4-10.3.4-.2.4-.2.4-1.4.4-10.6.4-2.4.3 4.7.4 2.8.4 5.1.4 20.1.4-13 .4 .8.4 0 .4-2.4.4 13.4.4 1.1.4-12.3.4 17.6.4-4.5.4-8.2.3-7.1.4 6.6.4 .1.4 7.2.4-7.1.4 8.6.4 22.3.4-32.9.4 1 .4 11.8.4 3.7.4-23.6.4 8.5.3-6.7.4 12.8.4-1.4.4-5.6.4 6.7.4 6.1.4-42.6.4 25.3.4 5.3.4 4.9.4 3.1.4-1.1.4 10.1.4-10.2.3-4.8.4-.1.4-17.2.4 21.5.4 4.6.4-9.8.4 12.2.4-12.7.4 11.9.4-4.7.4 11.1.4-7.9.4-.2.3-3.3.4-4 .4 .3.4 .7.4-2.9.4 15.3.4-.9.4-2.8.4 .4.4-11.1.4-7.8.4 18.9.4-.1.4 .4.3 1.8.4-.8.4-8.1.4 8 .4-.3.4 6.1.4-1.8.4-6.3.4-.1.4-6.3.4 3 .4 7.7.4-26.7.3 15.4.4 10.6.4-9.2.4-14.3.4 21.5.4 1.1.4-1.4.4-.8.4-10.8.4 26.2.4-22.1.4 .5.4 8.9.4-.3.3-3.4.4 1.1.4 2.9.4-1.7.4-7.8.4 6.2.4 1.4.4 0 .4-2.5.4-6.3.4 9.6.4 1.4.4-2.1.3-13 .4 12.9.4 7.6.4-6.8.4-6.2.4 7.3.4-4.6.4-1.9.4 5.6.4-1.6.4-6.6.4 16.2.4-5.2.4-17.3.3 9.8.4 .5.4-16.3.4 8.5.4 14.8.4-7.2.4 5.9.4-2.8.4-2.9.4-3.5.4-5.2.4-3.1.4 5.9.4 10.5.3 6.5.4-3.6.4-9.5.4-4.5.4 14.8.4-2.8.4-3.4.4 2.6.4-8.9.4 10.7.4-19 .4 8.8.4 6.1.3-3.5.4 9.3.4-7.1.4-6.5.4-.6.4-7.7.4 19.2.4-6.1.4 2.9.4-10.1.4 1 .4 8.3.4-5.6.4 2.4.3 7.9.4-5.6.4 0 .4 1 .4-5.2.4 5.7.4-2.5.4 19.4.4-17.3.4-10.2.4 5.8.4-2.5.4 10.3.3-7.1.4-5.1.4 3.5.4 6.7.4 2.7.4-5.5.4-1.6.4-6.9.4 3.9.4 .9.4-3.5.4 4.8.4-6.5.4 10 .3-8.5.4-1.5.4-1.2.4 3.7.4 3.4.4-.7.4-5.3.4 4.3.4-6.6.4 4.9.4 3 .4-2.1.4-3.9.3-1.6.4 5.6.4-1.9.4-9.8.4 4.4.4 3.7.4 2.2.4-1.5.4 8 .4-14.1.4 14.2.4-10.2.4 4.1.4-4.1.3 4.2.4-17.8.4 24.1.4-11.6.4 2.4.4-13 .4 13.1.4-3.5.4 8.5.4-2.4.4-5.4.4-5.8.4 17.3.3-10.7.4 8.5.4-.1.4 2.9.4-17.6.4 .9.4 4.6.4-5 .4 12 .4-2.5.4 6 .4-6.8.4 1.6.4 .3.3-2.3.4-4.2.4 10.9.4-9.8.4-7.9.4-2 .4 15.1.4-5.6.4-.6.4-5.6.4 9.6.4 4.6.4-4.1.3-8.7.4 5.4.4 1.8.4-7.1.4-1.7.4-.2.4 18.6.4-2.9.4-9.9.4 1.4.4 5.9.4-.7.4-2.6.4-14.5.3 3 .4 5.2.4 5 .4-1.3.4-5.2.4-4.7.4 15.3.4-16.9.4 6.5.4 .2.4 1.8.4 6.3.4-23.7.3-6.2.4 22.8.4 4 .4-.9.4-1.5.4-5.4.4-1.1.4 15.3.4-19.2.4 13 .4-9.4.4 1.5.4-7 .4 4.6.3-3.1.4-6.5.4-2.5.4 .7.4 18.2.4-12.8.4 3.8.4 14 .4-6.6.4-7.2.4 9.2.4-4.3.4 2.1.4-15.5.3 17.1.4-4 .4-4.1.4-3.4.4 4.3.4-3.6.4 6.2.4 .1.4-5.9.4 13.5.4-2.7.4-14.1.4 18.8.3-14.3.4-4.9.4 10.1.4 7.6.4 2.6.4-13.4.4 6 .4-.5.4 8.4.4-2.9.4-2.6.4-.6.4-.6.4-.1.3-3.1.4-3.2.4 14.5.4-9.1.4 .7.4-4.3.4 5.4.4-6.8.4 6.9.4-4.2.4 10.3.4-22.1.4 23.1.3-8 .4-8.9.4 11.3.4-6.4.4 5 .4-4.2.4 2.7.4-1.3.4-2.1.4-1.5.4 8.5.4 1 .4 .2.4-7.8.3 3.2.4 1.1.4 0 .4-1.4.4 3.6.4-6.7.4 7 .4-10.7.4 5.4.4-1.2.4 .3.4 9.2.4-14.9.3 7 .4 1.1.4 4.4.4-9.3.4-1.3.4 3.5.4 3.7.4 2.8.4 8.3.4 .3.4-5.5.4-3 .4 3.7.4-2.3.3-4 .4-1.1.4 13.2.4-7.9.4-7.6.4 11.5.4-12.4.4 3.1.4 3.4.4-2.1.4-1.4.4-1.6.4-1.1.3-2.8.4 8.4.4 4.5.4-13.4.4 6.1.4-3.4.4-19.1.4 2.4.4-5.2.4 3 .4 4.5.4 13.1.4 3.4.4-3.8.3-9.2.4 22.7.4-23.7.4 16 .4-15.1.4 12.8.4-.7.4 3.5.4 2.2.4 1.4.4-9.8.4 11.1.4-1.3.3-9 .4 8 .4-6.8.4 6.3.4-8 .4 9.4.4 7.4.4-10.5.4 5.1.4 10.7.4 5.4.4-22.4.4 5 .4-10.8.3 4.6.4 20.5.4-12.7.4 0 .4 .5.4 9.3.4-14.3.4 3.4.4 3.3.4-2.5.4 7.6.4 6.5.4-12.4.3 4.4.4 8.1.4-8.1.4-6.7.4 10.7.4 .7.4 5.4.4-10 .4 7.2.4 1.2.4-19.4.4 11.3.4 12.5.4-16.4.3 19.8.4-15.6.4-7.2.4-6.2.4 11.1.4-3.6.4 19.5.4-24.6.4 20.2.4-7.1.4 8.1.4-14.9.4 11 .3-7.2.4 10.5.4 4.8.4-5.7.4-3.2.4 9.2.4-2.6.4-10.9.4-20.6.4 21.9.4-11.3.4 8.7.4 21.1.4-5.9.3-13.5.4 7.4.4 6.5.4-10.7.4-11.3.4 .5.4 19.7.4 .1.4-1.2.4-5.7.4-3.5.4-4.6.4-12.1.4-7.6.3-11 .4-4.8.4 10.3.4 10.4.4 15.3.4-2.6.4 9.5.4 .2.4-3.6.4 4.1.4 20.2.4-12.2.4 3.1.3-3.1.4 .3.4-5.5.4 8.7.4-8.5.4 11.6.4-14.5.4 4.4.4 3 .4 6.1.4-10.3.4 8.9.4 1.9.4 2.7.3-3.9.4 .6.4-1.5.4-7.3.4 11.3.4-6.1.4 4.7.4 9.6.4-.5.4-7.8.4-3.2.4-2.1.4-4.5.3 9.3.4 9.5.4-4.5.4-10.9.4 12.8.4-12.6.4 .9.4 12.1.4-2 .4 6.6.4-17 .4 9.5.4-.3.4-1.7.3 .9.4-10.9.4 11.8.4-5.6.4 7.1.4-6.3.4 11.1.4-2.9.4-2.1.4 1.1.4-4.1.4 11.2.4-3.7.3-2.1.4-.5.4 .2.4 1.4.4-3.5.4-5.7.4-13.5.4 13.3.4 14.9.4-10.3.4 8.8.4 5.3.4-7.3.4-2.5.3 .9.4 6.8.4-10.3.4 8.6.4 9.5.4-8.4.4-.8.4-1 .4-4.1.4-7.9.4 10.9.4-3.7.4-17.1.3-.7.4-4.3.4 4.3.4 8.1.4 .2.4 4.6.4 9 .4 8.6.4-9.1.4 14.5.4-16.3.4 3.7.4 10.6.4-14.7.3 12.8.4-.2.4 3.6.4-6 .4-.5.4-5.7.4 6.1.4-1.1.4-11.2.4 8 .4 11.7.4-6.2.4-1.4.3 4.5.4-8.7.4 13.9.4 2.4.4 6.6.4-11.4.4 7 .4-7.9.4-.6.4 1.2.4 4.9.4-3.2.4 3.7.4-4.8.3-.7.4 10.3.4-11.2.4 5.6.4 9.6.4-5.7.4 .9.4-3.6.4-1.7.4 9.8.4-5.8.4 1.5.4 3.5.3-8.1.4 5.6.4-18.7.4 26.4.4-1.8.4-13.4.4 9.6.4-.6.4-7.9.4 5.4.4-2 .4 .2.4 2.1.4 4.6.3-6.2.4 .9.4-.5.4-3.7.4 8 .4 8.4.4-3.4.4-10.6.4 7.5.4-5.3.4 8.7.4-12.9.4 14.6.3-13 .4 10 .4 3.6.4-5.4.4 6.4.4-7.6.4 8.3.4-9.3.4 2.3.4 2.6.4 8.1.4-13.2.4-.5.4 8.9.3-4.7.4-5.6.4 4.4.4 4.4.4-6.6.4-.3.4 6.9.4-.9.4-4.6.4 1.6.4 5.2.4-9.1.4-1.8.4 11.5.3-1.8.4 3 .4-4.7.4-.6.4 1.2.4-7.1.4 1.7.4 5.6.4 0 .4 .7.4-.7.4-1.5.4-4.1.3 5.2.4-.6.4-7.1.4 9.5.4-2.3.4 3.9.4-11.8.4-1.4.4 12.2.4-22.9.4-5 .4-2.3.4-1.5.4 5.3.3 9.3.4 10.1.4 5.1.4-6.8.4 12 .4 3.2.4-13.5.4 15.4.4-4.2.4 4.1.4 0 .4-.7.4 4.2.3-.5.4 4.1.4-3.4.4-7.5.4 15.2.4-8.6.4-10.5.4 12.7.4-1 .4 3.2.4 3.2.4-6.7.4-5.9.4 10.4.3-8.5.4 1.9.4 4.2.4-5.9.4-.1.4 11 .4-7.2.4 2.1.4-4 .4 1 .4-2.4.4 4 .4-1.7.3 .4.4-2.3.4 16.6.4-7.9.4-9.1.4-3.7.4 12 .4-4 .4-3 .4 6.2.4-6.3.4 13.2.4-8.8.4-5.6.3-2.4.4 18.3.4-11.7.4 1.4.4 3.6.4-5.8.4-2 .4 3.3.4 5.9.4-1.1.4-4.7.4 3.1.4 11.3.3-2.4.4-8.3.4 4.2.4-2 .4 3.5.4 10.4.4-18.4.4 8.4.4-2.2.4 1.3.4-2.2.4-5.2.4 1.7.4-8.6.3 5.8.4 4.3.4 7 .4 .3.4-5 .4-3.4.4-3 .4-9.5.4 16.6.4 2.9.4-3.7.4-5.4.4 .2.3 14.1.4-6.3.4-4.2.4 7.2.4-4.2.4-9 .4 9.8.4 .1.4 5.2.4-10 .4 7.5.4-.1.4-1.6.4-1.3.3 .3.4-.6.4 1.6.4 2.6.4-3.2.4-2.3.4 1.4.4 .6.4-.5.4 2.5.4-6.1.4 8 .4 6.9.3-4.2.4-5.6.4-3.2.4 5.1.4 0 .4 1.4.4-3.2.4-2.2.4 7.9.4-2.9.4 4.6.4-6.8.4-1.9.4 7.1.3-4.5.4 .6.4 5.1.4-3.7.4 4 .4-4.6.4 2.8.4 1 .4 1.8.4-.7.4-3.9.4 .2.4 4.2.4 .3.3-.5.4-9.1.4-1.7.4 3.9.4-6.9.4-1.7.4-2.6.4-5.5.4-2.9.4-1.7.4-.8.4 6.1.4-.2.3 8.1.4 1.3.4 8.9.4-.7.4 9.1.4-1.6.4-9.1.4 8.6.4-3.1.4 .2.4 5.9.4 4.4.4-13.2.4 .8.3 .7.4 5.7.4-4.6.4 6.3.4-13.6.4 6 .4 8 .4 1.6.4-10.4.4-1 .4 4.1.4-.4.4-.7.3-2.6.4 13.3.4-10.8.4-15.9.4-2.3.4-2.8.4-4.4.4-3.4.4 3 .4 3.5.4 3.1.4 14.2.4 4.9.4-5 .3-.6.4 9.5.4 4.3.4-1.7.4-1.6.4-1.8.4 13.9.4-8.9.4-4.6.4-.2.4 8.4.4-8.4.4 14.7.3-17.2.4 3.4.4-4.1.4 12 .4-11 .4 .3.4 9.9.4 1.9.4-8.2.4 8.9.4-2.5.4-12.3.4 10.5.4 3 .3-5.4.4-3.5.4 1.3.4-1 .4 3.5.4 5.5.4-5.3.4 .2.4 5.3.4-6.1.4 7.7.4-11.8.4 1.5.3 4.6.4 1.7.4-.9.4-.8.4-2.4.4 1.5.4 .6.4-4.4.4-11.5.4 8 .4 9.5.4-7.6.4-1.3.4-2.3.3 3 .4-3.2.4 8 .4-5.7.4-3.3.4 1.9.4 0 .4-2.1.4 2 .4 2.4.4-2.2.4-2 .4 5.3.3-1.5.4-.6.4 .9.4 15.7.4-11.2.4-3.2.4 2.4.4-3.2.4 3.4.4 .7.4 5.3.4-2.6.4-1.9.4 7.9.3-3.2.4-.5.4 1 .4-1 .4 3.8.4-5.6.4 .1.4 5 .4-10.8.4 2.4.4 9 .4 7.8.4-8.4.3 2.2.4-6.3.4 3 .4 11 .4-7.8.4 .6.4-6.3.4 9.5.4-1.5.4 1.7.4 .4.4-5.2.4-1.1.4 2.5.3 1.2.4 2.5.4-2.9.4-6 .4 14.1.4-3.7.4-8.3.4 13.1.4-12.6.4-2.1.4 2.1.4 11.5.4-5 .3-2.7.4 1.4.4 5.4.4-7 .4 4.5.4-1.5.4 0 .4 3.4.4-3.3.4 4 .4-4.2.4-5.6.4 3.3.4 4.2.3 17.9.4-21.4.4 6.4.4-7.7.4 5.4.4 2.5.4-4 .4 .1.4-2.4.4 3.1.4 .2.4 2.2.4-3.9.4-1.7.3 .8.4 .6.4 2.7.4 2.3.4-8.7.4 8.3.4-3.3.4-4.6.4 1.4.4-2.7.4-.6.4 3.9.4 3.6.3-4 .4 4.4.4-.3.4-.1.4-.2.4-.3.4-9.6.4 9 .4-8.9.4 12.4.4-10.2.4 3.5.4-1.8.4 6.2.3-6.3.4 2.8.4-2.7.4 4.3.4-8.8.4 9.6.4-2.1.4-2.8.4 2.7.4-2 .4-2 .4 2.7.4-8.3.3 9.4.4 2.3.4-4.9.4 4.3.4 2.4.4-10.7.4 14 .4-8.5.4 6.6.4-3 .4 3.8.4-5.5.4 1.7.4 3.7.3 1.9.4-3.4.4 1.9.4-7.7.4 1.6.4 3 .4 1.6.4 .8.4 2.7.4-4 .4 1.9.4 .8.4-5.1.3-8.3.4 10.2.4-.4.4 4.9.4-2.9.4 1.3.4-3.7.4-.5.4 3.3.4 3 .4-9.2.4 3.5.4-3.9.4 1 .3 5.9.4-1.2.4-3.2.4 1.7.4 4.9.4-8.3.4 6.7.4-3.4.4-9 .4 12.1.4 4 .4-9.2.4 .6.3-1.8.4 3.6.4 0 .4 4.4.4-2.3.4-2.3.4-1.2.4 5.5.4-6.6.4 1.4.4 4.1.4 .8.4-5.9.4 .7.3 11.4.4-15.4.4 7.4.4-3.8.4 10.1.4-8.9.4-.2.4 2.1.4-2.7.4 7.4.4-.7.4-1.3.4 .8.3-7.4.4 2.9.4 4.7.4-4.7.4 .3.4-3.6.4 3.2.4 .2.4 1.5.4 .5.4-2.9.4 4.9.4-2.5.4 1.2.3-1.5.4-2.6.4 3.7.4-3.1.4-.2.4-1.1.4-8 .4 16.3.4-4 .4 3.6.4-6.1.4 2.9.4-4.5.3-5 .4 11.7.4-2.5.4 3.7.4-3.9.4 3.6.4-15.4.4 15.8.4-7.9.4 3.4.4-6.9.4-.3.4 11.4.4-15.1.3 10 .4-.8.4 0 .4-6.1.4 5.3.4-5.5.4 .3.4 1 .4 6.2.4-5.1.4 .1.4 2.7.4 .8.3-7 .4 9.8.4-4.1.4-2.7.4-7.4.4 5.4.4 2 .4 1.8.4-1.7.4-2.5.4 .5.4-4.1.4 .8.4 6.9.3-4.5.4 3.3.4-.1.4 4 .4-9.4.4 2.7.4-7.8.4 3.1.4 3.2.4 7.9.4-5.9.4-6.6.4 12.4.4 2.4.3-5.4.4-2.7.4 5.6.4-12 .4 6.3.4-6.6.4 11.4.4 .1.4-2.3.4 1.2.4-6.8.4-3.5.4 .7.3 7.5.4-.4.4-14.7.4 19.7.4-4 .4-.2.4-2.1.4-1.7.4-.9.4-.9.4-1.3.4-5.4.4 6.3.4 2.8.3-6 .4 2.9.4 .6.4-2.1.4-2.4.4 2.5.4-1.6.4-6.6.4 13.7.4 8.2.4-12.7.4 5.4.4-14.5.3 4.6.4 .2.4 4.1.4-8.3.4 4.4.4-6 .4 4.2.4-9.9.4-6.5.4-7.5.4-21.1.4-36.9.4-74.4.4-98.4.3-111.5.4-66.6.4 20.1.4 76.6.4 74.1.4 25.1.4-5.9.4 16.2.4 39.5.4 48.6.4 56.7.4 33.7.4 20.9.3 32.9.4-11.8.4 1.6.4 14.7.4-13.7.4 4.2.4 8.4.4-1.7.4 1.8.4 3.5.4-13.3.4 1 .4 11.3.4-3.5.3-4.6.4-4 .4-3.5.4-7 .4-23.5.4-7.6.4-11.8.4-21.7.4-7 .4 5.8.4 6.9.4 16.6.4 9.6.3 21.4.4 10.4.4 15.2.4 8.7.4-2.1.4 3.1.4-4.3.4 14 .4-3 .4-1.4.4 7.6.4-10.4.4 .3.4-1.3.3-5.3.4 13.5.4-7 .4-3.4.4 .3.4 6.8.4 3.8.4-4.9.4-5.2.4-.2.4 7.7.4 3.3.4-5.9.3-10.2.4 13.3.4-8.3.4 7 .4 .3.4 2.9.4-9.4.4 .6.4 5.1.4 2.7.4-4.4.4-2.5.4-3.3.4-4.5.3 10.7.4-4 .4-8.6.4 19.4.4-1.2.4 6 .4-13.5.4 4.1.4-9 .4 6.6.4 .8.4 3.9.4-10 .3 10.4.4 2.5.4-.7.4-1.4.4 2.4.4-2.9.4-6 .4-4.3.4-.7.4 6.7.4-8.6.4 8.9.4 1.3.4-4.9.3 10.5.4-12.9.4 2.7.4 7.1.4-2.1.4-7.1.4 9.9.4-14.9.4 16.9.4-8.3.4-1.2.4 3.5.4 4.6.4 1.5.3-6.7.4 1.7.4 2.8.4 1.9.4-4.8.4 6.3.4-2.1.4-4.3.4 6.6.4-2.7.4 11.1.4-3.4.4-1.5.3-2.4.4 2.1.4 .4.4-8.3.4 9.7.4-9.5.4 1 .4 1.3.4 4.3.4 2.1.4 2.1.4-9.7.4 3.9.4-1.5.3 5.1.4-2.7.4 14.3.4-7.1.4-4.4.4-9 .4 8.2.4-2.9.4 4 .4-3 .4 .7.4-8 .4 6.7.3 11.1.4-8.6.4 2.4.4-1.2.4-3.5.4 8.8.4-11.4.4 13.9.4-8.5.4 0 .4-4.1.4 10.2.4-7.4.4 1.1.3 1.9.4 6.1.4-8.5.4-6.5.4 .3.4 2.8.4 4.1.4-2.5.4-.7.4 8.7.4 4.8.4-5.3.4-1.5.3-4.6.4 4.2.4 1.5.4-3 .4 1.4.4-4.1.4 7 .4-11.5.4 15.3.4-6.5.4-3.8.4 6.3.4-4.7.4-1 .3 6.5.4 1.3.4-11.5.4 5.7.4 10.1.4-11 .4-.4.4-1.3.4-7.5.4 14 .4-3.7.4 2.7.4 5.7.3-2.6.4-.4.4-17.5.4 3.5.4 14.3.4-2.4.4 2.1.4-.8.4 1.8.4 1.8.4 .1.4-6.8.4 5.8.4-8.9.3 4.5.4-5.2.4 9.2.4-3.2.4-4.2.4 1 .4 3.2.4 6 .4 .3.4-14.4.4 8.5.4 3.9.4-.4.3-.7.4-8.2.4 4 .4 6.8.4-6.5.4-1.9.4-1.5.4 7.8.4 3.1.4-2.9.4-4.6.4 6.7.4-7.7.4 1.7.3 5.1.4-.5.4-.3.4-.3.4-3.8.4 1.5.4 .9.4-3.4.4 .7.4 4.8.4-2.4.4-4 .4 1.6.3-4.1.4 1.7.4 7 .4 0 .4-1.6.4-5.5.4 4.5.4-10.8.4 13.2.4-1.3.4 1.9.4-4.9.4 11.6.4-3.4.3 2.9.4-8.1.4-.1.4 8.5.4-1.8.4-5.8.4-1.2.4-.9.4 5 .4-5.8.4 8.5.4-3.5.4 1.2.3-3.8.4 10.5.4-4.1.4-6.2.4-3.3.4 11.5.4-13.2.4 9.2.4-17.1.4 23.8.4-6.3.4-6.8.4 2.6.4 3.4.3-13 .4-3.9.4 16.2.4-2.7.4 2.3.4-1.1.4-1.2.4 4.6.4 1 .4-7.8.4 6.8.4-6.7.4-.3.4 3.9.3-5.3.4 4.5.4-6.8.4 8.1.4-1.5.4 2.1.4-3.3.4-5.1.4 5.1.4 3.7.4-2.9.4 4.1.4-11.4.3 3.2.4 3.1.4-2.4.4 5 .4-8.5.4 2 .4-4.8.4 5.6.4-1.9.4-7.8.4 4.7.4 3.5.4-7.8.4-9.5.3-9.3.4-50.6.4-49.7.4-67.7.4-48 .4-3.2.4 47.6.4 59.7.4 27.7.4 6.6.4-27.9.4-4.4.4 17.4.3 31.6.4 48.3.4 8.5.4 15 .4 7.4.4 3.6.4 6.4.4-3.1.4 .1.4 4.1.4 5 .4-8.9.4 5.5.4 4.1.3 9.1.4-14.5.4 4.6.4 2.4.4 0 .4 2.3.4-9.7.4-6.3.4 11 .4 2.5.4-9 .4 6.5.4-7.8.3 1.9.4-6.8.4 0 .4 3.7.4-8.5.4-1.4.4-6.8.4-3.3.4-2 .4 1.7.4 8.6.4 6.9.4-5.3.4-2 .3 18.9.4 .2.4 1.1.4-22.2.4 21.6.4 6.1.4-5.5.4-6.4.4 10.2.4-10.4.4 20.6.4-9.9.4-10.3.3 25.6.4-13.8.4-8.5.4 8.2.4-3 .4 2.5.4-.2.4-4 .4 8.2.4-6 .4 2.3.4-9.3.4 12.7.4-7.2.3 4.4.4 5.6.4-6.8.4 3.1.4-.8.4 .4.4-3.4.4 10.6.4-12.1.4 1.9.4-.7.4 3.3.4 7.9.3-4.1.4 2.1.4-10.8.4-9.3.4 17.6.4-5.1.4 6.2.4 4.2.4-4.2.4-7.3.4 4.4.4-5.7.4 11.7.4-3.4.3-4.5.4 .5.4-.8.4 8.3.4-13.7.4 7.2.4-3.9.4 6.4.4 1.7.4-7.6.4-2.3.4 1.9.4 6.4.3-10.1.4 7.7.4 3.7.4-5.8.4 1.5.4-6 .4 4.5.4-3 .4 3.7.4-3.5.4 2.7.4 9.4.4-7.7.4 1.2.3-1.3.4-1.5.4-2.4.4 3.5.4-2.6.4 5.5.4-3.2.4-5.3.4 6.5.4-2.4.4-1.7.4 3.6.4 .3.4-2.5.3 5.7.4 12.6.4-11 .4-3.6.4-6.5.4 2.4.4-3.5.4 3.8.4-.1.4 1.6.4 2.4.4-1 .4 8.1.3-6.1.4 9.3.4-13.9.4-2.4.4 4.3.4 5.7.4-3.6.4-4 .4-.2.4 3.9.4 6.2.4-5.5.4-.2.4-1.7.3-1.3.4 3.7.4-.8.4 1.8.4-3.6.4 3.1.4-4 .4-1 .4 13.3.4-6.6.4-1.9.4 1.6.4-4.9.3 8 .4 2.7.4-11 .4 10 .4 1.2.4-8.6.4-9.8.4 9.8.4-8.4.4 17.8.4-14.9.4 6 .4 3.8.4-7.4.3-4.7.4 13.5.4-9.8.4-1.2.4 5.9.4-1.2.4-5.4.4 4.5.4 2.6.4-.6.4 3.3.4-5 .4 5.7.3 4.7.4-.9.4-7.8.4 5 .4-1.3.4-7.7.4 3 .4 3.3.4 3.6.4-5.7.4 1.1.4-7.8.4 8.5.4-2.9.3 2.7.4 .1.4-3.2.4 12.4.4-12.4.4 12.3.4-7.4.4-8.8.4 7.1.4-1.1.4-.1.4-2.6.4 10.6.3-13.4.4 1.1.4 2.4.4 10.3.4-5.3.4-5.1.4-2.1.4 12.8.4-4.5.4-5.5.4 4.2.4 3.4.4-14.6.4 7 .3 .8.4 3.6.4-5.2.4 7.1.4-6.1.4 4.8.4-8.4.4 15.3.4-11.3.4-2.5.4-1.9.4 8.5.4 .8.3-1.7.4-5.7.4 6.4.4 6.3.4-13.3.4 6.4.4 1.1.4 6.3.4-9.4.4 7.8.4 .6.4-4.7.4 .7.4 8 .3-12.1.4 3.3.4 2.5.4-5.7.4 5.2.4-2.3.4 2.7.4-2.2.4 .1.4 6.9.4-8.1.4 .1.4 5.1.3-3.6.4-.8.4 8.9.4-6.9.4-2 .4-1.4.4 .5.4 1.3.4 3.1.4 4.6.4-5.6.4-2.4.4-2.4.4 5.2.3-1.5.4 4.5.4-3.3.4 1.9.4-.2.4 .5.4-1.2.4 6.2.4-10.1.4 5.3.4-2 .4-2.6.4 1.1.3 4.9.4-7.1.4 0 .4 1.8.4 .6.4-3 .4 7 .4-3.4.4-3.4.4 3.6.4 8.6.4-5.1.4-2.1.4 .2.3 2.7.4-8.5.4 9.9.4-8.1.4 3.6.4-1.9.4 4.5.4-3.6.4 .3.4 1.3.4-2.4.4 .6.4-1 .4 2.8.3-.3.4-4.3.4 3.4.4 9.4.4-7.4.4-3.5.4-1.1.4 2 .4 3.1.4-11.2.4 8.2.4-1.2.4 6.2.3-5.4.4 4.4.4-10.4.4 2.7.4 6.7.4-5.5.4 3.9.4-.6.4-4.4.4 2 .4 4.2.4-2.3.4-5.2.4 1.7.3 .5.4 1.1.4 4.1.4-9.1.4 3.5.4 5.3.4-4.3.4 .3.4-3 .4-.9.4 9.3.4-2 .4-2 .3-1.3.4-.8.4 4.6.4-4.3.4 0 .4-6.2.4 8.2.4-4.4.4 4.9.4-3.4.4 1.9.4 5.2.4-8.8.4 2.9.3-4 .4 4.9.4 .4.4-3.4.4 .6.4 9.2.4-7.7.4 3.2.4 2.2.4 1 .4-5.6.4-2.4.4 7.1.3 1 .4-6.7.4 9.7.4-7.6.4 5.5.4-.9.4-9.4.4 8.8.4-3.6.4-4.5.4 6.1.4-2.8.4-5.4.4 10 .3-1.1.4-3.9.4 3 .4-5.3.4 7.3.4-7.8.4 2.5.4 .8.4 4.4.4 2.7.4-9.4.4 7.5.4-1.6.3 3.8.4-3.4.4-5.3.4 3 .4-6 .4 9.7.4 .4.4 .6.4-3.2.4 .3.4-5.6.4 6.5.4-5.8.4 5.9.3-1.8.4 1.8.4-10.2.4 8.3.4-6.2.4 8.8.4-3.3.4-2.2.4 2.5.4-.2.4-.7.4-4.2.4 2.7.3-3.2.4 1.8.4-5.7.4 11.8.4 .5.4-1.3.4-3.4.4-.6.4 2 .4 2.2.4-3 .4-2.7.4-2.7.4 7.9.3 .4.4-2.6.4-2.9.4 8.4.4-1.3.4 .6.4 .1.4-2.7.4-3.9.4 1.9.4 2 .4 3.3.4-4.3.3 4.7.4-4.7.4 3.9.4 .2.4 1.3.4-7.9.4 4.3.4-.9.4-2.5.4 11 .4-5.7.4 2.6.4-7.1.4 2.1.3 .2.4 2.3.4 .6.4 3.3.4-6.2.4 4.3.4-2.3.4 .5.4-.9.4-2.4.4 5.5.4-7.2.4 3.9.3-4.3.4 6.2.4-4.7.4-3.6.4 5.1.4-5.1.4 5.5.4 .5.4-1.8.4-4.7.4 9.4.4-11.2.4 4.3.4-3.3.3 1.7.4 3.5.4 5.7.4-5.9.4 .3.4 1.2.4 5.3.4-6.7.4-3.3.4 4.7.4-.2.4 2.6.4-2.7.4-1.8.3 6.5.4-5.2.4-4.6.4 6.1.4 .8.4 .7.4 .7.4-1.5.4-.5.4 3.7.4-7.8.4 7.2.4 2.5.3-4.2.4 .6.4-1.7.4 4.8.4-3.6.4-.8.4 1.3.4-3.3.4 6.1.4 .9.4-3.5.4-4.1.4 5 .4-1.3.3 6.1.4-4.9.4 1.4.4-4.3.4 3 .4 .8.4-1.2.4 3.5.4-4 .4-2.3.4-.1.4 3.8.4-.4.3 2.2.4-2.6.4-.3.4 .9.4 1.6.4 1.7.4-5.1.4 3.5.4-1.7.4-1.7.4 1.2.4-1.4.4 2.9.4 .5.3 1.6.4-1.5.4-2.8.4 6.1.4-2.2.4-.1.4-3.4.4 1.3.4 .4.4-2.6.4-1.8.4 4.9.4-.7.3-6.1.4 7.2.4 5.1.4-3.9.4-.5.4 0 .4 2.1.4-2.3.4 1.9.4-1.2.4-.6.4 1 .4-4.5.4-2.2.3 4.1.4 .9.4-1.3.4 1 .4 1.5.4 3 .4-2.5.4-5.5.4 2.8.4 5.3.4-9.1.4 4.2.4 5.3.3-2.9.4-1.5.4 .6.4-5.7.4-3.2.4 9.6.4-4.1.4-2.9.4 .6.4 4.4.4-.3.4-1.8.4 5.2.4-.2.3 1.6.4-1.7.4-.4.4 2.1.4-8.3.4 2 .4 2.9.4-3.9.4 2.3.4-.5.4 1.3.4-4.9.4 2.7.3 2.1.4-5 .4 3.2.4-3.4.4 7.4.4-4.8.4 5.4.4-5.4.4 2.9.4-3.5.4 .6.4-5.5.4 11 .4-3.8.3-3.6.4-3.2.4 3.1.4 3.8.4-2.7.4-6.8.4 7 .4 .8.4 3.5.4-1.7.4-.6.4 1.7.4-3.3.3 4.6.4-.5.4-17.4.4 9.2.4 12 .4-9.7.4-1.5.4 6.2.4-1.5.4-2.5.4 10.8.4-13.6.4 3.9.4 4.8.3-2.2.4-.5.4 2.8.4-4.3.4 5.7.4-4.8.4 2.6.4 3.5.4-5.9.4 7.7.4-3.5.4 3.8.4-7.2.4 .9.3-5.9.4 7.1.4 .3.4-1 .4 2.4.4 5.8.4-3.1.4-2.1.4-3.6.4-5.1.4 14.6.4-20.4.4 17.5.3 1.7.4-10.2.4 .8.4-.7.4-1.4.4 7.1.4-1.3.4 .4.4 .7.4 .6.4 .1.4 1.8.4-4.3.4 3.4.3 0 .4-8.8.4 8.8.4 8.7.4-12.5.4 2.9.4-4.7.4 2.3.4 .7.4-5.9.4 5.3.4 5.3.4 .5.3 2 .4-11.9.4 3.6.4 9.4.4-14.4.4 12.3.4-18.7.4 8.4.4 8.9.4-11.8.4 5.4.4 8.7.4-5.3.4-1 .3-6.6.4 7.5.4-3.4.4 .1.4 7.4.4 8.3.4-9 .4 6.5.4-15.8.4-1 .4 7.7.4 3.7.4-7.6.3 11.7.4-2.3.4-8.4.4 3.9.4 3.6.4-5.4.4 1.8.4-2.9.4 .3.4 2 .4-6.5.4 5.9.4 6.2.4-9.3.3 10.3.4-7 .4-6.4.4 8 .4-3.8.4 4.1.4-9.6.4 12.4.4-5.6.4 3.6.4-1.1.4-3.6.4 1.7.3-.3.4-4 .4 5.1.4 2.7.4-5.4.4-1.3.4 3.2.4-7.3.4-.2.4 9 .4-6.1.4 .4.4 7.4.4-.1.3-3.7.4-6.1.4 4.2.4-1.7.4 5.2.4-3 .4-7.1.4 4.1.4 8.3.4 .3.4-10.4.4 8.8.4-3.2.3 .8.4-4.8.4 11 .4-3.1.4-5.9.4-10.2.4 15.4.4-6.1.4 1.3.4 3.5.4-2.7.4-2.4.4 4.2.4 3.2.3-7.4.4 1.3.4-4 .4 4.9.4-2.2.4 3.3.4 2.3.4 2.2.4-5.8.4-2.4.4 7.4.4-3.8.4 1.2.3-3.5.4 4.4.4-2.3.4-1.8.4-.8.4 10.8.4-3.7.4 1.5.4-8.8.4 6.3.4 4.5.4-11.9.4 1.2.4 6.8.3 1.8.4-4.9.4 6.9.4 2.8.4-9.1.4 .7.4 1.3.4-4.1.4 2.2.4 2.3.4 2.6.4 3.1.4-3.9.3 3.8.4 2.3.4-1.3.4-5.2.4-1.2.4-.3.4 2.3.4 4.8.4-7.1.4-6.5.4 11.2.4-8.9.4 8.3.4-3.5.3 7.2.4-15 .4 7.8.4-3.2.4 9.3.4-7.1.4-2 .4 8.1.4-7.2.4 7 .4-9.2.4 10 .4-.3.4 1.6.3-8.1.4 5.2.4-.7.4-8.1.4 5.3.4-2.2.4 .8.4 5.1.4-4 .4 5.7.4-8.2.4-4.2.4 5.1.3-2.2.4 3.1.4 .4.4 1.5.4-4.6.4 6.5.4 3.4.4-.6.4-8.3.4 3.4.4-4.3.4 5.2.4-7.9.4 10.6.3-6.1.4 .7.4 7.4.4 .6.4-5 .4 8.3.4-10.8.4 3.9.4-1.3.4 .8.4 3.7.4-11.8.4 4.7.3 5.6.4-4 .4 4.9.4-2.3.4-.3.4-6.5.4 14.5.4 .2.4-5.4.4-7.8.4-3.7.4 3.5.4 2.5.4 6.1.3-1.5.4 2.9.4-6.6.4-2.8.4 2.1.4-1 .4 1.4.4 2 .4-1.8.4 3 .4-4.7.4 8 .4-1.8.3-2 .4 .1.4-5.1.4 5.3.4 4.6.4 2.7.4-12.7.4 3.6.4-2.1.4 1.2.4 12.3.4-6.9.4-9.2.4 4.5.3-2.7.4-.3.4 .8.4 10 .4-6.6.4-1.5.4-5.5.4 11 .4 2.8.4-4.2.4-.1.4-4.1.4 1 .3-3.3.4 1.8.4 8 .4-3.1.4 2.2.4-3.2.4-6.4.4 2.9.4 8.6.4-3.8.4 .1.4-7.4.4 14.2.4-14.3.3 6.1.4-5.4.4-.4.4 9.5.4-4.2.4 3.9.4-4.1.4-1.2.4 7.7.4-5.1.4-2.3.4-4.2.4 2.4.3-1.2.4 6.7.4-2.8.4 2.5.4 2.7.4-5.3.4-.9.4 4 .4 3.9.4-6.7.4 2.8.4-.9.4 4.5.4-7.2.3 6.4.4-1 .4-4.9.4 .1.4 .3.4-4.9.4 3 .4 .1.4 1.1.4 4.2.4-2.7.4-.8.4-.9.3-1.7.4 8.9.4-12.2.4 1 .4-1.5.4 2.5.4 5 .4-9.1.4 5.1.4-1.9.4 1.3.4-3.3.4 5.6.4-5.7.3 1.6.4 .1.4 1.2.4 1.4.4 3.5.4-7.6.4 1.4.4 6.3.4-5.9.4 .3.4-1.8.4 8.4.4-6.9.3-1.6.4 .7.4 5.3.4-1.7.4-4.5.4 4.7.4-2.1.4 3.7.4-.1.4-.1.4 2.9.4-3.2.4-1.4.4 1.3.3 4.3.4-6.8.4 4.9.4-5.3.4 13.2.4-12.7.4 3.5.4 .8.4-4.4.4 .6.4-4.2.4 13.5.4-3 .4-.4.3-.2.4 5.8.4-16.4.4 4.6.4 4.4.4 .1.4-3.6.4-.2.4-4.7.4 2.9.4 7.1.4-3.1.4-8.3.3 9.5.4-.7.4-1.9.4-4.2.4 3.9.4 .1.4 4.5.4-7.5.4-8.5.4 11.7.4 6.6.4-7.8.4 1.1.4 .5.3-8.2.4 6.3.4-2.9.4 5.3.4 1.2.4-2.8.4-1.8.4 .6.4 2.3.4-2.1.4 4.7.4-5 .4 6 .3-4.4.4 2.2.4-6.1.4 3.3.4-8.3.4 4.1.4-6.1.4-.5.4 .4.4-30.5.4-28.7.4-26.8.4-15.4.4 13.2.3 22.5.4 31.3.4 8.8.4 18.6.4 2.1.4 .2.4-8.5.4-24.2.4-7.1.4-4.9.4 15.5.4 19.9.4 6.2.3 6.5.4 9.9.4 .1.4 4.9.4-.7.4-3 .4 5.1.4 3.4.4-5.5.4 9.8.4-9.1.4 4.6.4-3.9.4 7.4.3-3.4.4-5.6.4 3.4.4 6.8.4-13.3.4 9 .4-6.5.4-1.2.4-9 .4 18.8.4-8.2.4-5.4.4 5.4.3 11.9.4-7.1.4-4.8.4 2 .4-.3.4-2 .4 7.1.4-2.3.4-2.9.4-4 .4 6.1.4-5.1.4 5.9.4-5.2.3 7.9.4-10.6.4 1.2.4 5.1.4-4.4.4 4.6.4-1.7.4 5 .4-10.2.4 11.9.4-21.8.4 20.3.4-1.7.3-14.7.4 10.9.4 7.1.4-12.7.4 4.3.4-3.2.4 5.4.4 5.3.4-6.4.4 6.1.4-1.7.4-8.2.4 4.2.4-3.4.3 3.9.4-6.1.4-1.1.4 10.2.4-.7.4-4.8.4 5.7.4-9.9.4 5.2.4 .7.4 5.1.4-5.7.4-1 .3 .4.4-4.1.4 7.8.4 1.4.4 1.4.4-5.1.4 2.5.4 2.7.4 2.1.4-2.6.4-2 .4 5.4.4-1.9.4-7.2.3 4.5.4-2 .4 8.2.4-7.9.4 2.1.4-1.1.4-.1.4 1.8.4 1 .4-3.6.4-.1.4-1.7.4 6 .4-3 .3-.8.4 4 .4-.8.4 4.4.4-3.7.4-8.7.4 10.9.4-3.3.4-3.5.4 .8.4 5.3.4-16.3.4 14.1.3-3.6.4 1.8.4-7.5.4 7.8.4-.3.4 9.3.4-9.4.4-.4.4-.1.4-2.5.4 5.1.4-7 .4 6.5.4-3.6.3 .4.4-1.8.4-.2.4 9.9.4-.4.4-1.8.4-6.4.4 1.5.4-2 .4 .4.4 4.6.4-1.5.4-4.1.3 2.2.4-2.7.4 .1.4 4.4.4 1.6.4-2.6.4 1.1.4 .8.4 5.6.4-10.5.4 4 .4-.4.4 1.3.4 1.5.3-4.2.4 5.1.4-6.5.4 2.8.4 12.5.4-12.9.4 1.7.4 .6.4-1.5.4 13 .4-10.2.4-5.1.4 4.1.3-.6.4-3.9.4 3.1.4-1.4.4-1.3.4 4 .4-1.7.4 2 .4 .8.4-7.7.4-.3.4 1.4.4 2.3.4-1.8.3 4.6.4-2 .4-.2.4 2 .4-2.5.4 1.4.4 4.6.4-7.9.4 5.6.4-1.7.4-2.8.4 1.7.4-2.7.3 6.9.4-3.2.4-1.5.4 2.5.4-1.9.4 2 .4-4.3.4 5.1.4-7.8.4 2.8.4-.5.4 .1.4 3 .4 1.4.3-1.7.4-1.7.4 4.1.4-10.4.4 11.9.4-3.9.4-.2.4 2.2.4-2.4.4 .3.4-.9.4 2.2.4-2.5.3 1.5.4 .4.4 .2.4 2.1.4-1.5.4-2.2.4 1.8.4-1.5.4 1.7.4-1.4.4 1.6.4 1.5.4-.2.4 1.4.3-1.9.4-.8.4 .8.4-3.5.4 1.8.4 2 .4 .4.4-2.9.4 .6.4 3.2.4-2.6.4 2.9.4-3.2.3 2 .4 1.3.4-3.1.4 1.2.4 2.6.4 1 .4-1.8.4-3.4.4 4.4.4-7.1.4 4.5.4-.9.4 4.4.4-7.7.3 6.1.4 3.7.4-4.6.4-1.8.4 6.5.4-3.4.4 1.3.4-2.6.4-2.1.4 3.8.4 .7.4-4.4.4 1.1.3 1.2.4-.3.4-2.8.4 .1.4-1 .4-3.2.4 6.2.4-1.8.4 1.4.4 7.2.4-6.2.4-1 .4 1.9.4-3 .3-2.3.4 15.1.4-15.4.4-.1.4 7.8.4-9.5.4 10 .4-2 .4-4.8.4 6.1.4-3.8.4-.9.4-1.2.4-5.1.3 3.2.4 6.7.4-1.4.4 2.1.4-3.6.4 .9.4 4.8.4-.7.4-1.3.4 3 .4-4.1.4 2.2.4-10.2.3 7.1.4 .5.4-2.5.4 6.9.4-11.8.4 7.1.4 5.4.4-13.8.4 1.3.4-1.1.4 12.7.4-7.7.4 2.2.4-.8.3-1.2.4 3.6.4 2.1.4 .3.4 .5.4-7.9.4 3.6.4 4.1.4-.3.4-2.2.4-2.5.4-.8.4 6.4.3 .5.4-6.9.4 8.9.4-7.9.4 2.9.4-3 .4-.3.4 2.9.4 .9.4-2.1.4 1.6.4 1.7.4-3.3.4 1.9.3 .6.4 3.3.4-4 .4 3.9.4-4.7.4 2.8.4-3 .4 1.3.4-.6.4 .4.4 2.7.4-5.4.4 2.2.3 1.7.4-2.9.4 2.4.4-.9.4-.6.4 .5.4 3.1.4-.5.4-5 .4 1.8.4 1 .4-1.4.4 2.3.4 1.6.3-2.4.4 .4.4-2.8.4 1.3.4-1.9.4 5.8.4-.3.4-.1.4 .1.4-3.1.4 .6.4-2.1.4 3.6.3 .8.4-6.2.4 4.6.4 2.5.4-1.7.4 .6.4-4.1.4 .7.4 2 .4 .4.4-1 .4-1.5.4 5.6.4-3.7.3 2.4.4-4.4.4 6.6.4-7.5.4 7.7.4-4.2.4 5.7.4-6.6.4 3.5.4-1.4.4 0 .4 .5.4-2.5.3-1.4.4 5.3.4-3.5.4 .9.4 2 .4 .3.4-2 .4-.1.4-2.7.4-3.4.4 13.4.4-9.2.4 .7.4-3.4.3 2.4.4 1.7.4 1.6.4-1.7.4-2.7.4 7.6.4-5.5.4 .2.4-3 .4-1 .4 5 .4-3.2.4-.6.3 1.3.4 .1.4 1 .4-.8.4 2.1.4-1.3.4-.3.4 .9.4-.4.4 0 .4 .6.4 1.6.4-5.8.4 5.7.3-1.8.4-.2.4-2.1.4 3.2.4-3.3.4 3.5.4-1.2.4 .9.4 .1.4 .2.4 5 .4-4.8.4-1.4.3-1.1.4 4.2.4-3 .4 3.4.4-2.3.4-2 .4-2.5.4 9.5.4-6.9.4 1 .4-6.4.4 7.1.4 .9.4-.4.3 5.6.4-5.7.4 1.4.4 4.3.4 1.4.4-6.2.4 .3.4-3.6.4 11.5.4-4 .4 .2.4-5.1.4 1.1.4-2.1.3 2.3.4-1 .4 .7.4-.4.4-.3.4 3.7.4-4 .4-.3.4 .5.4 1.4.4-6.5.4 8.8.4-2.4.3-1.4.4 .8.4 2.3.4-1 .4 0 .4 1.1.4-1.9.4 5.4.4-8.1.4 2.6.4 3.3.4-4.1.4 3.4.4 1.1.3-.3.4-.4.4-4.7.4 .8.4 3.2.4-.1.4-.6.4 2.3.4-4.6.4-1.9.4 3.3.4 4.9.4-2.9.3 1.9.4-3.1.4 .8.4-.2.4-2.6.4 3.8.4-5.7.4 2.8.4 5.2.4-9.3.4 8.2.4-1.8.4-1 .4 3.8.3-6.2.4-.8.4-5 .4 2.3.4 3.3.4 3.8.4-.7.4 2.1.4 6.2.4-7.3.4-3.5.4-.3.4 4.1.3 1 .4 3 .4-9 .4 7 .4-2.9.4-.8.4-.5.4 4.2.4-2.1.4 1.7.4 .6.4-6.2.4 4.6.4 3.5.3-8.3.4 4 .4-.3.4 .9.4-2.7.4 4.5.4-3 .4 0 .4-.3.4 1.9.4-2.5.4-.4.4 .2.3-5 .4 2.8.4 .8.4 .5.4 2.9.4-.8.4-1.6.4 4.1.4-3.3.4-1 .4 4.2.4-3 .4-3.4.4 3 .3 2.2.4-.9.4-.1.4 .2.4 2 .4-4.8.4 3.7.4 .2.4-1.1.4-1 .4-.5.4-2.6.4 1.9.3 .3.4 5.1.4-4.6.4 4 .4-3.1.4-.1.4 .1.4-2.1.4 3.5.4 1.5.4-1.9.4 1.1.4-2.4.4-2.6.3 6.5.4-7.2.4 5 .4 .2.4-3.4.4 .5.4 3.6.4 2 .4-3.3.4-2.4.4 .7.4 1.9.4-6.1.3 6.5.4 1.3.4-3 .4 3 .4-5.6.4 2.1.4 3.1.4 0 .4-1.6.4-.5.4-2.9.4-.6.4 .5.4 2 .3 1.8.4-4.6.4 6.7.4-3.6.4 .9.4 3.8.4-6.1.4-2 .4-.3.4 6 .4-5.1.4 .8.4-.7.4 2.8.3 1.4.4-.6.4-.1.4 0 .4 3.5.4-3.1.4-1.3.4 1.3.4-2.9.4 2.9.4 .5.4 1.8.4-2 .3 .1.4 .1.4 1.8.4-4.7.4-.8.4 7.4.4-1.2.4-.1.4-1.4.4 .6.4-3.1.4-.7.4 3 .4 .9.3-.5.4-3.7.4 6 .4-2.1.4 .3.4-1.3.4 4.5.4-4.6.4-4.2.4 6.2.4-.8.4-4.8.4-.5.3-2.2.4 5.2.4-1.5.4 2.3.4 2.4.4-4.7.4-3.3.4 6.8.4-5 .4 4.9.4-2.6.4-3.8.4 5.5.4-7.2.3 8.7.4-20.5.4 18.6.4-1.8.4-5.2.4 7.7.4-5.4.4 6.7.4-2 .4-3.6.4 5.7.4-4.3.4-5.9.3 1.8.4 2.8.4-3.5.4 6.6.4-2.6.4 1.8.4-2.8.4-2.2.4 5.3.4-5.5.4 1.7.4 1 .4-.7.4-31.1.3-7 .4-6 .4-7 .4-12 .4-13 .4-7 .4-5"/>
<path class="c" stroke="#b274de" stroke-width="2.0" d="M257.8 71l.4 5.3.4-1.2.4 6.7.4 3.6.4 4.1.4 27.4.3-24.3.4 3.3.4 1.5.4 19.8.4-12.8.4 6.7.4 13.6.4 1.7.4-16 .4 49.1.4-29.6.4 10.2.4-3.9.4 17.6.3-19.5.4-.3.4 13.6.4 12.8.4-12.6.4 11.9.4 9 .4-41.3.4 43.2.4-.7.4-15.4.4 6.2.4-2.7.3 15.2.4-13.5.4 14.7.4 9.3.4-30.9.4 24.2.4-3.6.4-2.7.4 11.4.4-4.2.4-12.9.4 11.3.4 7.6.4-5.8.3-4.4.4 40.4.4-8.7.4 .1.4-10.3.4-20.2.4 19.7.4 10 .4-8.1.4 .5.4 11.2.4 19.7.4-15.9.3 .3.4-6.2.4 24.4.4-9.4.4-1.4.4-.4.4-.4.4 10 .4 19.8.4-17.3.4 6.5.4-10.8.4 11.9.4-15 .3 29.1.4-17.3.4 16.8.4-7.5.4 13.8.4-6.5.4 1.7.4-19.7.4-.7.4 7.7.4 1.9.4 2.3.4 24.8.3-15 .4 1.8.4-7.4.4 1.1.4-2.6.4 23.6.4-6.5.4 5.7.4-3.1.4-9.3.4 9 .4-17.7.4 27.3.4-5 .3 3 .4 .1.4 5.8.4-6.5.4 3.5.4-5.3.4 5.1.4 6.1.4 6.3.4-10.5.4-8.2.4-3.3.4 15.2.4-3.4.3 12.6.4 9.9.4-20.6.4 19.3.4-.1.4-18.7.4 5.2.4 11 .4-18.5.4 4.6.4 16.2.4-11.3.4 .1.3 11.8.4-4 .4 1.7.4 10.9.4 8.9.4-34.5.4 23.1.4-7.3.4 3.3.4 4.7.4 8.9.4-8 .4-7.2.4 5.2.3-16.1.4 18 .4-2.1.4-11.5.4-1.4.4 1.2.4 4.8.4 12.5.4-5.6.4-3.8.4 4.2.4 13.7.4-12.5.3-3.6.4 26.2.4-24.9.4 12 .4 4.2.4-5.4.4-3.5.4 14.5.4-8.7.4 5.1.4-4.9.4 15 .4-20.4.4-9.8.3 11.9.4 6.4.4 .2.4 4 .4-9.5.4 14 .4-14.6.4 2.1.4 8.7.4-2.8.4-.2.4 2.6.4-.4.3 8.7.4 4.2.4 4.9.4-8.1.4-6.1.4-2.4.4 .6.4-3.2.4 21.2.4 5.3.4-13.4.4 3.2.4-18.1.4 16.8.3-3.7.4 5.8.4-10.7.4 5.8.4-.4.4 2.2.4 20.4.4-9.5.4-15.3.4 9.6.4-.5.4 18.4.4-28 .3 18.4.4 1.9.4 10.3.4-2.8.4-14 .4-9.5.4 4.9.4 2.9.4 3.9.4-3 .4-4.5.4 19 .4-7.2.4-3.5.3-.2.4-.7.4-2.6.4 27.2.4-21.2.4-1.6.4 16.5.4-13.8.4 7.6.4-11.8.4 2.8.4-8.4.4 18.2.3 12.8.4-13.6.4 1.2.4 6.8.4 .3.4-15.8.4 1.3.4 3.7.4 13.1.4-19.2.4 5.3.4 2.9.4 2.4.4 1.9.3-4.4.4 13.3.4-15.7.4 23.2.4-14.9.4 4.3.4-15.5.4 13.2.4-12.6.4-1.6.4 18.9.4-6.3.4-9.3.3-7.1.4 28.3.4-10.6.4 6.8.4 1.6.4 2 .4-28.7.4-8.2.4 33.5.4-21.6.4 26.1.4-5.9.4-3.4.4-.2.3-13.1.4 13.3.4-.5.4 5.2.4 14.3.4-21.8.4 10.9.4 10.2.4-22.1.4-1.1.4 .9.4-11.9.4 4.3.4 20.9.3 19 .4-18.7.4-10.2.4-.2.4 8.1.4-8.9.4 5.6.4-3.2.4 13.6.4-2.3.4-4.2.4-11.6.4 2.2.3 15.6.4 9.9.4-21 .4 28.9.4-27.4.4 .3.4 6.9.4-8.9.4 6.5.4 1 .4-4.9.4 1.8.4 7.7.4 6.5.3 9.2.4-18.4.4-14.5.4 9.2.4-10.3.4 15.4.4-6.7.4 9.3.4-5.1.4 2.5.4-3.4.4 17.4.4-29.7.3 26.1.4 .7.4-4.7.4-2.8.4 1.6.4-7.2.4-5.4.4 16.5.4-.4.4 1.7.4-9 .4 18 .4-11 .4 10.8.3-15.9.4-32.4.4 16.5.4 19.5.4-15 .4 17.9.4-12 .4 7.4.4 1.5.4-9.6.4 10.6.4 6.5.4-14.1.3 1.9.4-2.2.4 10.4.4 3 .4-13.5.4 2.1.4 10.3.4-6.2.4 13.6.4-14.4.4-4.8.4-4.7.4 4.8.4-8.8.3 16.5.4 11.8.4-26.6.4 1.5.4 2.1.4 8 .4-12.8.4 21.3.4 1.8.4-18.6.4 6.5.4-1.9.4 15.3.3 5.5.4-22.5.4 4.4.4-5 .4 12.9.4-.1.4-9.9.4 4.6.4 19.9.4-1.1.4-23.5.4 7.3.4-3.1.4 6.7.3-12.3.4 13.5.4 3.9.4 1.8.4-21.4.4 26.4.4-21.9.4-3.6.4 20.4.4-1.9.4-7.3.4 7.6.4-1.6.3-2.7.4-11.1.4 4.1.4 4.5.4 9.5.4 2.9.4-13.2.4-3.6.4-5.9.4 17.9.4-12.1.4 22 .4-15.2.4 1.2.3 2.8.4-5.3.4-12 .4 13.1.4 2.5.4-7.1.4 2.3.4 1.5.4-14.3.4 8.6.4 5.2.4-7.9.4 13.1.3 .4.4-21.8.4 13.1.4 8.2.4-6 .4 6.7.4 .9.4-17.1.4 14.3.4-9.1.4-11.4.4 22.8.4-10.3.4 5.2.3 6.7.4 2.7.4-10.2.4-5.3.4 2.3.4 14.1.4-11.5.4 17.3.4-1.8.4-18 .4 20.2.4-19.4.4 3.7.3 .6.4-8 .4 9.3.4 4.3.4 13.8.4-7.7.4-15.8.4 7.2.4 6.8.4-10.4.4-5.7.4 5.7.4-8.4.4 10.9.3-6 .4 13.8.4-11.5.4-8.2.4 15.7.4-7.9.4-5.3.4 9.6.4-8.8.4-7.5.4 4.2.4 18.1.4 2.8.4-15.3.3 6.3.4-16.8.4 20.5.4-8 .4 5.7.4-7 .4 2 .4-12.7.4 16.2.4-7.6.4 6.4.4 10.4.4-32 .3 27.1.4-5.2.4-.4.4 4.2.4-10.1.4-11.2.4 9.6.4 1.8.4-15.2.4 21.8.4-.3.4-12.8.4 9.3.4-.1.3-.3.4-.4.4 8 .4-6.2.4 24.6.4-24.5.4 8.1.4 .7.4-21.6.4 13.8.4 1.1.4 .9.4-.8.3 5.7.4-2.5.4-8.3.4 10.7.4-10.2.4 5.9.4-8.5.4-5.7.4 1.6.4 19.2.4-5.2.4-10.4.4 10.1.4-12.3.3 1.1.4-7 .4 10 .4 9.7.4 11.5.4-23 .4 6.9.4 1 .4 8.4.4-16.2.4-3.3.4 14.9.4-23.7.3 23.6.4-9.9.4 4.1.4 3.3.4-16.5.4 41.3.4-38.3.4 1.8.4 12.5.4-27 .4 16.6.4 8.3.4-4.5.4 1.8.3-1.8.4 .4.4-.8.4 17.3.4-9.9.4-12.4.4 2.7.4 11.6.4 3.6.4-20 .4 9.2.4-17.1.4 13 .3 17.2.4-7.5.4-7.7.4-6 .4 8 .4-.7.4 2.7.4 3.6.4-5.1.4-13.2.4 8 .4 1.8.4-5.1.4 17.8.3-17.5.4 11.3.4-1 .4-1.1.4-1.3.4-5.8.4 6.8.4 5.3.4-13.1.4 16.3.4-13.6.4 10.5.4-7.9.3 12.8.4-.3.4 .3.4 2.9.4-15.6.4-19.1.4 10.5.4 2.1.4 13.7.4 0 .4-12.7.4 10.7.4-7.6.4-.5.3 4.8.4-10 .4 13.5.4-1.2.4 7.1.4-5 .4-3.2.4 4.9.4-7.8.4 1.7.4-8 .4 3 .4 3.9.3 6.1.4 3.3.4 .1.4-11.7.4 2.1.4-4.8.4-4.1.4 14.4.4-13.5.4 12.1.4-7.3.4 2 .4 7.4.4-11.3.3 8.4.4-8.8.4 5 .4-.6.4 1.7.4-8.7.4 6 .4 3.9.4-7 .4 8.2.4-.5.4-3.7.4-2.4.3 4 .4-6 .4 7.5.4-2.3.4 8 .4-9.3.4-6 .4 8.7.4-4.6.4 12.1.4-16.4.4-2.4.4 4.7.4 2.2.3 2.7.4 16 .4-17.9.4 10.5.4-13.6.4 .1.4 3.4.4 20.1.4-17.5.4 1 .4-6.9.4 2.9.4 17.7.4-25.5.3-6.7.4 13.6.4-6.3.4-2.6.4-5.8.4 18.6.4-3.2.4-2.2.4 8.8.4 6.9.4-12.2.4 5.6.4-17.6.3 13.7.4-10.7.4 6.9.4 11.9.4-11.6.4 14.9.4-5 .4-3.3.4-15.1.4 9.4.4 3 .4 3.3.4-7.9.4-10 .3 17.7.4-18.6.4 6 .4-9.7.4 15.5.4 6 .4 5.8.4-19.8.4 11.6.4-1.3.4 1.6.4 2.8.4-3.8.3 10.2.4-21.5.4 12.1.4-1.5.4-11.3.4 10.8.4-3 .4-5.9.4 11.4.4-5.2.4 8.5.4-10.1.4 13.3.4-7.2.3-.7.4 5.1.4 8 .4-15.8.4 1.5.4-1.6.4 2.5.4-16.2.4 34.9.4-8.2.4 6.9.4-19.3.4-12.7.3 4.2.4 8.6.4-4.4.4-8.4.4 7.3.4-8.1.4 1.9.4 11.8.4-13.3.4 1.8.4 3 .4-3.5.4 13.5.4 3.1.3-1.2.4-9.2.4 0 .4 17.1.4-12.6.4-8.6.4 14.2.4-14.6.4 19.3.4 1.7.4-7.5.4-46.6.4 43.1.3 3 .4-2.8.4 16.7.4-24.6.4 1.6.4 11.9.4-7.7.4 7.8.4-8.1.4-4.7.4-3.6.4 6.5.4-2 .4 9.6.3-3.5.4-27.5.4 31.9.4-10.7.4-6.1.4 24.4.4-16.3.4 1.6.4 3.3.4-13.2.4 9.7.4 .9.4-6.4.3 6.7.4 3.1.4-3.7.4-17.5.4 12.5.4 5 .4 8.9.4-6.6.4-2.3.4-12.2.4 13.1.4 13.2.4-18.4.4-3.6.3 3.6.4 3.4.4-8.4.4 3.7.4-9.3.4 5.4.4 1.7.4-4.1.4-4.2.4 20.3.4-12.8.4 5.2.4-17.4.3 9.4.4-1.4.4 17.5.4-9.2.4-7.3.4 9.1.4-7.4.4 2.3.4-15.7.4-5.1.4 16.2.4 .7.4 .1.4 10.4.3-12.4.4 2 .4-4.3.4-9.7.4 4.5.4 3.2.4 3.9.4 12.9.4-9 .4-4.2.4-22.7.4 29.2.4-11.5.4-12.1.3 20.1.4-.3.4 1.8.4-1.4.4-8 .4 4.4.4-5.8.4 5.7.4 4.1.4 3.3.4-17.1.4 22 .4-12.5.3-15 .4 26.4.4-3 .4 3 .4-10.7.4-1.8.4-3.1.4 10.6.4 1 .4 4.2.4-4.3.4-11.4.4 6.9.4 3.1.3-5.5.4 13.9.4-29.2.4 19.1.4-7 .4 3.8.4-.1.4-1.7.4 2.3.4-1.9.4-9.5.4 15.2.4-.4.3-13.2.4 12.3.4-3.7.4 5.6.4-5.6.4-6.6.4 9.1.4-16.1.4 33.9.4-27 .4 .6.4 10.6.4-5.4.4 6.4.3 8.4.4-9.1.4-6.6.4-6.9.4 7.2.4-7.5.4 9.8.4-24.6.4 16.8.4-2.1.4-6.3.4 19.6.4 1 .3-22.9.4 26.8.4-13.8.4 5.4.4 2 .4-7.4.4 4 .4 8.7.4-14.8.4 7.3.4 6 .4-9 .4-.9.4-2.1.3-.9.4 2.4.4-9.5.4 11.3.4-5.5.4 8.9.4 12.4.4-7.1.4-12.4.4 8.8.4-4.7.4-7.3.4 12.7.3 5.4.4-4.7.4-5.5.4-9.6.4 6.3.4 8.5.4-3.1.4 4.8.4-12.4.4-20.3.4 34.1.4-1.8.4 7.7.4-.6.3-5.4.4-13.4.4-9.2.4 7.4.4-2 .4-5 .4 9.5.4 13.5.4-15 .4 6.9.4 5.5.4-13.9.4 5.1.3-2.6.4-7.3.4 18.4.4 2.4.4 .4.4-6.3.4-7.4.4 27.5.4-35.4.4 18.3.4-4.3.4-7.5.4 19.2.4 4.5.3-15.4.4-.2.4 5.3.4-3.1.4 18.2.4-23.8.4 2 .4 9.9.4-7.2.4-4.1.4 5.3.4 2.8.4 10.1.3-16.3.4 15 .4-13.8.4-.3.4 14.7.4-2.9.4 3 .4 .7.4-10.6.4-2.6.4 10.2.4-9.9.4 5.9.4 14.3.3-23 .4 1.7.4 14.6.4 1.4.4-8.7.4 3.6.4-4.9.4-.9.4 5.2.4 9.4.4-21.2.4-1.5.4 14.5.3-6.2.4 10.3.4-4.8.4-3.2.4 3.1.4 24 .4-24.2.4-4.7.4-7 .4 17.6.4 7.2.4-10.4.4-.1.4-1.5.3 3.2.4-3.8.4 5 .4 0 .4-1.2.4 12 .4-16.8.4 1.7.4-4 .4 3.7.4 .2.4 6.9.4-22.4.4-10.7.3-9.9.4-4.3.4 6.3.4 3.9.4 28.7.4 4.9.4 5.4.4 17.9.4-14.3.4 4.6.4-2.9.4-3.2.4 2 .3 2.7.4-.1.4-20.6.4 9.4.4-.7.4 .1.4 4.1.4-1 .4-1.6.4 7 .4 14.1.4-4.3.4 1.5.4-1.3.3-24.2.4 26.9.4-9.1.4-10.9.4 4.2.4 2.2.4-1.9.4 11.8.4-7.8.4 13.8.4-1.7.4-20.9.4 7.9.3 8.6.4-2.7.4-2.7.4 .1.4-2 .4-.9.4 7.6.4-3.4.4-5.1.4-6.6.4 14 .4-2.9.4-16.3.4 18.6.3-9.2.4 9.6.4-2.3.4 9.2.4-17.6.4 17.8.4-17.1.4-4.3.4-9.5.4 5.1.4 4.8.4 25.9.4 .3.3-7.6.4-3.9.4-.4.4 .3.4 5.5.4-8.5.4 3 .4 7.9.4-6.2.4-.5.4 13.5.4 3.7.4-7.8.4 2.4.3-3.2.4-2.1.4 1.6.4 2.8.4-10.3.4-2.8.4 4.7.4-.1.4 9.4.4 1.7.4-7.4.4-11.6.4-6.3.3-11.7.4 1.6.4-5.7.4-15.5.4 .1.4 7.4.4 11.3.4 16.5.4 3.4.4 8 .4 5.6.4 13.6.4-7.8.4 8.3.3-8 .4 9.2.4-6.3.4-7.8.4-2.8.4 18.3.4-12.8.4 6 .4-9.7.4 12.4.4-7.2.4 18.1.4-17 .3 10.3.4 13.7.4-7.8.4-4.8.4-13.8.4 18.5.4 2.7.4-14.9.4 3.1.4-4 .4-2.4.4 6.7.4 6.5.4-3.8.3 5.9.4 .2.4-6.3.4 8.3.4-15.6.4 6.5.4 3.4.4 3.5.4-13.5.4 16.4.4-17.3.4 4.6.4 14 .3-22.1.4 12 .4 21.7.4-12.9.4-4.8.4-1.6.4 7.8.4-17.7.4 22.2.4-13.3.4-1.3.4 12.2.4-2.1.4-2.5.3 1 .4-2.3.4-10.2.4-3.3.4 19.7.4-1.7.4-4.5.4 10.6.4-13.8.4-.6.4 9.2.4-10.5.4-.3.3 5.6.4-3.8.4 6.1.4 4.3.4-10 .4 5.4.4 4.1.4-7 .4 3.5.4 5.6.4-11.3.4 11.8.4 7 .4-15.5.3-7.2.4 3.9.4 2.2.4 9.2.4-3 .4-4.9.4-9.7.4 10.1.4 12.9.4-24.5.4 15.1.4 1.5.4 2 .4-.4.3 7.5.4-3.8.4-4.2.4 .3.4-4.5.4 .4.4-3.8.4 10.2.4-19.8.4 19.2.4-13.6.4 10.9.4-4.5.3 18 .4-13 .4-4 .4 15.6.4-8.9.4-8.1.4 4.2.4 8 .4-19.9.4 5.1.4 6.7.4 10.3.4-17.2.4 4.9.3-3.7.4 1 .4-9.1.4-1.9.4 2.7.4 3.4.4 14.9.4 8.5.4-10.9.4-2.7.4 13 .4-16.1.4-3.7.3 17.8.4-.4.4 4.4.4-10.6.4 3.8.4-1.6.4 5.2.4-3.4.4 .6.4 .7.4-1.3.4-5.5.4 9.2.4-1 .3-.8.4-7.8.4 3.8.4 1.5.4-15.3.4 18.5.4-8.9.4-7.1.4 18.5.4-14.9.4 6.6.4-2.6.4-8.9.3 5.9.4 20.5.4-3.9.4-17.6.4 11.6.4-7.6.4 9.3.4-17.7.4 2 .4 9.2.4-2.5.4 7.7.4 .6.4-3.5.3-8.1.4 7 .4-4.1.4-8.6.4 18.2.4-17.7.4 3 .4 10.2.4 4.7.4-4 .4-7.5.4 31 .4-32.3.3 26.3.4-25.7.4 8.9.4 5.2.4-4 .4-4 .4 5.8.4-1 .4-8.6.4 16.1.4-8.2.4 1.8.4-8.3.4 9.4.3 5.6.4-5.4.4-1.4.4 2.5.4-8 .4 7.7.4-7 .4 10.6.4-.3.4-1.7.4 .3.4-1.1.4-6.9.3 1.1.4 6 .4-5.2.4 0 .4-.5.4 7.7.4-1.6.4 2.7.4 4.8.4-6.3.4-4.2.4 4.3.4 2.7.4 7.5.3-11.2.4 3.8.4-7.9.4 1 .4-2.5.4 9.2.4-8.3.4 5 .4 2.3.4-6.9.4-1.9.4 14.4.4-2.1.3 2.6.4-4.2.4 7 .4-4.9.4-10.9.4 11.7.4-1.9.4-8.8.4 2.6.4 7.1.4-16.2.4 13.9.4-11 .4 15.5.3 .6.4-14.9.4 1.6.4 3.9.4 1.6.4-4.5.4 12.1.4-6 .4-10.1.4 11.6.4-7.1.4 5.5.4 7.4.4-14.3.3 7.5.4-3.9.4 2.7.4 10 .4 7.2.4-30.9.4 34.3.4-11.3.4-14.1.4 11.7.4-9.7.4 6.5.4-17.6.3 21.9.4-21 .4-.1.4 14.5.4 6 .4-8.4.4 7 .4 3.3.4-6.7.4 16.8.4-10.6.4-11.2.4-3.3.4 3 .3 3.2.4 11.1.4 1.6.4-20.9.4 22.3.4-25.3.4 3.6.4 2.5.4 15.1.4-13.7.4 9.1.4-1.8.4-3.5.3 4.1.4-4.8.4 4.7.4-2.4.4 16.7.4-21.7.4 9 .4-4.7.4 10.6.4-2.4.4-4.8.4 4.3.4-9.3.4 3 .3 7.1.4-10.4.4 9.2.4 .4.4-.7.4-2.3.4-.1.4-6.9.4 7.5.4-10.4.4 2.9.4 6.6.4 2.6.3-8.3.4 9.1.4-5.1.4-4.1.4 6.9.4 .8.4-3.2.4 1.4.4 9.1.4-11.9.4-2.2.4 3.7.4 3.5.4-2 .3 4.7.4-2.6.4 .2.4-5.4.4 9.9.4-12 .4 13.1.4-12.9.4 1.6.4 3.1.4 9.8.4-11.4.4 12.8.3-9.5.4-4.6.4 12.1.4-8.3.4-1.2.4 7.7.4-2.8.4-.1.4-1 .4 11.9.4-18.6.4 4.7.4-1.5.4 .6.3-5.4.4 6.7.4 3.5.4-2.3.4-3.2.4-2.3.4 7 .4-4.1.4 5.2.4-1.1.4 7.6.4-8.9.4 5.9.3-5.3.4 4.3.4-.7.4 4.1.4-11.9.4 5.3.4-4.5.4 7.3.4-4 .4 1.3.4-5.5.4 6.3.4 3.5.4-2.3.3 2.5.4 8 .4-7.2.4 6.9.4-16.8.4 2.7.4-1.9.4 7.9.4 4.8.4-.2.4-2.7.4-6.3.4 3.1.3-10.3.4 7 .4 5.5.4-2.4.4 3.1.4 6.1.4-6.8.4 .7.4-1.5.4 16.1.4-11.2.4 .1.4 6.9.4-2.6.3-5.8.4-2.2.4 6.9.4 6.1.4-1.8.4-4.5.4-7.2.4-4.2.4 4.4.4 6.4.4-1.5.4-2.8.4-1.5.3 2.7.4 4.7.4-2.8.4-10.1.4 5.1.4 8.7.4-9.9.4 9.2.4-9.6.4-4.6.4 16.3.4-8.2.4 6.5.4-7.6.3 3.7.4 8.9.4-5.4.4-3.6.4 1.6.4-8.2.4 11.1.4 3.9.4 5.4.4-18.4.4 2.1.4 .3.4 .1.4-4.5.3 4.2.4 5.9.4-8 .4 13.7.4-21.3.4 6.7.4 5.3.4-1.6.4-3.4.4 12.9.4 .5.4-3.9.4-3.2.3-6.6.4-2.6.4 12.4.4 2.2.4-1.7.4-3 .4-1 .4-.2.4 8.1.4-17.1.4 4.6.4 3.8.4 1.4.4-2.6.3 4.6.4-2.8.4-2.8.4-3.3.4-3.4.4 8.1.4 7.8.4-.9.4-18.2.4 10.6.4-4.8.4 4.6.4-8.3.3 19.7.4-18.9.4 2 .4 11.8.4 1.9.4-11.9.4-8.4.4 15.8.4-4 .4-2.7.4 .2.4-5.7.4 7.2.4-4.9.3 8 .4-5.9.4 9.7.4-5.1.4 .4.4-4.9.4 7.7.4-5 .4-4.5.4-7.6.4 11.4.4-2.5.4 10.4.3-3.4.4-7.2.4-10.6.4 16.7.4 8.2.4-10.5.4-4.4.4 5.3.4-8.5.4 9.4.4-13.1.4-4.4.4 7 .4 10.7.3-9.6.4-6.4.4 14 .4-3.9.4 8.2.4 11.9.4-8.6.4 1 .4-4.4.4-9.2.4 2.5.4-5.8.4 14.1.3-3.8.4-.5.4 2.8.4-5.4.4 8.7.4-12.5.4 25.6.4-10.5.4-2.6.4-.2.4 .7.4 .9.4-10.1.4 4.5.3 7.5.4-9 .4 2 .4-2.5.4 9.4.4-4.6.4-7.4.4-5.5.4 9 .4 8.5.4-17.6.4 10.9.4 .2.3 4.9.4-3.1.4 1.5.4-4.1.4-2.3.4 2.2.4 .4.4-1.7.4 2.9.4-7.5.4 13.3.4-7.8.4-2.9.4 5.1.3-6.2.4 .3.4 2.3.4 .4.4 .6.4-6 .4 14.4.4-17.9.4 6.9.4 11 .4-11.2.4-.3.4-3.6.3 10.4.4-8.5.4 3.3.4 .4.4-7.4.4 6.9.4-.3.4 1.8.4-9.6.4 6.4.4-2.7.4-.8.4 14.1.4-7.4.3-2.6.4-2.6.4-3.3.4 5.2.4-5.7.4 4.6.4 6.2.4-4.5.4 6 .4-12.3.4 4.8.4 9.7.4-16.4.3 4.4.4 9.2.4-10.4.4-.9.4 .7.4-3.8.4 8.1.4-13.2.4 22.9.4-9 .4-10.1.4 9.4.4-2 .4 .8.3 9.5.4-10.1.4-2.1.4 3 .4-12.1.4 5.5.4 7.2.4 15.5.4-19.1.4 11.2.4 1.8.4-12.8.4-3.4.4 7.9.3-15.5.4 7.3.4-1.4.4 1 .4 4.8.4-17.3.4 5.6.4 10.6.4-1.9.4 6.3.4-14 .4 12.4.4 .4.3-6.2.4 3.4.4-7 .4 .8.4 1.7.4-8.8.4 9.9.4-8.7.4 20.1.4-7.4.4 20.7.4-20.2.4-14.1.4 15.9.3-10.1.4 11.2.4 5.6.4-25.8.4 16 .4-7.2.4 3.1.4 10 .4-4.6.4-2.6.4-9 .4 .5.4 2 .3 4.1.4-3.2.4-11.4.4 .4.4 6.8.4 5.1.4-10.8.4-11.8.4 3.2.4-16.8.4-21.2.4-44.7.4-99.9.4-109.6.3-113.3.4-50.7.4 44.5.4 85.6.4 61.2.4 22 .4-12.2.4 22.6.4 56.1.4 66.2.4 57.7.4 30.6.4 6.6.3 17.9.4 7.8.4-3.4.4-.7.4 10 .4-8.5.4 4.2.4 3 .4-1.4.4-1.4.4-.8.4 9 .4-5.8.4-2.4.3-4.2.4-2.5.4 2.6.4-2 .4-18.4.4-8 .4 3.8.4-5.6.4-5.6.4-9.1.4-1.9.4 2.6.4 3.7.3 12.2.4 10.5.4-.8.4 14.3.4 7.2.4 4.6.4 5.9.4 4.5.4-17.3.4 10.7.4 10.9.4-5.1.4-4.7.4 .2.3 .5.4 6.5.4 8.5.4 3.5.4-20.1.4 9.5.4-2.4.4-2.1.4 20.1.4-18.6.4 7 .4-1.4.4-3.9.3 18.1.4-12.6.4 9 .4-12.6.4-2.5.4 8.8.4-8.2.4 14.1.4-4.9.4 .7.4-7.7.4 6.9.4-3.7.4 3.2.3-9.8.4 11.1.4-14.8.4 17.9.4 10.2.4-15.6.4 5.3.4 2.9.4 .8.4-8.4.4-8.4.4 20.2.4-16.2.3-.5.4 13 .4-5.9.4-9.5.4 5.8.4 6.7.4 3.9.4-8.1.4-2 .4 2.2.4-10.4.4 10.4.4-5 .4 10.1.3-17 .4 6.3.4-2.1.4 6.3.4 12.4.4-15.4.4 .6.4 3.6.4 3 .4-7.6.4 12.3.4-8.7.4-3.3.4-2 .3 .1.4 2.2.4 7.4.4-2.6.4 2.9.4-3.7.4-2.4.4-4.3.4 3.7.4 6.3.4 3 .4-11.2.4 5.7.3 3 .4-12.3.4 14.3.4 3.9.4-3.4.4 8.7.4-18.4.4-.7.4 .8.4 11.3.4-7.1.4 3.5.4-8.9.4 .5.3 7.8.4 0 .4-6.9.4 3.1.4-4.4.4 1.9.4-4.7.4 16.2.4-3.9.4-.7.4-1.4.4 3.4.4-1.2.3-20 .4 7.6.4 7.9.4-2.3.4 9.7.4-4.4.4 5.2.4-4.7.4-.6.4-7.3.4 3.5.4 .5.4 7.6.4-1.5.3-5.3.4 9.8.4 .9.4-9.9.4 6.6.4 6 .4 2.7.4-13.7.4 7.3.4 1.2.4-19.6.4 6.7.4 11.5.3-1.5.4-3.6.4-1 .4-.6.4-7.5.4 6.7.4 12.8.4-8.4.4 5.7.4-12.4.4 6.7.4 1.2.4 4 .4-5.6.3-1.1.4 7.2.4-10 .4 15.2.4-7.6.4-3.8.4 3.8.4-2.5.4 1.4.4-7.6.4 8 .4 .6.4 3.8.3-5.9.4-5.7.4 9 .4 1.5.4-18.8.4 13.7.4 3.1.4-9.6.4 9.9.4-2.9.4 13.4.4-17.2.4 8.8.4 2.6.3-9.3.4-13.9.4 14.4.4 1.7.4 1.4.4-8.4.4 6.6.4 .9.4 5.2.4 5.7.4-8.9.4 1.1.4 .2.3-5.1.4 13.7.4-9.6.4 4.4.4 7.8.4-13.8.4 7.5.4-11.8.4 9.8.4 1.8.4-2.9.4-1.5.4 21.6.4-17.1.3-2.9.4-3 .4-.4.4 .7.4 1.2.4 .4.4 1.3.4-3.1.4 5.1.4 1.3.4 4.4.4-12.3.4-1.1.3 5.9.4 2.1.4 3.7.4-8.2.4 11.7.4-7.3.4 .6.4-1.6.4 8.1.4-5.1.4 1.7.4-2.7.4-6.8.4 7.8.3-2.2.4-3.5.4 8 .4-6.7.4 9.5.4-2.7.4 5.4.4-16.1.4 7.8.4-13 .4 23.9.4-13.3.4 8.5.3-.9.4 3.8.4-15 .4-.4.4-3.1.4 8.6.4 .1.4 1.4.4 .4.4-9.3.4 13.9.4-.9.4 7.9.4-14.5.3 5 .4 2.6.4 3.9.4-17.9.4 14.2.4-12.6.4 15.6.4-6.6.4 2.4.4-5.6.4-6.8.4 12.8.4 9.2.4-3.2.3-17.7.4 10.1.4-2.9.4 3.1.4-3 .4 7.1.4-4.7.4 .3.4-.5.4-2 .4-2.5.4 2 .4 4.6.3 1.3.4-7.1.4 4.1.4-4.5.4 1.1.4 3.6.4-3.6.4-5.3.4 4.7.4-2.9.4-9.3.4 13.2.4-4 .4-8 .3-2 .4-.9.4-21.6.4-37.2.4-46.8.4-52.5.4-51.6.4-3.9.4 39.4.4 47.9.4 33.1.4 1.4.4-6.4.3-8.8.4 4.8.4 36.3.4 20.7.4 30.2.4 13.7.4 10.1.4-7.4.4 5.7.4 3 .4-3 .4 12.8.4-12.7.4-1.6.3 13.3.4-8.7.4 .8.4 5 .4-7.5.4 1.9.4 1.4.4 4.9.4-.4.4-7.3.4 2 .4-2.6.4 4 .3-9.6.4 3.5.4-4.8.4-2.5.4-5.2.4-3.1.4 .1.4-1.2.4 12.5.4 3 .4-.7.4 2.1.4 6.5.4 0 .3-1.3.4-.4.4-1.3.4-.1.4 5.2.4-7 .4 2.8.4 .5.4 4 .4 1.9.4 2.1.4-1.8.4 1.9.3 6.9.4-1.3.4-5.8.4-5.9.4 1.8.4 1.3.4-3.2.4-11.2.4 21.7.4-7.1.4 2.7.4-.6.4 3.5.4-2.4.3 5.8.4-13.8.4 4 .4 11.6.4-4.2.4 4.8.4-12.4.4 19 .4-12.3.4 6.5.4-8.4.4 3 .4-10.7.3 5.9.4 2.6.4-3.4.4 3.8.4 2.3.4 2.5.4-8.5.4 8.1.4-1.9.4-1 .4 .5.4-6.3.4 8.7.4-12.6.3 3.4.4 8.4.4 .2.4-11.9.4 14.4.4-6.9.4 9.4.4-11.6.4 2.5.4-.3.4 .4.4 8.6.4-.8.3-6.8.4 1.1.4 4.3.4-3.6.4 .5.4 1 .4-.8.4-14 .4 4.1.4 16.3.4-3.8.4-2.6.4 3.8.4-14.8.3 8.9.4 5.7.4-4.4.4 3.6.4-9.2.4 1 .4 7.7.4-6.7.4 9.5.4 .8.4-13.9.4 5.1.4 3.5.4 4.6.3-17.2.4 9.4.4 7.2.4-4 .4-6.1.4 12.4.4-4.9.4-2.4.4-4.1.4 5.2.4-4.8.4 5.1.4-7.5.3 4.2.4 10.8.4-13.1.4 7.2.4-4 .4-5.3.4 10.3.4-12.5.4 5.3.4-10.9.4 17.5.4-3.1.4-3 .4 9.3.3-11.5.4 6.3.4-2.7.4 2.8.4-2.2.4 3.7.4-8.1.4 5.4.4-1.4.4-2.5.4 4.7.4 1.8.4-5.8.3 6.6.4-8.2.4 5.6.4 1.4.4 2.4.4-4.1.4-.5.4-.9.4 .7.4 1.4.4 7.1.4-13.4.4 12.2.4-3.6.3-.3.4-1.9.4 2.4.4-4.3.4 4.7.4 .8.4-3 .4 2.1.4 .7.4-2.5.4 7.7.4-2.7.4-8.5.3 10 .4-7.9.4-7.7.4 7.3.4 3.2.4 2.5.4-.6.4-4.1.4 6.1.4-.5.4-1 .4 .4.4-.3.4 2.1.3 .8.4-3.7.4-.5.4-5 .4 5.5.4 .7.4 0 .4-7.4.4 9.9.4-8.2.4 1.4.4 9.6.4-12.9.3 6.2.4-.2.4 9.7.4-2.5.4-10.7.4 1.9.4 1.8.4-2.4.4 6.6.4-1.1.4-9.3.4 2.9.4 5.8.4-2.5.3-3.5.4-4.4.4 7 .4-5.4.4 3.7.4 3.2.4 2.6.4-5.5.4 2.2.4 2.7.4-.8.4 4.5.4-6.9.3 1.9.4-4.2.4 1.9.4 .8.4 2.5.4 .1.4 6.1.4-5.3.4 2.2.4 .6.4-7.9.4-5.8.4 14.3.4-1.6.3-2.6.4 .2.4-7.1.4 19.3.4-23.2.4 13.2.4-5 .4-2.2.4 5 .4-1.5.4 .8.4 .3.4-10.1.3-6.5.4 11.1.4-8 .4 1.8.4 3 .4-3.2.4-7.6.4 5.2.4-1.1.4 .3.4-.3.4 .9.4 5.4.4-.8.3-.8.4 1.6.4 14.2.4-12.6.4 6.6.4 4 .4 1.4.4-4.1.4-6.1.4 7.9.4 4.6.4-15.2.4 10.6.3-.4.4 4.4.4-4.4.4-2.6.4 5.5.4-7.4.4 3.3.4-1.3.4 7 .4-.4.4 .7.4-9.1.4 4.9.4 9.9.3-14.2.4 10.2.4-2.2.4-.5.4-11.7.4 13.3.4-2 .4 4 .4-10 .4 4.5.4 3.6.4 0 .4 1.9.4-2.2.3-5.9.4-.9.4 8.5.4-3.9.4 3.1.4-3.8.4-2.8.4 3.3.4-.6.4 0 .4-3.8.4-1 .4 7.6.3-1.4.4 1.8.4-1.2.4-1.1.4-7.4.4 14.7.4 2.4.4-8.9.4-2.4.4 4 .4-1.7.4 7.3.4-9.5.4 6.2.3-6.8.4-3 .4 4.7.4 11.5.4-6.5.4-3.1.4-2.7.4-.4.4 1.5.4 9.5.4-5.7.4-10.6.4 6.5.3 2.9.4-6 .4 2.5.4 7 .4-7.6.4 2.6.4 1.9.4 3.6.4-1.8.4 4.9.4-11.1.4 4.6.4-.3.4 3.2.3-13.2.4 6.7.4 2.6.4-2.6.4-12.2.4 7.9.4 7.4.4 3.6.4-9.6.4 5.9.4-6 .4 .4.4-2 .3 .5.4 12.1.4-7.2.4-3.2.4 6.9.4-6.1.4 5.6.4-3.5.4 2 .4-6.7.4 7.4.4-.9.4 6.5.4-2.6.3-8.4.4 7.4.4-8.3.4 3 .4 4.4.4-5.3.4 2.1.4 .3.4 .6.4-5 .4 8.1.4-11.1.4-1 .3 17.8.4-11.2.4-5.9.4-5.7.4 17.7.4-13.9.4 3.2.4 16 .4-2 .4-14.7.4 5.9.4 5.4.4-12.6.4 13.7.3-24.5.4 17.8.4-.1.4 3 .4 3.6.4-12.3.4-1.4.4 10.5.4 5.6.4-16.8.4-8.7.4 15.6.4 10.9.3-17.2.4 9.8.4 2.8.4-9.7.4 6.1.4-3.6.4-5 .4 4.2.4 8.4.4-5.1.4 6.6.4-5.2.4-6.5.4 4.6.3-3.6.4 .1.4 .2.4 3.9.4-.9.4-.5.4 8.1.4-8.7.4 5.9.4-.9.4 .5.4-1 .4 6.9.3-10.6.4-1 .4 3.8.4-5.6.4 10.8.4-5.5.4 4 .4-1.2.4 4.2.4-9.6.4 1.4.4 4.5.4-1.9.4-.6.3-2.8.4 1.3.4 4.5.4-5.4.4 .6.4 1.2.4 7.9.4-5.7.4 2.8.4-2.5.4 3.7.4 2.4.4-8.1.3-1 .4 2.5.4 3.4.4-4.5.4 5.4.4-2.8.4 2.3.4 .6.4-6.1.4 7.2.4 2 .4-1 .4-5.2.4 0 .3 2.2.4-.7.4-1.5.4 3.1.4-1.1.4-4.4.4 4.8.4 1.3.4-1.1.4-4.9.4 3.7.4-2.2.4 2.6.4-2.4.3 7 .4-3.1.4-.3.4-.5.4-7.9.4 9.3.4-2.5.4-.8.4 0 .4-1 .4 3.3.4 .3.4-1.6.3-6.4.4 5.8.4-1 .4 7.4.4-7.6.4-3.5.4 7.5.4-4.9.4-1 .4-1.2.4 8.2.4-3.4.4-1.2.4-.3.3 7.6.4-4.1.4-.8.4-.2.4 1.3.4 3.3.4-4.7.4 6.8.4-11 .4 5.1.4 .6.4-2.7.4 7.1.3 1.1.4-3.7.4-5 .4-.4.4 .8.4 10 .4-7.8.4 1.8.4-.3.4-1.7.4-3.5.4 .3.4 13.2.4-12.4.3 3.3.4-1.5.4 1.9.4 1.7.4-15.2.4 10 .4-4.4.4-2 .4 6.8.4-3.2.4 6 .4 6.2.4-11.1.3 1.9.4-2.1.4-7.7.4 8.5.4 8 .4-4.3.4 6.7.4-4.9.4 2.2.4 2.1.4-6.4.4-5.8.4 10.7.4-1 .3 .1.4 8.6.4-16.5.4 15.1.4-16.6.4 1.4.4 5.7.4 2.5.4-1.7.4 7.5.4-11.6.4 1.4.4-19.2.3 27.1.4-12.2.4-5.8.4-.8.4 2.1.4 45 .4-37.4.4 4.9.4-10.4.4 9.6.4-9.5.4 8.1.4 13.5.4-13.3.3 8 .4-14 .4 5.7.4 .3.4 9 .4 1.2.4-14.2.4 1.9.4 5.9.4-6.9.4 9.2.4-9.8.4 6.5.3-5.9.4-5.8.4 21.3.4-15.5.4 8 .4-13.1.4 17.6.4-5.4.4-5.3.4 6 .4-10.8.4 7.8.4-4.7.4 4.8.3-1.9.4-17.4.4 16 .4 2.7.4-4.7.4 10.8.4-3.2.4-3.8.4 5.5.4-8.6.4 5 .4-5.4.4 4.5.3-.2.4-2.7.4 2.8.4 2.8.4-3.6.4 1.7.4-6.8.4 1.8.4 3.1.4-2.9.4 6.5.4 .1.4-1.7.4 1.6.3-.6.4 1.1.4-5.1.4-4.3.4 7.6.4-1.6.4-1.2.4 2.8.4-.9.4-5.4.4 9.1.4-4.6.4-.3.4 8.7.3-11.4.4 1.4.4 2.8.4 4.9.4-2.8.4-1.4.4-4.8.4-1.6.4 13 .4-11.6.4 8.3.4 1.3.4-1.8.3 1 .4 0 .4-11.2.4 8.7.4-.6.4 5.8.4-7.5.4 8.3.4-5.4.4-4.5.4-2.8.4 15.3.4-17.5.4 11.6.3 7.7.4-13.8.4 8.6.4-2.7.4 2.6.4-10.2.4 3.6.4-2.3.4 5.4.4 4.6.4-5.9.4-8.7.4 11.3.3 3.1.4-15.6.4 10.1.4-.1.4-17.2.4 18.1.4 6.7.4-9.9.4 3.2.4 1.4.4 2.7.4-4.9.4-7 .4 8.9.3 7.2.4-4.6.4-2 .4-1.2.4-3.4.4 2.4.4 .3.4 2.7.4 1.7.4 2.3.4-8.3.4 1.1.4-.1.3-2 .4-3.1.4 .7.4 3.8.4-.9.4-1.8.4 11.2.4-3.7.4-4.7.4-1.9.4 1.1.4-3.8.4 6.1.4-3.6.3 13 .4-6.4.4-7.2.4 4.8.4-1.8.4 4.1.4-2.1.4 7.6.4-14.7.4 7.4.4-5.1.4-2.6.4 7.8.3 3.7.4-7.9.4-.7.4 5.2.4-6.9.4 3 .4 11.6.4-4.3.4-11.3.4 12.2.4-9.6.4 3.3.4-3 .4 2.9.3-.5.4 8 .4-7.1.4-2.8.4 .1.4 5.5.4-3.6.4 1.4.4 2 .4-6.4.4 5.2.4-.1.4 1.6.3-7.4.4 .7.4 2.5.4 1.9.4-9.3.4 .1.4 9.1.4 2 .4 1.4.4-7.6.4 4.9.4-.1.4-.1.4 3.6.3-5.1.4-1 .4 .6.4 .3.4-1.4.4-3.5.4 5.8.4-.7.4-1.7.4 4.2.4-3.2.4-9.1.4 2.5.3 5.1.4 4.8.4-6.7.4 8.3.4-2.5.4-6.7.4 3.6.4-.2.4 5.3.4-4 .4 1.6.4-2.7.4-3 .4 9.8.3-8.8.4 2.2.4 1.8.4-8.3.4 8.9.4-4.5.4 8.6.4-7.7.4 .9.4-.6.4 4.5.4-7.1.4 4.5.3 1.9.4-1.5.4 1.7.4-5.6.4-5.8.4 7.8.4-.8.4 1.3.4 2.7.4 7.3.4-5.8.4 2.2.4-3.7.4 1.3.3-2.1.4 2.6.4-5.1.4 3 .4-2.3.4 5.3.4-.3.4-6 .4 2.4.4 1.6.4-1.2.4-.8.4 2.1.4 6.9.3-11.8.4 5.5.4 1.8.4-2.8.4-7.3.4 10.6.4-9.6.4 5.2.4 6.7.4-.2.4-2.9.4-.7.4-3.1.3-.7.4 1 .4 7.5.4-2.2.4 1.3.4-4.5.4-2.8.4 2.5.4-1.6.4 0 .4-2.4.4 3.8.4 12.1.4-8 .3-.3.4-8.1.4 1.9.4 4.8.4-.9.4 3.7.4-9.6.4 12.8.4-7 .4 4.6.4 1.6.4 2.3.4-8.9.3 .8.4 5.2.4 1.2.4-5 .4-4.9.4 4.6.4-5.4.4 2.6.4 2.7.4-3.4.4 8.1.4-3.9.4 7.7.4-8 .3 8.3.4 1.6.4-12.8.4-7.7.4 18.7.4-1.6.4 2 .4-7.4.4-5.6.4 5.6.4 3 .4-1.5.4-2.3.3-1.8.4-.6.4 .6.4 2.3.4-7 .4-2 .4 24.1.4-7.8.4-5 .4-5.3.4-4.3.4 7.6.4 6.1.4-1.4.3-8.6.4 .5.4 6.7.4 .4.4-5.9.4-4.5.4 2.9.4-3 .4 .8.4 10.5.4 .3.4-3.4.4 2.8.3-7 .4 1.5.4-4 .4 10 .4-16.6.4 11.9.4-2.2.4-.6.4 2.9.4-6.4.4 4.4.4-1.2.4 5.8.4-2 .3-7 .4-9.6.4 9.5.4-1.4.4 8.1.4-5.5.4-2.9.4 7.5.4-3.1.4 2.1.4 2.8.4-.6.4-8.7.3-1 .4 18.4.4 1.4.4-20.1.4 6.1.4 2.3.4 2.8.4-3.4.4-3.9.4 4.5.4-2.4.4 3.1.4-3.6.4-2.5.3 6.4.4-1.4.4-3.9.4 4.7.4-4 .4 9 .4-2.6.4-4.8.4-2.9.4 2.5.4-1.5.4 4.9.4-5 .3 9.6.4-5.2.4-1.1.4-1.5.4-.6.4-3.7.4 5.4.4-6.1.4 8.3.4 1.2.4-6.2.4 3.1.4-2.7.4 6.7.3-1.3.4-.8.4-6 .4 7 .4 1.3.4-2.6.4 2.9.4-4.3.4 .2.4 3.9.4-.9.4-8.4.4 9.7.3 .6.4-9.6.4 1.2.4 2.5.4 .6.4 3.2.4-3.2.4-2.1.4 .6.4 4.3.4-.4.4-.6.4-1.2.4-4.8.3 7.7.4-.9.4 .5.4-5 .4 11.6.4-5.2.4-1.1.4-4.4.4-.1.4 4.9.4-1.5.4 5.6.4-2.3.4-15.1.3 8 .4-.7.4-1.4.4 1 .4-.9.4-2.3.4-2.1.4 7.3.4 6 .4-6.6.4 .4.4-2.2.4 3.7.3-4.7.4 8.6.4-4.7.4 1.8.4 .2.4-1.6.4 1.7.4-1 .4 5.9.4-11 .4 4.8.4 .6.4-5.4.4 4 .3 5.8.4-12.9.4 6.8.4-2.1.4-5.2.4 5.4.4 2.4.4 3.4.4-4.9.4 1 .4-.6.4 2.8.4-4.2.3 .3.4 1.7.4 .4.4-1.4.4 1.5.4-1 .4-9.7.4 13.5.4-8.6.4-16.7.4 1.6.4-22.7.4-33 .4-25.3.3-8.6.4 13.8.4 30.9.4 17.5.4 31.7.4 6.8.4-9.3.4-5.2.4-4.1.4-14.6.4-6.7.4-4.4.4 14.5.3 6.3.4 19.4.4 4.8.4-6.8.4 1.5.4 11.6.4 5.5.4-4.3.4-1.8.4 5.6.4-6.4.4 6 .4-1.8.4 14.3.3-12.8.4 4.1.4-2.1.4-1 .4-1.3.4 5.3.4-7.7.4-3.9.4 11.8.4-3.1.4-4.1.4 5.8.4-1.8.3 1 .4-.7.4-1.3.4-2.6.4 .8.4 5 .4 3.3.4-6.3.4 4.6.4-5 .4 5 .4 1.3.4-3.9.4-4 .3 1.7.4-1 .4 .8.4-2.1.4 4.3.4-7.5.4 .8.4 4.8.4 .1.4-5.5.4 6.5.4 .4.4-.2.3-3.5.4 4.2.4-1.1.4-2.2.4 .5.4-6.3.4 7.4.4-1.7.4 .4.4 5.1.4-4.4.4-4.5.4 3.4.4 4.8.3-5.7.4 3.8.4 .4.4 1.7.4-3.6.4 .3.4-6.2.4 6.8.4 3 .4-4 .4 2.5.4 4 .4-11.8.3 8.8.4 1 .4-3.8.4-.4.4-3.8.4-2.8.4 3.8.4 4.4.4-5.6.4 .2.4-2.1.4 11.4.4-5.1.4-1.4.3-3.3.4 12.1.4-8.2.4 7.3.4-2.6.4-1.2.4 2.4.4 .1.4 1.5.4-4.6.4-.4.4-3.7.4 0 .4 1.1.3 1.2.4 5.9.4 .4.4-2 .4-2.6.4 2.6.4 .4.4-4.5.4-2.1.4 5.7.4-2.8.4 11.2.4-12.2.3 3.2.4-3.8.4 2.4.4 .6.4-1.6.4 1.1.4 8.6.4-13.1.4 6.2.4-1.7.4-4.3.4-1.3.4 11.3.4 1.5.3-1 .4-5.8.4-3.3.4 2.3.4-2.5.4 .3.4 2.7.4 .9.4 2 .4-11.5.4 8.4.4-5 .4 5.5.3 4 .4 2 .4-8.4.4 6.5.4 4.5.4-4.7.4-1.1.4 2.9.4-10.7.4 5.6.4 3.9.4-11.7.4 7.4.4-7.9.3 2.5.4 2.3.4 1.7.4 7.9.4-6.1.4-1.8.4 2.4.4 .5.4-7.4.4 4.8.4-2 .4 9.1.4-4 .3-5.5.4 2.3.4 .9.4-5.7.4 3.9.4-3.1.4 .1.4 4.5.4-9.4.4 8.7.4 4.1.4-7.2.4 6.8.4-6.5.3-3.9.4 11.5.4-2.9.4-8 .4 1.1.4-2.1.4 6.9.4-1.4.4-13.8.4 15.1.4-2.8.4 5.9.4 .6.3-6.5.4 .9.4-.1.4 3.7.4 5.6.4-10.5.4 .1.4-2.4.4 6.3.4 2.9.4-7.7.4 11.4.4-5.2.4-.3.3 4.4.4-.2.4-12.8.4 6.9.4 9.4.4-12.6.4 5.6.4-12.2.4 1.9.4 6.3.4 .2.4-3.3.4 5.4.3-5 .4 2.9.4 2.4.4-2.9.4 2.3.4 3.3.4-2.5.4 4.7.4-6.4.4 1.5.4-5.6.4 8.1.4-8.5.4 7.6.3-1.6.4-3.3.4 8.9.4 .3.4-4.5.4-3 .4 3.2.4 9.2.4-16.3.4 .2.4 5.2.4 9.3.4-2.2.3-9.2.4 13.4.4-13.6.4 4.1.4-4.4.4 4.1.4-1.6.4-1.4.4 8.4.4-12.2.4 3.9.4-9.9.4 7.6.4 3.3.3-1 .4 1 .4-.6.4 10.6.4-10.1.4 1.5.4 4.7.4-7.8.4 2.9.4 4.3.4-8.8.4 8.5.4-1.6.3-5.8.4 3.9.4-1.8.4 3.5.4 2.5.4-3 .4 2.6.4-1 .4-11.2.4 6.2.4-1.5.4 12.4.4-10.4.4 4.6.3-11.9.4 29.3.4-26.3.4 9 .4-1.3.4 2.8.4-6.2.4-2.8.4 9.4.4-3.4.4 1.7.4 0 .4 3 .4-8.2.3 5.2.4-5.3.4 .9.4-1.9.4-1.3.4 3.1.4 .4.4 .9.4-3.3.4 7.1.4 4.1.4-6.2.4 3.2.3-4.7.4 2.4.4-11.2.4 5.5.4 1.8.4-.6.4 2.4.4-6.5.4-6.3.4 20.1.4-8.5.4 .2.4 4.8.4-6.5.3-3 .4 1.4.4 8.1.4 1.9.4-8.4.4 4.2.4 3.2.4-4 .4 1.9.4-7.5.4 7.9.4-4.1.4 1.1.3 1.4.4 1.2.4-7.1.4 12.3.4-2.5.4 5.4.4-10.4.4 5.3.4-3.7.4-3.2.4 6.4.4-10.7.4 2.4.4 6 .3-.4.4 1.5.4 4 .4-7.3.4 8.8.4-19.5.4 22.5.4-12.1.4 7.7.4-4.8.4-3.1.4-6.5.4 7.8.3-2.6.4 8.8.4-8.7.4 6.9.4 0 .4 3.6.4-5.3.4-5.5.4-3.5.4 10.2.4-6.5.4 7.5.4 4.8.4-.6.3-1.6.4-.1.4 1.5.4-16.2.4 12 .4-7.5.4 9.2.4-3.1.4-.3.4 1.2.4-5.5.4 6 .4 5.5.3-6.3.4 1.6.4-6.3.4 3.4.4 3.8.4 1.7.4-6.1.4 6 .4-9.8.4 3.9.4 4.3.4-1.9.4 .7.4-6.8.3 5.7.4 1.9.4 .4.4-13 .4 11.8.4 0 .4 4.6.4-13.8.4-.7.4 1.6.4 7.5.4 5.2.4 5.2.3-14.4.4 6.5.4-5 .4-10.8.4 13.7.4-8.7.4 9.3.4 5.3.4-14.9.4 6 .4-11.2.4 12.8.4 3.6.4-.7.3-8 .4 1.2.4-2.6.4 16.2.4-13.2.4 2.8.4 2.6.4 1.8.4-4.2.4-2.7.4-1.2.4 7.4.4-.2.3-4.8.4-3.9.4 1.6.4-2.5.4 2.1.4-1.6.4 4.9.4-2 .4 2.5.4 2.2.4-.3.4-8 .4-1.2.4 7.8.3-.3.4 2.6.4 .1.4-8.6.4 5.8.4-4.6.4 8.6.4-5.2.4-2.2.4 4.3.4-1.8.4 .6.4-7.7.3 3 .4-4.2.4 7.6.4 .2.4-3.2.4 8.1.4-4.7.4-.5.4-6.3.4 5.6.4-1.9.4-.6.4 1.8.4 6.2.3 3.2.4-7.3.4 2.1.4-4.6.4 1.8.4 1 .4-1.5.4 1.3.4-.9.4-1.2.4 3.5.4-3.3.4 6.7.4-1.1.3-2.5.4 2.5.4-2.8.4 2 .4-12.4.4 7.6.4 3.9.4 3.5.4-1.9.4 .6.4-1.8.4-4.7.4 5.8.3-1.5.4-5.4.4 4 .4 4.4.4-2.4.4-.6.4-1.1.4 2.4.4-.5.4-1 .4 2.6.4-1.9.4-.2.4-1 .3-1.2.4 1.8.4-1.8.4 1.7.4 3.3.4-3.9.4 3.9.4-1.2.4-4.6.4 6.7.4-2.4.4 8.5.4-4.6.3 2.5.4-4.6.4-4.5.4 2.2.4 5.4.4-.1.4 9.7.4-15.3.4-2.2.4 11 .4-3.1.4-6.5.4 15.9.4-10.1.3-2.7.4 4 .4-1.7.4 3.6.4-4.8.4 6.2.4-5.2.4-9.5.4 13.6.4-9 .4-2.7.4 13.3.4 5.7.3-16.6.4 4.6.4-1.1.4-.8.4 2.2.4 7.3.4-8 .4 4.9.4 1.3.4-6.9.4-.9.4 3.3.4-5.4.4 7.9.3-.9.4 2 .4-6.4.4 7.2.4-4.9.4-2.8.4-1.3.4 9.3.4 1.5.4-3.4.4-2.6.4 5.7.4-9.1.3 8.4.4-1.8.4-6.8.4 4.6.4-.7.4 .6.4-2.2.4-.9.4 1.5.4 4 .4-10.3.4 1.6.4 2.3.4 2.4.3 0 .4 1.2.4-3 .4-.8.4 6.2.4-3.3.4-3.1.4 1.4.4-1.8.4-1 .4 6.6.4-8.4.4 9.2.3-6 .4 2.5.4-3.7.4 2.4.4 3 .4-1.4.4 .2.4 .5.4-3.3.4 2.1.4 1.9.4-6.5.4 .8.4 3.4.3 2.4.4-2.4.4-2.2.4 2.3.4-8.2.4 10.5.4-4 .4-5.3.4 3.3.4 4.4.4-2.1.4 2.2.4-1.9.3 .5.4-1 .4-.4.4 .1.4-2.9.4 5 .4-.1.4 .6.4-2.4.4-.9.4 1.8.4-5.8.4 6.9.4 .2.3-3.4.4-.1.4 1.8.4-6.4.4 6.8.4 3.1.4 1.4.4-9.5.4 3.3.4 2.1.4 4.4.4-2.3.4-5.2.4-.2.3-1.5.4 5.2.4-3.7.4 6.8.4-2.4.4-.9.4-4.9.4 7.4.4-3.9.4 3.2.4-1 .4-1.4.4-2.5.3-.5.4 7.3.4-4.3.4 5.1.4-5 .4 1.8.4 1 .4-3.4.4 12.1.4-8.3.4 1.4.4-1.8.4-1.1.4-.7.3-5.9.4 4.3.4 .9.4-3.1.4 2.1.4-2.2.4 2.6.4-3.8.4 7.3.4-2.8.4-4.9.4 .5.4 1 .3 2.8.4-1.8.4 3.2.4-1.1.4-1.2.4 1.9.4-3.8.4 2.1.4 2.9.4-8.1.4 5.6.4-4.5.4 5.1.4 2.1.3-4.8.4 4.2.4-4.4.4 2.2.4 2.6.4-.1.4 4.6.4-3.7.4-8.2.4 4.5.4-.5.4 10 .4-6.5.3-2.4.4 1.4.4 6.9.4-4.1.4-1.6.4-.1.4-2.5.4-.3.4 4.6.4 .1.4-1.6.4-.1.4-1 .4 .9.3-6 .4-10 .4-9 .4-8 .4-10 .4-38 .4-42"/>
</g>
<rect x="160" y="26" width="1964" height="1581" fill="none" stroke="#000" stroke-width="6" stroke-linejoin="round"/>
<line x1="160.0" y1="1607" x2="160.0" y2="1635" stroke="#000" stroke-width="6"/>
<line x1="552.8" y1="1607" x2="552.8" y2="1635" stroke="#000" stroke-width="6"/>
<line x1="945.6" y1="1607" x2="945.6" y2="1635" stroke="#000" stroke-width="6"/>
<line x1="1338.4" y1="1607" x2="1338.4" y2="1635" stroke="#000" stroke-width="6"/>
<line x1="1731.2" y1="1607" x2="1731.2" y2="1635" stroke="#000" stroke-width="6"/>
<line x1="2124.0" y1="1607" x2="2124.0" y2="1635" stroke="#000" stroke-width="6"/>
<line x1="356.4" y1="1607" x2="356.4" y2="1620" stroke="#000" stroke-width="6"/>
<line x1="749.2" y1="1607" x2="749.2" y2="1620" stroke="#000" stroke-width="6"/>
<line x1="1142.0" y1="1607" x2="1142.0" y2="1620" stroke="#000" stroke-width="6"/>
<line x1="1534.8" y1="1607" x2="1534.8" y2="1620" stroke="#000" stroke-width="6"/>
<line x1="1927.6" y1="1607" x2="1927.6" y2="1620" stroke="#000" stroke-width="6"/>
<text transform="translate(160.0,1703) scale(0.923,1)" class="tk">0</text>
<text transform="translate(552.8,1703) scale(0.923,1)" class="tk">20</text>
<text transform="translate(945.6,1703) scale(0.923,1)" class="tk">40</text>
<text transform="translate(1338.4,1703) scale(0.923,1)" class="tk">60</text>
<text transform="translate(1731.2,1703) scale(0.923,1)" class="tk">80</text>
<text transform="translate(2124.0,1703) scale(0.923,1)" class="tk">100</text>
<text x="1141.5" y="1819.5" class="ax" style="font-size:76px">2<tspan class="th">θ</tspan> (deg)</text>
<text transform="translate(80,817) rotate(-90)" class="ax">Intensity</text>
<text x="1796" y="426.5" class="lg" fill="#8000ff">NCMM_3/AC</text>
<text x="1795.9" y="766.5" class="lg" fill="#008000">NCMM_2/AC</text>
<text x="1797.9" y="1017" class="lg" fill="#0000ff">NCMM_1/AC</text>
<text x="1854.5" y="1220" class="lg" fill="#ff0000">NCM/AC</text>
<text x="1895.5" y="1531" class="lg" fill="#000">AC</text>
</svg>
</body></html>
